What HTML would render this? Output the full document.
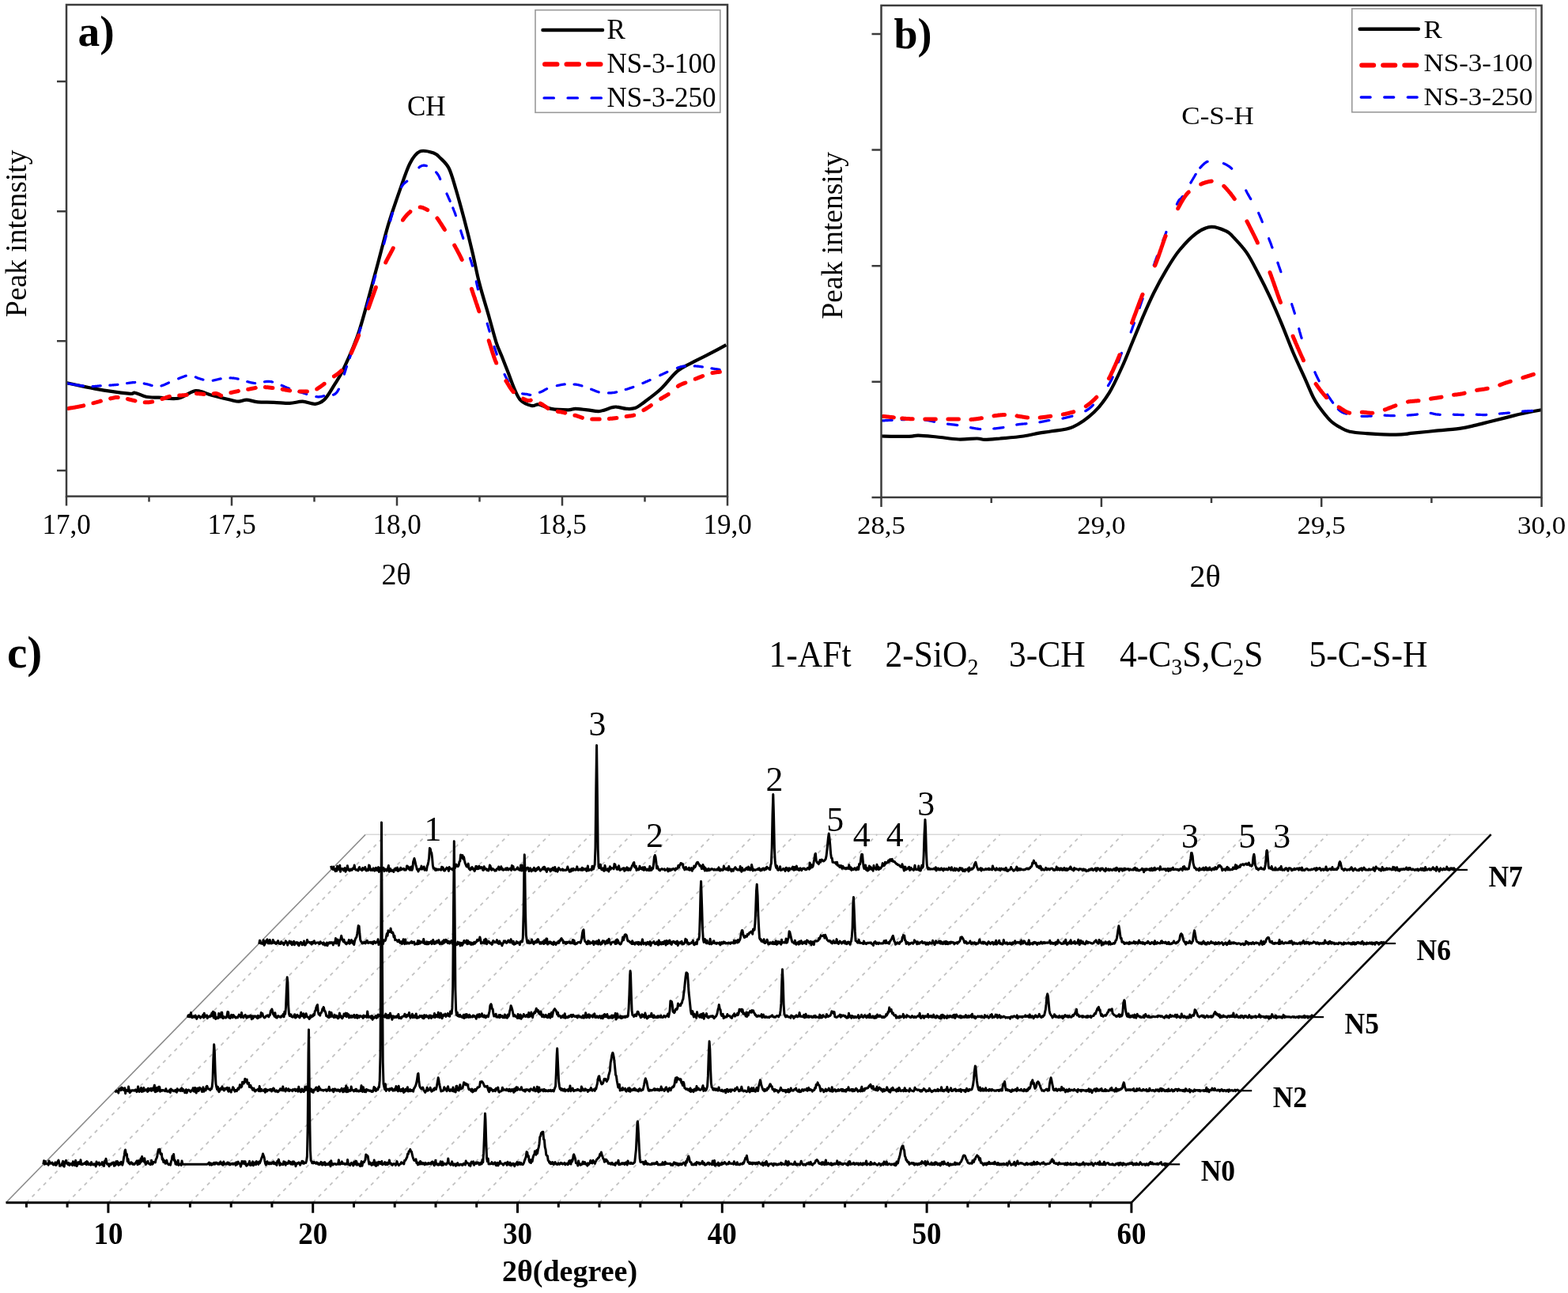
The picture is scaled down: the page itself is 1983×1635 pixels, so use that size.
<!DOCTYPE html>
<html><head><meta charset="utf-8"><title>XRD figure</title>
<style>html,body{margin:0;padding:0;background:#fff;overflow:hidden;width:1983px;height:1635px;}svg{display:block;}</style>
</head><body>
<svg width="1983" height="1635" viewBox="0 0 1983 1635">
<rect width="100%" height="100%" fill="#fff"/>
<defs><clipPath id="ca"><rect x="84" y="6" width="836" height="621"/></clipPath><clipPath id="cb"><rect x="1114.5" y="7" width="835" height="621"/></clipPath></defs>
<g clip-path="url(#ca)" fill="none" stroke-linejoin="round">
<path d="M84 484.1C90.1 485.4 107.2 489.4 120.3 491.6C133.5 493.9 154.3 496.8 162.7 497.7C171.1 498.5 167.1 496 170.8 496.7C174.5 497.3 179.8 500.7 184.9 501.7C189.9 502.7 194.3 502.4 201 502.7C207.8 503 217.5 505.1 225.2 503.7C233 502.3 240.4 494.9 247.4 494.2C254.5 493.6 260.2 497.8 267.6 499.7C275 501.6 286.1 504.4 291.8 505.7C297.5 507.1 298.5 507.7 301.9 507.7C305.2 507.7 307.9 505.6 312 505.7C316 505.8 320.4 507.8 326.1 508.4C331.8 508.9 339.5 508.5 346.3 508.8C353 509 360.4 509.9 366.4 509.8C372.5 509.6 377.2 507.6 382.6 507.7C388 507.9 394 511.3 398.7 510.8C403.4 510.3 406.8 508.8 410.8 504.7C414.8 500.7 418.9 493.1 422.9 486.6C426.9 480 429.8 476.8 435 465.4C440.2 454.1 447.5 439 454.3 418.3C461 397.6 469.6 363.4 475.7 341.3C481.7 319.1 485.7 302.4 490.6 285.6C495.6 268.8 501 253.9 505.6 240.6C510.3 227.4 514.2 214.6 518.5 206.4C522.8 198.2 526.3 193.5 531.3 191.4C536.3 189.3 544.2 192.1 548.5 193.5C552.7 195 553.8 196.8 557 200C560.2 203.2 564.5 206.4 567.7 212.8C570.9 219.2 573.1 227.8 576.3 238.5C579.5 249.2 583.4 263.5 587 277C590.6 290.6 594.5 306.3 597.7 319.9C600.9 333.4 602.7 344.7 606.3 358.4C609.8 372.1 615.4 389.8 618.9 402.2C622.4 414.6 624.9 424.6 627.5 432.8C630.1 441 632.2 444.5 634.8 451.1C637.4 457.7 640.4 465.4 643.1 472.3C645.7 479.1 648.2 486.6 650.8 492.3C653.3 497.9 654.9 502.7 658.4 506.1C662 509.6 668.4 512.1 672.3 513C676.1 513.9 677.4 510.9 681.5 511.5C685.6 512.1 690.7 515.7 696.9 516.9C703.1 518 713.3 518.4 718.4 518.4C723.6 518.4 723.6 516.9 727.7 516.9C731.8 516.9 737.9 517.9 743 518.4C748.2 518.9 753.3 520.5 758.4 520C763.5 519.5 770.2 516.2 773.8 515.3C777.4 514.5 776.9 514.3 780 514.6C783 514.8 788.4 516.6 792.3 516.9C796.1 517.1 799.4 517.4 803 516.1C806.6 514.8 808.4 513.2 813.8 509.2C819.2 505.2 828.1 498.9 835.3 492.3C842.5 485.6 849.7 475.1 856.9 469.2C864 463.3 871.7 460.5 878.4 456.9C885 453.3 890.2 451.1 896.8 447.7C903.5 444.2 914.8 438.1 918.4 436.1" stroke="#000" stroke-width="4.2"/>
<path d="M85.6 484.8 85.6 484.8 86.1 484.9 86.6 485 87.1 485.1 87.7 485.2 88.3 485.3 88.9 485.4 89.5 485.5 90.2 485.6 90.8 485.7 91.5 485.9 92.2 486 92.9 486.1 93.7 486.2 94.4 486.4 95.1 486.5 95.7 486.6M95.3 486.5 95.9 486.6 96.6 486.8 97.4 486.9 98.2 487 98.9 487.1 99.7 487.3 100.5 487.4 101.2 487.5 102 487.6 102.8 487.7 103.5 487.8 104.3 487.9 105 488 105.4 488.1M117 488.6 117.4 488.6 117.9 488.6 118.4 488.6 119 488.5 119.5 488.5 120 488.5 120.5 488.4 121 488.4 121.5 488.4 122 488.3 122.5 488.3 122.9 488.2 123.4 488.2 123.9 488.1 124.4 488.1 124.9 488 125.3 488 125.8 487.9 126.3 487.9 126.7 487.9 127.2 487.8M138.8 487.2 139 487.2 139.4 487.1 139.7 487.1 140.1 487.1 140.5 487.1 140.9 487 141.3 487 141.7 487 142.1 487 142.5 486.9 142.9 486.9 143.3 486.9 143.7 486.8 144.2 486.8 144.6 486.7 145.1 486.7 145.6 486.7 146.1 486.6 146.6 486.6 147.1 486.5 147.6 486.5 148.1 486.4 148.7 486.3 149 486.3M160.5 484.6 160.8 484.6 161.4 484.5 162.1 484.4 162.7 484.3 163.4 484.2 164 484.1 164.6 484.1 165.2 484 165.8 483.9 166.4 483.9 167 483.8 167.6 483.7 168.2 483.7 168.7 483.6 169.3 483.6 169.8 483.6 170.3 483.6 170.7 483.5M182.3 485 182.4 485.1 182.8 485.2 183.1 485.2 183.4 485.3 183.8 485.4 184.2 485.4 184.5 485.5 184.9 485.6 185.3 485.6 185.6 485.7 186 485.8 186.4 485.9 186.8 486 187.2 486.1 187.5 486.2 187.9 486.3 188.3 486.4 188.7 486.5 189.1 486.6 189.5 486.7 189.8 486.9 190.2 487 190.6 487.1 191 487.2 191.4 487.3 191.8 487.5 192.1 487.6M204 487.9 204.3 487.8 204.8 487.6 205.3 487.5 205.8 487.3 206.3 487.1 206.8 486.9 207.4 486.7 207.9 486.5 208.4 486.3 208.9 486.1 209.4 485.8 209.9 485.6 210.5 485.4 211 485.1 211.5 484.9 212 484.6 212.6 484.4 213.1 484.1 213.4 484M225.7 478.8 226 478.6 226.5 478.4 227 478.2 227.5 478 227.9 477.8 228.4 477.7 228.9 477.5 229.4 477.3 229.8 477.1 230.3 476.9 230.8 476.7 231.2 476.6 231.7 476.4 232.2 476.2 232.6 476.1 233.1 475.9 233.5 475.8 234 475.6 234.4 475.5 234.9 475.3 235.2 475.2M247.4 476.8 247.6 476.9 247.9 477 248.1 477.2 248.4 477.3 248.7 477.5 249 477.6 249.3 477.7 249.6 477.9 249.9 478 250.2 478.1 250.5 478.2 250.8 478.3 251.1 478.4 251.5 478.5 251.8 478.6 252.1 478.7 252.4 478.8 252.8 478.9 253.1 479 253.4 479.1 253.8 479.2 254.1 479.3 254.5 479.4 254.8 479.5 255.1 479.6 255.5 479.7 255.8 479.8 256.2 479.9 256.5 480 256.9 480.1 257 480.1M269.3 481.2 269.5 481.1 269.9 481 270.3 481 270.7 480.9 271.1 480.8 271.5 480.7 271.9 480.6 272.3 480.5 272.7 480.4 273.1 480.3 273.5 480.2 273.9 480.1 274.3 480 274.8 479.9 275.2 479.8 275.6 479.7 276 479.6 276.4 479.5 276.8 479.4 277.2 479.3 277.6 479.2 278 479.1 278.5 479 278.9 478.9 279.2 478.9M291 477.9 291.2 477.9 291.6 477.9 292 477.9 292.4 478 292.8 478 293.3 478 293.7 478 294.1 478.1 294.5 478.1 295 478.1 295.4 478.2 295.9 478.2 296.4 478.3 296.9 478.4 297.4 478.4 297.9 478.5 298.4 478.6 298.9 478.7 299.4 478.8 300 478.9 300.5 479 301.1 479.2 301.2 479.2M312.7 482.6 312.9 482.6 313.6 482.8 314.2 483 314.8 483.1 315.5 483.3 316.1 483.5 316.7 483.6 317.3 483.8 318 483.9 318.6 484 319.2 484.1 319.8 484.2 320.4 484.3 320.9 484.4 321.5 484.5 322.1 484.5 322.6 484.6 322.7 484.6M334.5 482.8 334.5 482.8 335 482.7 335.5 482.7 336 482.6 336.5 482.5 337 482.4 337.5 482.4 338 482.4 338.5 482.3 339 482.3 339.5 482.3 340.1 482.3 340.6 482.3 341.1 482.4 341.7 482.5 342.2 482.5 342.8 482.6 343.4 482.7 343.9 482.9 344.5 483 344.6 483M356.2 487.3 356.5 487.5 357.1 487.7 357.8 488 358.4 488.3 359 488.6 359.6 488.8 360.3 489.1 360.9 489.4 361.5 489.6 362 489.9 362.6 490.1 363.2 490.4 363.8 490.6 364.3 490.8 364.9 491 365.4 491.2 365.6 491.3M378 495.3 378.2 495.4 378.6 495.5 379 495.6 379.3 495.7 379.7 495.8 380.1 495.9 380.5 496 380.9 496.2 381.3 496.3 381.7 496.4 382.1 496.5 382.6 496.7 383 496.8 383.4 496.9 383.9 497 384.3 497.2 384.8 497.3 385.2 497.5 385.7 497.6 386.2 497.8 386.6 497.9 387.1 498.1 387.6 498.2 387.7 498.3M399.8 501.6 400 501.6 400.3 501.7 400.7 501.7 401.1 501.7 401.5 501.8 401.8 501.8 402.2 501.8 402.5 501.8 402.9 501.8 403.2 501.8 403.5 501.8 403.8 501.8 404.1 501.8 404.4 501.7 404.7 501.7 405 501.7 405.3 501.6 405.6 501.6 405.9 501.5 406.2 501.5 406.5 501.4 406.8 501.4 407 501.3 407.3 501.3 407.6 501.2 407.9 501.1 408.1 501 408.4 501 408.7 500.9 409 500.8 409.2 500.7 409.5 500.6 409.8 500.6 409.8 500.6M421.5 499.2 421.5 499.2 421.9 499.1 422.3 499 422.6 498.8 423 498.6 423.3 498.4 423.7 498.2 424.1 497.9 424.4 497.6 424.8 497.3 425.2 497 425.5 496.6 425.9 496.1 426.2 495.7 426.6 495.2 426.9 494.6 427.3 494 427.7 493.4 428 492.7 428.4 492.1M435.4 473.1 435.4 473.1 435.7 472 436.1 470.8 436.5 469.7 436.8 468.5 437.2 467.4 437.5 466.3 437.9 465.1 438.3 464 438.5 463.4M442.3 452.5 442.4 452.1 442.7 451.3 443 450.5 443.3 449.7 443.6 448.9 443.9 448.2 444.2 447.4 444.5 446.7 444.8 446 445.1 445.3 445.4 444.6 445.7 443.9 446 443.3 446.1 443M453.1 424.1 453.4 423.1 453.8 421.8 454.3 420.5 454.7 419.1 455.1 417.6 455.6 416.1 456.1 414.5 456.1 414.3M463.9 387.7 464.2 386.4 464.8 384.4 465.4 382.3 466 380.2 466.6 378.2 466.7 377.9M472.1 358.4 472.2 358 472.7 356.1 473.2 354.3 473.7 352.4 474.2 350.7 474.7 348.9 474.8 348.6M485.6 308.3 485.7 308.1 486 306.8 486.4 305.5 486.7 304.2 487.1 302.9 487.4 301.6 487.8 300.3 488.1 299 488.3 298.5M493.7 279 494.1 277.7 494.4 276.3 494.8 274.9 495.2 273.6 495.6 272.2 496 270.8 496.4 269.4 496.4 269.2M507.7 236.5 508 236 508.3 235.5 508.7 235 509 234.5 509.3 234.1 509.6 233.6 510 233.2 510.3 232.9 510.6 232.5 510.9 232.2 511.2 231.9 511.6 231.6 511.9 231.3 512.2 231 512.5 230.8 512.8 230.5 513.1 230.3 513.4 230 513.8 229.8 514.1 229.5 514.4 229.3 514.7 229.1M529.9 211.8 530.1 211.6 530.4 211.3 530.7 211.1 531 210.9 531.3 210.7 531.6 210.5 531.9 210.3 532.2 210.2 532.5 210 532.8 209.9 533 209.8 533.3 209.7 533.6 209.6 533.9 209.5 534.2 209.4 534.4 209.4 534.7 209.3 535 209.3 535.2 209.2 535.5 209.2 535.8 209.2 536 209.2 536.3 209.2 536.5 209.2 536.8 209.2 537.1 209.2 537.3 209.3 537.6 209.3 537.9 209.3 538.1 209.4 538.4 209.4 538.6 209.5 538.9 209.6 539.1 209.6 539.3 209.7M551.6 217.9 551.6 217.9 551.8 218.2 552.1 218.4 552.3 218.7 552.5 219 552.7 219.2 552.9 219.5 553.1 219.8 553.3 220 553.5 220.3 553.7 220.5 553.8 220.7 554 221 554.2 221.2 554.3 221.4 554.4 221.6 554.6 221.9 554.7 222.1 554.8 222.3 555 222.6 555.1 222.8 555.2 223 555.3 223.3 555.4 223.5 555.6 223.8 555.7 224.1 555.8 224.3 555.9 224.6 556 224.9 556.2 225.2 556.3 225.5 556.4 225.8 556.6 226.2 556.7 226.5 556.7 226.5M565 245 565.1 245.3 565.6 246.2 566 247.1 566.4 248 566.8 248.9 567.2 249.9 567.6 250.8 568 251.8 568.5 252.7 568.9 253.7 569.2 254.3M572.8 263 573.1 263.8 573.5 264.6 573.8 265.5 574.1 266.3 574.5 267.2 574.8 268 575.1 268.8 575.4 269.6 575.7 270.4 576 271.2 576.2 272 576.4 272.5M582.7 291.7 582.9 292.5 583.2 293.3 583.4 294.1 583.7 295 584 295.8 584.3 296.7 584.6 297.6 584.8 298.5 585.1 299.3 585.4 300.2 585.8 301.1 585.8 301.4M594.5 326.5 594.7 327.4 595 328.3 595.4 329.3 595.7 330.3 596 331.3 596.3 332.2 596.6 333.2 596.9 334.1 597.1 335.1 597.4 336 597.5 336.2M602.3 355.9 602.3 356.1 602.5 357 602.7 357.9 602.9 358.8 603.1 359.7 603.3 360.6 603.5 361.5 603.7 362.4 603.9 363.3 604.1 364.2 604.3 365.1 604.4 365.8M616.2 409.2 616.4 409.9 616.7 410.9 617 411.9 617.3 412.9 617.6 413.9 617.9 414.9 618.2 416 618.5 417 618.8 418 619.1 419M625 438.3 625.1 438.3 625.4 439.4 625.7 440.4 626 441.4 626.4 442.4 626.7 443.4 627 444.4 627.3 445.4 627.7 446.3 628 447.3 628.2 448M638.1 473.5 638.1 473.5 638.4 474.1 638.7 474.6 638.9 475.2 639.2 475.7 639.4 476.2 639.7 476.7 640 477.3 640.2 477.8 640.5 478.3 640.8 478.8 641 479.3 641.3 479.8 641.6 480.3 641.9 480.7 642.1 481.2 642.4 481.7 642.7 482.1 642.9 482.5M660.7 497.8 660.9 497.9 661 497.9 661.2 497.9 661.4 498 661.5 498 661.7 498 661.9 498.1 662 498.1 662.2 498.1 662.3 498.1 662.5 498.2 662.6 498.2 662.8 498.2 663 498.2 663.1 498.2 663.3 498.2 663.4 498.2 663.6 498.2 663.7 498.3 663.9 498.3 664 498.3 664.2 498.3 664.3 498.3 664.5 498.3 664.6 498.3 664.8 498.3 664.9 498.3 665.1 498.3 665.2 498.3 665.4 498.3 665.5 498.4 665.7 498.4 665.8 498.4 666 498.4 666.1 498.4 666.3 498.5 666.4 498.5 666.6 498.5 666.7 498.5 666.9 498.6 667 498.6 667.2 498.6 667.3 498.7 667.4 498.7 667.5 498.7 667.7 498.8 667.8 498.8 667.9 498.9 668.1 498.9 668.2 498.9 668.3 499 668.4 499 668.6 499 668.7 499.1 668.8 499.1 669 499.1 669.1 499.2 669.3 499.2 669.4 499.2 669.5 499.3 669.7 499.3 669.8 499.3 670 499.3 670.2 499.3 670.3 499.3 670.5 499.3 670.7 499.3 670.8 499.3M682.5 496.2 682.5 496.1 682.9 496 683.2 495.9 683.5 495.8 683.8 495.7 684 495.6 684.3 495.5 684.6 495.4 684.9 495.2 685.1 495.1 685.4 495 685.6 494.9 685.8 494.8 686.1 494.7 686.3 494.6 686.5 494.5 686.7 494.4 686.9 494.3 687.1 494.1 687.3 494 687.5 493.9 687.7 493.8 687.9 493.7 688.1 493.6 688.3 493.4 688.4 493.3 688.6 493.2 688.8 493.1 689 493 689.2 492.9 689.4 492.7 689.6 492.6 689.8 492.5 690 492.4 690.3 492.3 690.5 492.1 690.7 492 690.9 491.9 691.2 491.8 691.4 491.7 691.6 491.6M704.3 487.7 704.7 487.6 705.2 487.5 705.7 487.4 706.2 487.3 706.7 487.2 707.2 487.1 707.7 487 708.2 486.9 708.6 486.8 709.1 486.7 709.6 486.6 710.1 486.5 710.5 486.4 711 486.3 711.4 486.3 711.9 486.2 712.3 486.1 712.7 486.1 713.1 486 713.5 486 714 485.9 714.3 485.9M726 486 726.3 486 726.6 486 727 486.1 727.3 486.1 727.7 486.1 728 486.2 728.3 486.2 728.7 486.2 729 486.3 729.3 486.3 729.6 486.4 729.9 486.4 730.2 486.5 730.5 486.5 730.8 486.6 731.1 486.6 731.4 486.7 731.7 486.8 731.9 486.8 732.2 486.9 732.5 487 732.8 487 733.1 487.1 733.3 487.2 733.6 487.2 733.9 487.3 734.2 487.4 734.5 487.5 734.7 487.5 735 487.6 735.3 487.7 735.6 487.8 735.9 487.9 736 487.9M747.7 492.2 747.7 492.2 748.2 492.4 748.7 492.6 749.2 492.8 749.7 493 750.2 493.2 750.7 493.4 751.2 493.6 751.7 493.8 752.2 494 752.7 494.2 753.1 494.4 753.6 494.6 754.1 494.7 754.6 494.9 755 495.1 755.5 495.2 755.9 495.4 756.4 495.5 756.8 495.7 757.2 495.8 757.2 495.8M769.5 496.9 769.6 496.9 769.9 496.9 770.1 496.9 770.4 496.9 770.7 496.9 771 496.9 771.3 496.9 771.6 496.9 771.8 496.9 772.1 496.8 772.3 496.8 772.6 496.8 772.8 496.8 773.1 496.8 773.3 496.8 773.5 496.8 773.8 496.7 774 496.7 774.2 496.7 774.5 496.7 774.7 496.7 774.9 496.6 775.2 496.6 775.4 496.6 775.6 496.6 775.9 496.5 776.1 496.5 776.3 496.5 776.6 496.4 776.8 496.4 777.1 496.3 777.4 496.3 777.6 496.2 777.9 496.2 778.2 496.1 778.5 496.1 778.8 496 779.1 495.9 779.4 495.9 779.7 495.8M791.2 492.6 791.5 492.5 792.1 492.3 792.6 492.2 793.2 492 793.7 491.8 794.2 491.7 794.8 491.5 795.3 491.3 795.8 491.1 796.4 491 796.9 490.8 797.4 490.6 798 490.4 798.5 490.3 799 490.1 799.5 489.9 800 489.7 800.5 489.6 800.9 489.4M812.9 484.6 813.2 484.5 813.7 484.3 814.1 484.1 814.6 483.9 815 483.7 815.5 483.5 816 483.3 816.5 483.1 816.9 482.8 817.4 482.6 817.9 482.4 818.4 482.2 818.9 482 819.4 481.7 819.9 481.5 820.5 481.3 821 481 821.5 480.8 822.1 480.5 822.2 480.5M834.6 474.6 834.7 474.6 835.3 474.3 835.9 474 836.5 473.7 837.1 473.5 837.7 473.2 838.2 472.9 838.8 472.7 839.4 472.4 839.9 472.1 840.5 471.9 841 471.7 841.5 471.4 842 471.2 842.5 471 843 470.7 843.5 470.5 843.9 470.4M856.5 465.3 856.6 465.2 856.9 465.1 857.2 465 857.5 464.9 857.8 464.8 858.1 464.7 858.4 464.6 858.7 464.5 858.9 464.4 859.2 464.3 859.4 464.2 859.7 464.2 859.9 464.1 860.1 464 860.3 464 860.5 463.9 860.7 463.9 860.8 463.8 861 463.7 861.2 463.7 861.3 463.7 861.5 463.6 861.6 463.6 861.8 463.5 861.9 463.5 862.1 463.5 862.2 463.4 862.4 463.4 862.5 463.4 862.7 463.4 862.8 463.3 863 463.3 863.1 463.3 863.3 463.3 863.4 463.3 863.6 463.2 863.8 463.2 864 463.2 864.2 463.2 864.4 463.2 864.6 463.2 864.8 463.1 865 463.1 865.3 463.1 865.5 463.1 865.8 463.1 866.1 463.1 866.3 463M878.3 462.9 878.7 462.9 879.1 462.9 879.5 462.9 879.9 463 880.3 463 880.7 463 881.1 463 881.5 463.1 881.8 463.1 882.2 463.1 882.6 463.2 883 463.2 883.4 463.2 883.8 463.3 884.1 463.3 884.5 463.4 884.9 463.4 885.3 463.5 885.7 463.5 886.1 463.6 886.5 463.6 886.8 463.7 887.2 463.8 887.6 463.8 888 463.9 888.4 463.9 888.4 463.9M900 465.8 900.2 465.9 900.6 465.9 901 466 901.5 466.1 901.9 466.1 902.4 466.2 902.8 466.3 903.3 466.3 903.7 466.4 904.2 466.5 904.6 466.5 905.1 466.6 905.5 466.7 905.9 466.7 906.3 466.8 906.8 466.9 907.2 466.9 907.6 467 908 467 908.4 467.1 908.7 467.1 909.1 467.2 909.5 467.3 909.8 467.3 910.1 467.4" stroke="#0000ff" stroke-width="3.2" stroke-linecap="round"/>
<path d="M86.5 516.4 86.9 516.4 87.3 516.3 87.7 516.2 88.2 516.1 88.7 516.1 89.2 516 89.7 515.9 90.2 515.8 90.7 515.7 91.3 515.7 91.8 515.6 92.4 515.5 93 515.4 93.6 515.3 94.2 515.2 94.8 515.1 95.4 515 96 514.8M96.2 514.8 96.7 514.7 97.3 514.6 98 514.5 98.6 514.4 99.3 514.2 100 514.1 100.7 514 101.3 513.8 102 513.7 102.7 513.6 103.4 513.4 104.1 513.3 104.8 513.1 105.5 513 105.7 512.9M117.9 509.7 118.2 509.7 119.2 509.4 120.1 509.1 121.1 508.9 122.1 508.6 123 508.3 124 508.1 125 507.8 125.9 507.5 126.9 507.3 127.4 507.1M139.7 503.9 139.9 503.8 140.5 503.7 141.1 503.6 141.6 503.5 142.1 503.4 142.6 503.3 143 503.2 143.5 503.1 143.9 503 144.3 502.9 144.6 502.8 145 502.8 145.3 502.7 145.6 502.7 145.9 502.6 146.2 502.6 146.4 502.5 146.7 502.5 146.9 502.5 147.1 502.4 147.4 502.4 147.6 502.4 147.8 502.4 148 502.4 148.2 502.4 148.4 502.4 148.6 502.4 148.8 502.4 149 502.4 149.2 502.4M161.4 504.5 161.9 504.7 162.4 504.8 162.9 504.9 163.4 505 163.8 505.2 164.3 505.3 164.8 505.4 165.3 505.5 165.8 505.6 166.2 505.8 166.7 505.9 167.2 506 167.6 506.1 168.1 506.2 168.6 506.3 169 506.4 169.5 506.5 169.9 506.6 170.3 506.7 170.8 506.7 170.9 506.8M183.2 508.7 183.5 508.7 183.8 508.7 184.2 508.7 184.6 508.7 185 508.8 185.4 508.8 185.8 508.8 186.1 508.8 186.5 508.8 186.9 508.8 187.3 508.7 187.7 508.7 188 508.7 188.4 508.7 188.8 508.6 189.1 508.6 189.5 508.6 189.8 508.5 190.2 508.5 190.5 508.4 190.9 508.3 191.2 508.3 191.6 508.2 191.9 508.1 192.3 508.1 192.6 508 192.7 508M204.9 504.5 205.3 504.4 205.7 504.2 206.1 504.1 206.5 504 206.9 503.8 207.3 503.7 207.7 503.5 208.2 503.4 208.6 503.2 209 503.1 209.4 502.9 209.8 502.8 210.2 502.7 210.6 502.5 211 502.4 211.4 502.2 211.8 502.1 212.3 502 212.7 501.8 213.1 501.7 213.5 501.6 213.9 501.5 214.3 501.4 214.4 501.3M226.7 500 227 500 227.4 500 227.8 499.9 228.2 499.9 228.6 499.9 229 499.9 229.4 499.9 229.8 499.9 230.2 499.9 230.6 499.9 231 499.8 231.4 499.8 231.8 499.8 232.2 499.8 232.5 499.7 232.9 499.7 233.3 499.7 233.7 499.6 234.1 499.6 234.4 499.6 234.8 499.5 235.2 499.5 235.5 499.4 235.9 499.3 236.2 499.3M248.4 497.6 248.5 497.6 248.8 497.6 249.2 497.7 249.6 497.7 249.9 497.7 250.3 497.7 250.6 497.7 251 497.7 251.4 497.8 251.7 497.8 252.1 497.8 252.4 497.9 252.8 497.9 253.2 497.9 253.5 498 253.9 498 254.2 498.1 254.6 498.1 255 498.1 255.3 498.2 255.7 498.2 256 498.3 256.4 498.3 256.8 498.3 257.1 498.4 257.5 498.4 257.8 498.5 257.9 498.5M270.2 497.7 270.4 497.7 270.7 497.7 271 497.7 271.2 497.7 271.5 497.6 271.8 497.6 272.1 497.6 272.3 497.6 272.6 497.6 272.9 497.6 273.1 497.6 273.4 497.6 273.6 497.7 273.9 497.7 274.1 497.7 274.4 497.8 274.6 497.8 274.8 497.9 275.1 498 275.3 498 275.5 498.1 275.7 498.2 275.9 498.3 276.1 498.4 276.3 498.5 276.5 498.6 276.7 498.7 276.9 498.8 277.1 498.9 277.3 499 277.4 499.1 277.6 499.3 277.8 499.4 278 499.5 278.2 499.6 278.4 499.7 278.5 499.8 278.7 499.9 278.9 500 279.1 500.1 279.3 500.2 279.5 500.3 279.7 500.3 279.7 500.3M291.9 496.6 292.2 496.6 292.6 496.4 293 496.3 293.4 496.2 293.8 496.1 294.3 496 294.7 495.9 295.2 495.8 295.7 495.7 296.1 495.6 296.6 495.5 297.1 495.4 297.6 495.3 298.1 495.2 298.6 495.1 299.1 495 299.7 494.9 300.2 494.8 300.7 494.7 301.3 494.6 301.4 494.5M313.7 492.3 314 492.3 314.5 492.2 315 492.1 315.5 492 316 491.9 316.5 491.8 317 491.7 317.5 491.6 318 491.5 318.5 491.4 319 491.3 319.5 491.2 320 491.1 320.5 491 321 490.9 321.6 490.8 322.1 490.7 322.6 490.6 323.1 490.6 323.2 490.5M335.4 489.6 335.7 489.6 336.2 489.7 336.7 489.7 337.2 489.7 337.7 489.8 338.2 489.8 338.7 489.8 339.2 489.9 339.7 489.9 340.2 490 340.7 490 341.2 490.1 341.7 490.2 342.2 490.2 342.7 490.3 343.2 490.4 343.7 490.4 344.2 490.5 344.8 490.6 344.9 490.6M357.2 492.3 357.4 492.4 357.9 492.5 358.4 492.5 358.9 492.6 359.4 492.7 359.9 492.8 360.4 492.9 360.9 493 361.4 493.1 361.9 493.2 362.4 493.2 362.9 493.3 363.4 493.4 363.9 493.5 364.4 493.6 364.9 493.7 365.4 493.8 365.9 493.8 366.4 493.9 366.7 494M378.9 495 379.4 495 379.9 495 380.5 495 381 495 381.6 495.1 382.1 495.1 382.7 495.1 383.2 495.1 383.7 495.1 384.3 495.1 384.8 495.1 385.3 495.1 385.8 495.1 386.3 495.1 386.8 495 387.3 495 387.8 495 388.3 495 388.4 495M400.7 491.9 400.7 491.8 401 491.7 401.3 491.5 401.5 491.3 401.8 491.2 402.1 491 402.4 490.8 402.7 490.6 403.1 490.4 403.4 490.2 403.8 489.9 404.1 489.7 404.5 489.5 404.9 489.2 405.2 488.9 405.6 488.7 406 488.4 406.4 488.1 406.8 487.8 407.2 487.5 407.6 487.2 408 486.9 408.4 486.6 408.9 486.3 409.3 486 409.7 485.6 410.1 485.3 410.2 485.3M422.4 475.9 422.7 475.8 423 475.5 423.4 475.3 423.8 475 424.1 474.8 424.5 474.5 424.9 474.2 425.2 474 425.6 473.7 426 473.5 426.3 473.2 426.7 473 427 472.7 427.4 472.4 427.8 472.2 428.1 471.9 428.4 471.7 428.8 471.4 429.1 471.1 429.5 470.8 429.8 470.6 430.1 470.3 430.4 470 430.8 469.7 431.1 469.4 431.4 469.1 431.7 468.8 431.9 468.6M444.2 446.5 444.4 446.2 444.7 445.4 445 444.7 445.3 444 445.7 443.2 446 442.5 446.3 441.7 446.7 440.9 447 440.1 447.4 439.3 447.7 438.5 448 437.7 448.4 436.9 448.7 436.1 449.1 435.3 449.4 434.5 449.7 433.7 450.1 432.9 450.4 432.1 450.8 431.3 451.1 430.5 451.4 429.7 451.8 428.9 452.1 428.1 452.4 427.3 452.7 426.5 453 425.7 453.3 424.9 453.7 424.1 453.7 424M465.9 389.9 466 389.6 466.3 388.9 466.6 388.1 466.8 387.4 467.1 386.6 467.4 385.9 467.6 385.1 467.9 384.3 468.2 383.6 468.4 382.8 468.7 382.1 469 381.3 469.2 380.6 469.5 379.8 469.8 379 470 378.3 470.3 377.5 470.6 376.8 470.8 376 471.1 375.3 471.4 374.5 471.6 373.8 471.9 373 472.2 372.3 472.5 371.5 472.7 370.8 473 370 473.3 369.3 473.5 368.5 473.8 367.8 474.1 367.1 474.3 366.3 474.6 365.6 474.9 364.9 475.1 364.1 475.4 363.4 475.4 363.3M487.7 332 487.9 331.5 488.2 330.9 488.5 330.3 488.9 329.6 489.2 329 489.5 328.3 489.9 327.7 490.2 327 490.5 326.4 490.9 325.8 491.2 325.2 491.6 324.5 491.9 323.9 492.2 323.3 492.6 322.6 492.9 322 493.3 321.4 493.6 320.7 493.9 320.1 494.3 319.5 494.6 318.9 494.9 318.2 495.3 317.6 495.6 317 495.9 316.3 496.3 315.7 496.6 315 496.9 314.4 497.2 313.8 497.2 313.8M509.4 278.3 509.5 278.3 509.8 277.8 510.1 277.3 510.4 276.9 510.7 276.4 511.1 276 511.4 275.5 511.7 275.1 512 274.7 512.4 274.3 512.7 273.9 513 273.5 513.4 273.1 513.7 272.7 514.1 272.4 514.4 272 514.7 271.6 515.1 271.3 515.4 270.9 515.8 270.6 516.1 270.3 516.5 270 516.8 269.6 517.1 269.3 517.5 269 517.8 268.7 518.1 268.4 518.4 268.2 518.8 267.9 518.9 267.7M531.2 262.1 531.3 262.1 531.6 262.1 531.9 262.1 532.1 262.1 532.4 262.1 532.7 262.2 533 262.2 533.2 262.3 533.5 262.3 533.8 262.4 534.1 262.5 534.3 262.6 534.6 262.6 534.9 262.7 535.2 262.8 535.4 262.9 535.7 263.1 536 263.2 536.3 263.3 536.5 263.4 536.8 263.5 537.1 263.7 537.4 263.8 537.6 263.9 537.9 264.1 538.2 264.2 538.4 264.3 538.7 264.5 539 264.6 539.2 264.8 539.5 264.9 539.8 265.1 540 265.2 540.3 265.4 540.5 265.5 540.7 265.6M552.9 275.9 553.2 276.3 553.6 276.7 553.9 277.2 554.2 277.7 554.5 278.1 554.9 278.6 555.2 279.1 555.5 279.6 555.9 280.2 556.2 280.7 556.5 281.2 556.9 281.7 557.2 282.3 557.6 282.8 557.9 283.3 558.2 283.9 558.6 284.4 558.9 284.9 559.3 285.5 559.6 286 559.9 286.5 560.3 287.1 560.6 287.6 560.9 288.1 561.3 288.6 561.6 289.1 561.9 289.6 562.2 290.1 562.4 290.5M574.7 310.2 574.7 310.2 575 310.8 575.4 311.4 575.7 311.9 576 312.5 576.3 313.1 576.6 313.7 577 314.3 577.3 314.9 577.6 315.5 578 316.2 578.3 316.8 578.7 317.4 579 318.1 579.3 318.7 579.7 319.4 580 320 580.4 320.7 580.7 321.3 581 322 581.4 322.7 581.7 323.3 582.1 324 582.4 324.7 582.7 325.4 583.1 326 583.4 326.7 583.7 327.4 584 328.1 584.2 328.4M596.4 365.4 596.5 365.7 596.8 366.5 597 367.3 597.3 368 597.6 368.8 597.8 369.6 598.1 370.4 598.3 371.2 598.6 372 598.9 372.8 599.1 373.6 599.4 374.4 599.7 375.2 600 376 600.2 376.8 600.5 377.7 600.8 378.5 601 379.3 601.3 380.1 601.6 380.9 601.9 381.7 602.1 382.6 602.4 383.4 602.7 384.2 603 385 603.3 385.8 603.5 386.7 603.8 387.5 604.1 388.3 604.4 389.1 604.6 389.9 604.9 390.7 605.2 391.6 605.4 392.4 605.7 393.2 605.9 393.8M618.2 430.7 618.3 431 618.5 431.8 618.8 432.6 619.1 433.5 619.3 434.3 619.6 435.1 619.8 436 620.1 436.8 620.4 437.6 620.6 438.5 620.9 439.3 621.1 440.2 621.4 441 621.7 441.8 621.9 442.7 622.2 443.5 622.4 444.3 622.7 445.1 623 446 623.2 446.8 623.5 447.6 623.8 448.4 624 449.2 624.3 450 624.6 450.8 624.8 451.6 625.1 452.4 625.4 453.1 625.7 453.9 625.9 454.7 626.2 455.4 626.5 456.2 626.8 456.9 627.1 457.6 627.4 458.3 627.7 459 627.7 459.1M639.9 481.7 640.2 482.1 640.5 482.6 640.8 483 641.1 483.5 641.4 484 641.6 484.4 641.9 484.9 642.2 485.3 642.5 485.8 642.7 486.2 643 486.6 643.2 487.1 643.5 487.5 643.7 487.9 644 488.3 644.2 488.7 644.5 489.1 644.7 489.5 645 489.9 645.2 490.3 645.5 490.6 645.7 491 646 491.4 646.2 491.7 646.5 492.1 646.7 492.4 647 492.8 647.2 493.1 647.5 493.5 647.8 493.8 648 494.1 648.3 494.5 648.6 494.8 648.8 495.1 649.1 495.4 649.4 495.7 649.4 495.8M661.7 504.2 661.7 504.2 662.1 504.4 662.5 504.6 662.9 504.7 663.2 504.9 663.6 505.1 664 505.2 664.3 505.4 664.6 505.5 665 505.6 665.3 505.8 665.6 505.9 665.9 506 666.2 506.1 666.5 506.2 666.7 506.3 667 506.4 667.2 506.4 667.5 506.5 667.7 506.5 667.9 506.6 668.1 506.6 668.4 506.6 668.6 506.6 668.7 506.6 668.9 506.6 669.1 506.6 669.3 506.6 669.5 506.5 669.6 506.5 669.8 506.5 670 506.4 670.1 506.4 670.3 506.4 670.4 506.3 670.6 506.3 670.7 506.2 670.9 506.2 671.1 506.2 671.2 506.1M683.4 510.1 683.7 510.3 684 510.4 684.3 510.6 684.6 510.7 684.9 510.9 685.2 511.1 685.5 511.2 685.7 511.4 686 511.6 686.3 511.8 686.6 512 686.9 512.2 687.2 512.3 687.5 512.5 687.8 512.8 688.1 513 688.4 513.2 688.7 513.4 689 513.6 689.3 513.8 689.6 514 689.9 514.2 690.2 514.5 690.5 514.7 690.8 514.9 691.1 515.1 691.4 515.3 691.7 515.5 692 515.7 692.3 516 692.6 516.2 692.9 516.4 692.9 516.4M705.2 520.3 705.6 520.4 706 520.4 706.4 520.5 706.8 520.6 707.2 520.6 707.6 520.7 708 520.7 708.4 520.8 708.8 520.8 709.2 520.9 709.5 521 709.9 521 710.3 521.1 710.7 521.2 711.1 521.3 711.5 521.3 711.9 521.4 712.3 521.5 712.7 521.6 713.1 521.7 713.4 521.8 713.8 521.9 714.2 521.9 714.6 522 714.7 522.1M726.9 525.2 727 525.2 727.3 525.2 727.7 525.3 728 525.4 728.3 525.5 728.7 525.6 729 525.7 729.4 525.8 729.7 526 730 526.1 730.3 526.2 730.7 526.3 731 526.4 731.3 526.5 731.6 526.6 731.9 526.7 732.3 526.8 732.6 526.9 732.9 527 733.2 527.1 733.5 527.2 733.8 527.4 734.1 527.5 734.4 527.6 734.7 527.7 735 527.8 735.3 527.9 735.6 528 735.9 528.1 736.2 528.2 736.4 528.3M748.7 530 748.8 530 749.2 530 749.5 530 749.9 530 750.3 530 750.7 530 751.2 530 751.6 530 752.1 530 752.6 530 753.1 529.9 753.6 529.9 754.1 529.9 754.7 529.9 755.2 529.9 755.8 529.9 756.4 529.9 757 529.9 757.6 529.9 758.2 529.9 758.2 529.9M770.4 529.4 770.6 529.4 771.2 529.4 771.7 529.3 772.3 529.3 772.8 529.3 773.3 529.2 773.8 529.2 774.3 529.2 774.7 529.1 775.2 529.1 775.7 529 776.1 529 776.5 528.9 777 528.9 777.4 528.8 777.8 528.8 778.2 528.7 778.6 528.7 779 528.6 779.4 528.6 779.8 528.5 779.9 528.5M792.2 526.5 792.4 526.5 792.7 526.4 793.1 526.4 793.4 526.4 793.8 526.3 794.1 526.3 794.5 526.3 794.8 526.2 795.2 526.2 795.5 526.1 795.9 526.1 796.2 526.1 796.5 526 796.9 526 797.2 525.9 797.6 525.9 797.9 525.8 798.2 525.8 798.6 525.7 798.9 525.7 799.3 525.6 799.6 525.5 799.9 525.5 800.3 525.4 800.6 525.3 801 525.2 801.3 525.1 801.6 525 801.7 525M813.9 518.7 814.2 518.6 814.5 518.3 814.9 518.1 815.3 517.9 815.7 517.6 816.1 517.4 816.5 517.1 816.9 516.9 817.3 516.6 817.7 516.4 818.1 516.1 818.5 515.8 819 515.5 819.4 515.2 819.9 515 820.4 514.6 820.8 514.3 821.3 514 821.8 513.7 822.3 513.4 822.7 513.1 823.2 512.7 823.4 512.6M835.7 504.3 836.1 504.1 836.4 503.9 836.8 503.6 837.2 503.4 837.5 503.2 837.9 503 838.2 502.8 838.5 502.6 838.9 502.4 839.2 502.2 839.5 502 839.8 501.8 840.1 501.6 840.5 501.4 840.8 501.2 841.1 501.1 841.4 500.9 841.7 500.7 842 500.5 842.2 500.4 842.5 500.2 842.8 500 843.1 499.9 843.4 499.7 843.7 499.5 844 499.3 844.2 499.2 844.5 499 844.8 498.8 845.1 498.6 845.2 498.6M857.4 488.3 857.7 488.1 858.1 487.9 858.4 487.7 858.7 487.5 859.1 487.3 859.4 487.1 859.7 486.9 860.1 486.7 860.4 486.6 860.8 486.4 861.2 486.2 861.5 486.1 861.9 485.9 862.3 485.8 862.7 485.6 863 485.4 863.4 485.3 863.8 485.1 864.2 485 864.6 484.8 865 484.7 865.4 484.5 865.8 484.4 866.2 484.3 866.6 484.1 866.9 484M879.2 479.3 879.3 479.3 879.7 479.1 880.1 478.9 880.5 478.8 880.9 478.6 881.3 478.5 881.7 478.3 882 478.1 882.4 478 882.8 477.8 883.2 477.7 883.6 477.5 884 477.3 884.4 477.2 884.8 477 885.1 476.9 885.5 476.7 885.9 476.6 886.3 476.4 886.6 476.3 887 476.2 887.4 476 887.7 475.9 888.1 475.7 888.4 475.6 888.7 475.5M900.9 471.6 901.2 471.6 901.5 471.5 901.7 471.5 902 471.4 902.3 471.3 902.6 471.3 902.9 471.2 903.3 471.1 903.6 471.1 903.9 471 904.2 471 904.5 470.9 904.8 470.9 905.1 470.8 905.4 470.8 905.8 470.7 906.1 470.7 906.4 470.7 906.7 470.6 907 470.6 907.3 470.5 907.6 470.5 907.9 470.5 908.2 470.4 908.5 470.4 908.8 470.4 909 470.3 909.3 470.3 909.6 470.3 909.8 470.3 910.1 470.2 910.3 470.2 910.4 470.2" stroke="#ff0000" stroke-width="5" stroke-linecap="round"/>
</g>
<rect x="84" y="6" width="836" height="621.6" fill="none" stroke="#3c3c3c" stroke-width="2.5"/>
<path d="M84 627.6V639.6M293 627.6V639.6M502 627.6V639.6M711 627.6V639.6M920 627.6V639.6M188.5 627.6V634.6M397.5 627.6V634.6M606.5 627.6V634.6M815.5 627.6V634.6M72 103H84M72 267.3H84M72 431.2H84M72 595H84" stroke="#3c3c3c" stroke-width="2.5" fill="none"/>
<text transform="translate(84 674.8) scale(1 1.0)" font-size="35" text-anchor="middle">17,0</text>
<text transform="translate(293 674.8) scale(1 1.0)" font-size="35" text-anchor="middle">17,5</text>
<text transform="translate(502 674.8) scale(1 1.0)" font-size="35" text-anchor="middle">18,0</text>
<text transform="translate(711 674.8) scale(1 1.0)" font-size="35" text-anchor="middle">18,5</text>
<text transform="translate(920 674.8) scale(1 1.0)" font-size="35" text-anchor="middle">19,0</text>
<g clip-path="url(#cb)" fill="none" stroke-linejoin="round">
<path d="M1114.4 551.5C1120.2 551.6 1141.8 552.1 1149.6 551.9C1157.4 551.8 1155.5 550.5 1161.3 550.6C1167.2 550.7 1176.3 551.7 1184.8 552.5C1193.3 553.3 1203.7 555.1 1212.2 555.5C1220.7 555.8 1230.2 554.4 1235.7 554.5C1241.2 554.5 1240.6 555.9 1245.5 555.9C1250.4 555.9 1256.9 555.2 1265 554.5C1273.2 553.8 1286.2 552.7 1294.4 551.5C1302.6 550.4 1308 548.7 1314 547.6C1319.9 546.6 1322.8 546.6 1330 545.3C1337.2 544 1347.9 544 1356.9 539.9C1365.9 535.9 1376.2 528.3 1383.8 521.1C1391.5 513.9 1396.8 506.3 1402.7 496.9C1408.5 487.4 1413.9 475.3 1418.8 464.5C1423.8 453.8 1427.8 443 1432.3 432.2C1436.8 421.5 1441.3 410.3 1445.7 399.9C1450.2 389.6 1454.3 380.2 1459.2 370.3C1464.1 360.5 1470 349.7 1475.4 340.7C1480.7 331.8 1485.2 324.1 1491.5 316.5C1497.8 308.9 1506.3 299.9 1513 295C1519.8 290 1525.6 287.3 1531.9 286.9C1538.2 286.4 1546.2 290.2 1550.7 292.3C1555.3 294.3 1554.8 294.5 1559.1 299.1C1563.4 303.7 1571.3 311.8 1576.7 319.6C1582.1 327.4 1586.5 336.7 1591.4 346C1596.3 355.3 1601.1 364.9 1606 375.4C1610.9 385.9 1615.8 397.4 1620.7 409.1C1625.6 420.8 1630.5 434.3 1635.4 445.8C1640.3 457.3 1645.7 468.3 1650.1 478.1C1654.5 487.9 1658.2 497.5 1662 504.6C1665.8 511.7 1669.3 515.9 1673 520.7C1676.7 525.5 1680.3 529.9 1684 533.2C1687.7 536.5 1691.2 538.4 1695 540.5C1698.8 542.6 1701.2 544.5 1706.8 545.7C1712.3 547 1718.5 547.4 1728.3 548.1C1738.1 548.7 1755.7 549.7 1765.5 549.6C1775.3 549.6 1778.6 548.5 1787 547.7C1795.5 546.9 1806.6 545.7 1816.4 544.7C1826.2 543.8 1837.6 542.9 1845.8 541.8C1853.9 540.7 1858.8 539.4 1865.3 537.9C1871.9 536.4 1878.4 534.6 1884.9 533C1891.5 531.4 1898 529.7 1904.5 528.1C1911 526.5 1916.6 524.8 1924.1 523.2C1931.6 521.6 1945.3 519.1 1949.5 518.3" stroke="#000" stroke-width="4.2"/>
<path d="M1116 531.9 1116.5 531.9 1117.2 531.8 1117.9 531.8 1118.6 531.8 1119.4 531.7 1120.2 531.7 1121.1 531.6 1121.9 531.6 1122.8 531.6 1123.8 531.5 1124.7 531.5 1125.7 531.4 1126.7 531.4 1127.7 531.3 1128.2 531.3M1140.4 530.7 1141.1 530.7 1142 530.6 1143 530.6 1143.9 530.6 1144.8 530.5 1145.7 530.5 1146.5 530.5 1147.4 530.5 1148.1 530.4 1148.9 530.4 1149.6 530.4 1150.3 530.4 1150.9 530.4 1151.6 530.4 1152.2 530.4 1152.7 530.4M1169.5 531 1169.6 531 1170 531.1 1170.5 531.1 1170.9 531.2 1171.3 531.3 1171.8 531.3 1172.2 531.4 1172.6 531.5 1173 531.5 1173.4 531.6 1173.9 531.7 1174.3 531.7 1174.7 531.8 1175.1 531.9 1175.5 532 1175.9 532.1 1176.3 532.1 1176.7 532.2 1177.1 532.3 1177.5 532.4 1177.9 532.5 1178.3 532.5 1178.6 532.6 1179 532.7 1179.4 532.8 1179.8 532.9 1180.2 533 1180.5 533.1 1180.9 533.1 1181.3 533.2 1181.6 533.3M1198.5 536.2 1198.7 536.2 1199.1 536.2 1199.4 536.3 1199.8 536.3 1200.2 536.4 1200.6 536.4 1201 536.4 1201.4 536.5 1201.7 536.5 1202.1 536.6 1202.5 536.6 1202.9 536.7 1203.3 536.7 1203.7 536.8 1204.1 536.8 1204.5 536.9 1204.9 536.9 1205.4 536.9 1205.8 537 1206.2 537 1206.6 537.1 1207 537.1 1207.4 537.2 1207.8 537.2 1208.2 537.3 1208.6 537.3 1209 537.4 1209.4 537.4 1209.8 537.5 1210.2 537.6 1210.6 537.6 1210.8 537.6M1227.6 540.7 1227.9 540.8 1228.2 540.8 1228.6 540.9 1229 541 1229.3 541 1229.7 541.1 1230 541.2 1230.4 541.2 1230.7 541.3 1231.1 541.3 1231.4 541.4 1231.8 541.5 1232.1 541.5 1232.5 541.6 1232.8 541.6 1233.1 541.7 1233.5 541.8 1233.8 541.8 1234.2 541.9 1234.5 541.9 1234.8 542 1235.2 542 1235.5 542.1 1235.8 542.1 1236.2 542.2 1236.5 542.2 1236.8 542.3 1237.2 542.3 1237.5 542.4 1237.9 542.4 1238.2 542.5 1238.5 542.5 1238.9 542.5 1239.2 542.6 1239.5 542.6 1239.8 542.6M1256.7 542 1256.8 542 1257.1 542 1257.5 541.9 1257.9 541.9 1258.3 541.9 1258.7 541.8 1259 541.8 1259.4 541.8 1259.8 541.7 1260.2 541.7 1260.6 541.6 1261 541.6 1261.4 541.5 1261.8 541.5 1262.2 541.4 1262.6 541.4 1263 541.3 1263.4 541.3 1263.8 541.2 1264.2 541.2 1264.6 541.1 1265 541.1 1265.4 541 1265.8 541 1266.2 540.9 1266.6 540.9 1267 540.8 1267.4 540.8 1267.8 540.7 1268.2 540.6 1268.6 540.6 1268.9 540.5M1285.8 537 1285.8 537 1286.2 536.9 1286.6 536.9 1286.9 536.8 1287.3 536.8 1287.7 536.7 1288 536.7 1288.4 536.6 1288.7 536.6 1289.1 536.5 1289.4 536.5 1289.8 536.4 1290.1 536.4 1290.5 536.4 1290.8 536.3 1291.2 536.3 1291.5 536.3 1291.9 536.2 1292.2 536.2 1292.5 536.2 1292.9 536.1 1293.2 536.1 1293.5 536.1 1293.9 536 1294.2 536 1294.6 536 1294.9 536 1295.2 535.9 1295.6 535.9 1295.9 535.9 1296.2 535.9 1296.6 535.8 1296.9 535.8 1297.2 535.8 1297.6 535.8 1297.9 535.7 1298 535.7M1314.9 533.8 1315.1 533.8 1315.5 533.7 1315.8 533.6 1316.2 533.6 1316.6 533.5 1317 533.4 1317.3 533.4 1317.7 533.3 1318.1 533.2 1318.5 533.1 1318.9 533.1 1319.3 533 1319.7 532.9 1320.1 532.8 1320.4 532.8 1320.8 532.7 1321.2 532.6 1321.6 532.5 1322 532.4 1322.4 532.4 1322.8 532.3 1323.2 532.2 1323.6 532.1 1324 532 1324.4 532 1324.8 531.9 1325.2 531.8 1325.6 531.7 1326 531.6 1326.4 531.6 1326.8 531.5 1326.9 531.5M1343.9 529.1 1344.2 529.1 1344.7 529 1345.1 528.8 1345.6 528.7 1346.2 528.6 1346.7 528.5 1347.2 528.4 1347.7 528.2 1348.3 528.1 1348.9 528 1349.4 527.8 1350 527.7 1350.6 527.5 1351.2 527.4 1351.9 527.2 1352.5 527.1 1353.1 526.9 1353.7 526.8 1354.4 526.6 1355 526.4 1355.7 526.3 1355.9 526.2M1372.8 519.7 1373.2 519.5 1373.7 519.2 1374.1 519 1374.5 518.7 1374.9 518.4 1375.3 518.2 1375.7 517.9 1376.1 517.6 1376.5 517.3 1376.9 517.1 1377.3 516.8 1377.7 516.5 1378 516.2 1378.4 515.9 1378.8 515.6 1379.2 515.2 1379.5 514.9 1379.9 514.6 1380.3 514.3 1380.6 513.9 1381 513.6 1381.4 513.2 1381.7 512.8 1382.1 512.5 1382.4 512.1M1401.4 487.7 1401.4 487.6 1401.9 486.8 1402.4 486.1 1402.8 485.3 1403.3 484.5 1403.7 483.8 1404.1 483 1404.5 482.2 1405 481.5 1405.4 480.7 1405.8 479.9 1406.2 479.1 1406.6 478.3 1406.9 477.5 1407.2 476.9M1414.4 458 1414.5 457.5 1414.8 456.6 1415.2 455.7 1415.5 454.8 1415.8 453.9 1416.1 453 1416.4 452.1 1416.7 451.3 1417 450.4 1417.3 449.6 1417.6 448.8 1417.9 448 1418.2 447.2 1418.5 446.5 1418.5 446.4M1430.2 420 1430.3 419.7 1430.6 418.7 1431 417.8 1431.4 416.8 1431.8 415.7 1432.1 414.7 1432.5 413.6 1432.9 412.5 1433.3 411.4 1433.7 410.3 1434.1 409.2 1434.4 408.4M1441.1 389.4 1441.4 388.5 1441.8 387.3 1442.2 386.1 1442.6 384.9 1443 383.7 1443.4 382.5 1443.8 381.3 1444.2 380.2 1444.6 379 1445 377.9 1445.1 377.7M1459.2 335.3 1459.6 334.3 1460 333.2 1460.3 332.2 1460.7 331.1 1461.1 330 1461.5 329 1461.9 327.9 1462.3 326.8 1462.7 325.7 1463.1 324.6 1463.4 323.8M1470.6 304.9 1470.6 304.7 1471 303.6 1471.4 302.5 1471.9 301.5 1472.3 300.4 1472.7 299.4 1473.1 298.3 1473.4 297.3 1473.8 296.3 1474.2 295.3 1474.6 294.2 1474.9 293.4M1488.4 258.2 1488.5 257.9 1488.8 257.3 1489.1 256.7 1489.3 256.2 1489.6 255.8 1489.8 255.3 1490 254.9 1490.2 254.6 1490.4 254.3 1490.6 254 1490.7 253.7 1490.9 253.5 1491.1 253.2 1491.2 253 1491.4 252.9 1491.5 252.7 1491.6 252.5 1491.8 252.4 1491.9 252.3 1492.1 252.1 1492.2 252 1492.3 251.9 1492.5 251.8 1492.6 251.7 1492.8 251.5 1493 251.4 1493.1 251.3 1493.3 251.1 1493.5 250.9 1493.6 250.8 1493.8 250.6 1494.1 250.3 1494.3 250.1 1494.5 249.8 1494.7 249.5 1495 249.2 1495.3 248.9 1495.6 248.5 1495.6 248.4M1505.9 231 1506 230.9 1506.6 229.9 1507.2 228.8 1507.8 227.8 1508.4 226.8 1509 225.8 1509.6 224.7 1510.2 223.7 1510.8 222.7 1511.3 221.8 1511.9 220.8 1512.2 220.4M1517.8 212.2 1517.9 212.1 1518.4 211.5 1518.9 211 1519.3 210.5 1519.8 210 1520.2 209.5 1520.6 209.1 1521.1 208.7 1521.5 208.3 1521.9 207.9 1522.3 207.5 1522.7 207.2 1523 206.8 1523.4 206.5 1523.8 206.2 1524.2 206 1524.5 205.7 1524.9 205.4 1525.2 205.2 1525.6 205 1526 204.8 1526.3 204.6 1526.7 204.5 1527.1 204.3 1527.1 204.3M1547.4 206.6 1547.6 206.7 1548.3 207 1548.9 207.3 1549.6 207.6 1550.2 207.9 1550.8 208.2 1551.5 208.6 1552.1 209 1552.7 209.4 1553.4 209.8 1554 210.2 1554.6 210.6 1555.2 211.1 1555.8 211.6 1556.5 212.1 1557.1 212.6 1557.6 213.1 1557.7 213.2M1575.8 241 1575.8 241 1576.3 241.9 1576.8 242.9 1577.2 243.7 1577.7 244.6 1578.2 245.4 1578.6 246.3 1579.1 247 1579.5 247.8 1579.9 248.5 1580.3 249.2 1580.7 249.9 1581.1 250.5 1581.5 251.1 1581.8 251.6 1581.8 251.7M1591.7 269.3 1591.8 269.6 1592.1 270.4 1592.5 271.2 1592.9 272.1 1593.3 273 1593.6 273.9 1594 274.8 1594.4 275.7 1594.8 276.7 1595.2 277.7 1595.6 278.7 1596 279.7 1596.4 280.6M1604.7 301.6 1604.9 302.3 1605.3 303.4 1605.7 304.4 1606.1 305.4 1606.5 306.4 1606.9 307.4 1607.3 308.4 1607.6 309.4 1608 310.4 1608.3 311.3 1608.7 312.3 1609 313.1M1615.9 332.1 1615.9 332.2 1616.2 333.2 1616.6 334.1 1616.9 335 1617.2 336 1617.6 337 1617.9 337.9 1618.2 338.9 1618.6 339.9 1618.9 340.9 1619.3 341.9 1619.6 342.9 1619.9 343.7M1633.7 384.5 1633.9 385.4 1634.3 386.6 1634.7 387.8 1635.1 388.9 1635.5 390.1 1635.8 391.2 1636.2 392.4 1636.5 393.5 1636.9 394.6 1637.2 395.6 1637.4 396.3M1642.7 415.7 1643 416.6 1643.2 417.5 1643.4 418.4 1643.7 419.3 1643.9 420.2 1644.2 421.1 1644.4 422 1644.7 422.9 1645 423.8 1645.2 424.7 1645.5 425.6 1645.8 426.6 1646.1 427.5 1646.1 427.6M1662.9 470.7 1663 471 1663.4 471.8 1663.8 472.6 1664.1 473.4 1664.5 474.2 1664.9 475 1665.2 475.7 1665.6 476.4 1665.9 477.2 1666.3 477.9 1666.6 478.5 1666.9 479.2 1667.3 479.9 1667.6 480.5 1667.9 481.2 1668.2 481.7M1678.7 499 1678.8 499.2 1679.1 499.8 1679.5 500.4 1679.9 501 1680.3 501.6 1680.7 502.2 1681.2 502.8 1681.6 503.4 1682 504 1682.4 504.6 1682.8 505.2 1683.2 505.8 1683.6 506.4 1684.1 507 1684.5 507.6 1684.9 508.2 1685.3 508.8 1685.6 509.2M1692.4 517.4 1692.6 517.7 1693 518 1693.4 518.4 1693.8 518.7 1694.1 519 1694.5 519.3 1694.8 519.6 1695.2 519.9 1695.6 520.1 1695.9 520.4 1696.3 520.6 1696.6 520.8 1697 521 1697.3 521.2 1697.7 521.4 1698 521.6 1698.3 521.7 1698.7 521.9 1699 522 1699.4 522.2 1699.7 522.3 1700 522.4 1700.4 522.5 1700.7 522.6 1701 522.7 1701.3 522.8 1701.7 522.9 1702 523 1702.3 523.1 1702.6 523.1 1703 523.2 1703 523.2M1722 526.3 1722.2 526.3 1722.6 526.3 1723 526.3 1723.4 526.3 1723.8 526.3 1724.2 526.3 1724.6 526.3 1725 526.3 1725.4 526.3 1725.8 526.3 1726.2 526.3 1726.6 526.3 1727 526.3 1727.5 526.3 1727.9 526.3 1728.3 526.3 1728.7 526.3 1729.1 526.3 1729.5 526.3 1729.9 526.3 1730.3 526.3 1730.7 526.2 1731.1 526.2 1731.5 526.2 1731.9 526.2 1732.3 526.2 1732.7 526.2 1733.1 526.2 1733.4 526.2 1733.8 526.2 1734.2 526.1 1734.3 526.1M1751.1 525.2 1751.3 525.2 1751.7 525.2 1752.1 525.2 1752.4 525.3 1752.8 525.3 1753.2 525.3 1753.6 525.3 1754 525.3 1754.4 525.4 1754.8 525.4 1755.2 525.4 1755.6 525.4 1756 525.5 1756.4 525.5 1756.8 525.5 1757.2 525.5 1757.6 525.5 1758 525.6 1758.4 525.6 1758.8 525.6 1759.2 525.6 1759.6 525.6 1760 525.7 1760.4 525.7 1760.8 525.7 1761.2 525.7 1761.6 525.7 1762 525.7 1762.4 525.7 1762.8 525.7 1763.2 525.7 1763.4 525.7M1780.2 525.1 1780.2 525.1 1780.5 525.1 1780.8 525.1 1781.1 525 1781.4 525 1781.7 525 1782 525 1782.3 525 1782.6 524.9 1782.9 524.9 1783.2 524.9 1783.5 524.9 1783.7 524.9 1784 524.8 1784.3 524.8 1784.5 524.8 1784.8 524.8 1785.1 524.8 1785.4 524.7 1785.6 524.7 1785.9 524.7 1786.2 524.7 1786.4 524.6 1786.7 524.6 1787 524.6 1787.3 524.6 1787.5 524.5 1787.8 524.5 1788.1 524.5 1788.4 524.4 1788.7 524.4 1789 524.4 1789.3 524.4 1789.6 524.3 1790 524.3 1790.3 524.3 1790.6 524.2 1791 524.2 1791.3 524.1 1791.7 524.1 1792 524.1 1792.4 524 1792.4 524M1809.2 522.4 1809.4 522.4 1809.7 522.5 1810 522.5 1810.2 522.6 1810.5 522.6 1810.8 522.7 1811.1 522.8 1811.3 522.8 1811.6 522.9 1811.8 522.9 1812.1 523 1812.4 523.1 1812.6 523.1 1812.9 523.2 1813.2 523.3 1813.4 523.4 1813.7 523.4 1814 523.5 1814.3 523.6 1814.5 523.6 1814.8 523.7 1815.1 523.7 1815.4 523.8 1815.7 523.9 1816 523.9 1816.3 524 1816.6 524 1817 524 1817.3 524.1 1817.6 524.1 1818 524.2 1818.4 524.2 1818.7 524.2 1819.1 524.2 1819.5 524.2 1819.9 524.3 1820.3 524.3 1820.7 524.3 1821.1 524.3 1821.3 524.3M1838.3 524.2 1838.6 524.2 1838.9 524.2 1839.3 524.3 1839.6 524.3 1840 524.3 1840.3 524.3 1840.7 524.3 1841 524.3 1841.3 524.3 1841.7 524.3 1842 524.4 1842.3 524.4 1842.6 524.4 1843 524.4 1843.3 524.4 1843.6 524.4 1843.9 524.4 1844.3 524.5 1844.6 524.5 1844.9 524.5 1845.2 524.5 1845.6 524.5 1845.9 524.5 1846.2 524.5 1846.5 524.5 1846.9 524.5 1847.2 524.5 1847.6 524.6 1847.9 524.6 1848.3 524.6 1848.6 524.6 1849 524.6 1849.3 524.6 1849.7 524.6 1850.1 524.6 1850.4 524.6 1850.6 524.6M1867.4 524.2 1867.5 524.2 1867.8 524.2 1868.2 524.2 1868.5 524.3 1868.9 524.3 1869.2 524.3 1869.5 524.3 1869.9 524.3 1870.2 524.3 1870.5 524.3 1870.9 524.4 1871.2 524.4 1871.5 524.4 1871.9 524.4 1872.2 524.4 1872.5 524.5 1872.9 524.5 1873.2 524.5 1873.5 524.5 1873.9 524.5 1874.2 524.5 1874.5 524.5 1874.9 524.6 1875.2 524.6 1875.5 524.6 1875.9 524.6 1876.2 524.6 1876.6 524.6 1876.9 524.6 1877.3 524.6 1877.6 524.6 1878 524.6 1878.3 524.6 1878.7 524.6 1879.1 524.6 1879.4 524.6 1879.7 524.5M1896.5 523.1 1896.6 523 1896.9 523 1897.2 523 1897.5 523 1897.8 523 1898.1 522.9 1898.3 522.9 1898.6 522.9 1898.9 522.9 1899.1 522.9 1899.4 522.8 1899.7 522.8 1899.9 522.8 1900.2 522.8 1900.5 522.8 1900.7 522.7 1901 522.7 1901.3 522.7 1901.5 522.7 1901.8 522.6 1902.1 522.6 1902.3 522.6 1902.6 522.6 1902.9 522.6 1903.2 522.5 1903.5 522.5 1903.8 522.5 1904.1 522.4 1904.4 522.4 1904.7 522.4 1905.1 522.4 1905.4 522.3 1905.7 522.3 1906.1 522.3 1906.5 522.2 1906.8 522.2 1907.2 522.1 1907.6 522.1 1908 522.1 1908.4 522 1908.7 522M1925.6 520.1 1925.8 520.1 1926.2 520.1 1926.6 520.1 1927 520 1927.4 520 1927.9 520 1928.3 519.9 1928.7 519.9 1929.1 519.9 1929.5 519.9 1929.9 519.8 1930.4 519.8 1930.8 519.8 1931.2 519.8 1931.6 519.7 1932 519.7 1932.4 519.7 1932.8 519.7 1933.2 519.6 1933.6 519.6 1934 519.6 1934.4 519.6 1934.8 519.6 1935.2 519.5 1935.5 519.5 1935.9 519.5 1936.3 519.5 1936.7 519.5 1937 519.4 1937.4 519.4 1937.7 519.4 1937.8 519.4" stroke="#0000ff" stroke-width="3.2" stroke-linecap="round"/>
<path d="M1116.9 526.4 1117.1 526.4 1117.7 526.5 1118.4 526.6 1119.2 526.6 1119.9 526.7 1120.7 526.8 1121.5 526.9 1122.3 527 1123.2 527.1 1124.1 527.2 1125 527.3 1125.9 527.4 1126.9 527.5 1127.8 527.6 1128.8 527.7 1129.8 527.8 1130.4 527.9M1140.7 529 1141 529 1142 529.1 1143 529.2 1144 529.2 1144.9 529.3 1145.9 529.4 1146.9 529.5 1147.8 529.5 1148.7 529.6 1149.6 529.6 1150.5 529.7 1151.4 529.7 1152.3 529.8 1153.1 529.8 1154 529.8 1154.2 529.8M1169.8 530 1170.4 530 1171.3 530 1172.2 530 1173.1 530 1173.9 530 1174.8 530 1175.7 530 1176.6 530 1177.4 530 1178.3 530 1179.1 530 1180 530 1180.8 530 1181.6 530 1182.4 530 1183.2 530 1183.3 530M1198.9 530 1199 530 1199.7 530 1200.4 530 1201.1 530 1201.8 530 1202.5 530 1203.1 530 1203.8 530 1204.5 530 1205.1 530 1205.7 530 1206.4 530 1207 530 1207.6 530 1208.2 530 1208.8 530 1209.4 530 1210 530 1210.6 530 1211.1 530 1211.7 530 1212.2 530 1212.4 530M1227.9 530.4 1228.3 530.4 1228.7 530.4 1229.1 530.3 1229.5 530.3 1229.9 530.3 1230.3 530.2 1230.7 530.2 1231.1 530.2 1231.5 530.1 1231.9 530.1 1232.3 530.1 1232.7 530 1233.1 530 1233.5 529.9 1233.9 529.9 1234.3 529.8 1234.7 529.8 1235.1 529.7 1235.5 529.7 1235.9 529.6 1236.3 529.5 1236.7 529.5 1237.1 529.4 1237.5 529.4 1237.9 529.3 1238.3 529.3 1238.7 529.2 1239.1 529.1 1239.5 529.1 1239.9 529 1240.3 529 1240.6 528.9 1241 528.8 1241.4 528.8 1241.4 528.8M1257 525.9 1257 525.9 1257.4 525.8 1257.8 525.7 1258.1 525.7 1258.5 525.6 1258.9 525.6 1259.3 525.5 1259.7 525.5 1260.1 525.4 1260.5 525.4 1260.8 525.3 1261.2 525.3 1261.6 525.2 1262 525.2 1262.4 525.1 1262.8 525.1 1263.3 525 1263.7 525 1264.1 524.9 1264.5 524.9 1264.9 524.9 1265.3 524.8 1265.7 524.8 1266.1 524.8 1266.5 524.7 1266.9 524.7 1267.3 524.7 1267.7 524.6 1268.1 524.6 1268.5 524.6 1268.9 524.6 1269.3 524.6 1269.7 524.6 1270.1 524.5 1270.5 524.5M1286.1 526 1286.2 526.1 1286.6 526.1 1286.9 526.2 1287.3 526.2 1287.7 526.2 1288 526.3 1288.4 526.3 1288.7 526.4 1289.1 526.4 1289.4 526.5 1289.8 526.6 1290.1 526.6 1290.5 526.7 1290.8 526.7 1291.2 526.8 1291.5 526.8 1291.9 526.9 1292.2 527 1292.5 527 1292.9 527.1 1293.2 527.1 1293.5 527.2 1293.9 527.2 1294.2 527.3 1294.6 527.3 1294.9 527.4 1295.2 527.5 1295.6 527.5 1295.9 527.6 1296.2 527.6 1296.6 527.7 1296.9 527.7 1297.2 527.7 1297.6 527.8 1297.9 527.8 1298.2 527.9 1298.6 527.9 1298.9 527.9 1299.3 528 1299.6 528 1299.6 528M1315.2 528 1315.4 528 1315.8 527.9 1316.2 527.9 1316.5 527.9 1316.9 527.8 1317.2 527.8 1317.6 527.8 1318 527.7 1318.3 527.7 1318.7 527.6 1319.1 527.6 1319.4 527.5 1319.8 527.5 1320.2 527.5 1320.5 527.4 1320.9 527.4 1321.3 527.3 1321.7 527.3 1322 527.2 1322.4 527.2 1322.8 527.1 1323.2 527.1 1323.6 527 1324 526.9 1324.4 526.9 1324.8 526.8 1325.2 526.8 1325.6 526.7 1326.1 526.6 1326.5 526.6 1326.9 526.5 1327.4 526.4 1327.8 526.4 1328.2 526.3 1328.7 526.2M1344.3 523.9 1344.4 523.9 1345 523.8 1345.6 523.7 1346.1 523.6 1346.7 523.5 1347.2 523.4 1347.8 523.3 1348.4 523.2 1348.9 523 1349.4 522.9 1350 522.8 1350.5 522.7 1351 522.6 1351.5 522.4 1352 522.3 1352.5 522.2 1353 522 1353.5 521.9 1354 521.8 1354.5 521.7 1355 521.5 1355.5 521.4 1356 521.3 1356.5 521.2 1356.9 521.1 1357.4 520.9 1357.8 520.8M1373.3 513.8 1373.7 513.5 1374.2 513.2 1374.7 512.8 1375.2 512.4 1375.7 512.1 1376.2 511.7 1376.7 511.3 1377.2 511 1377.7 510.6 1378.2 510.2 1378.7 509.8 1379.2 509.4 1379.6 509 1380.1 508.5 1380.6 508.1 1381.1 507.7 1381.6 507.3 1382.1 506.8 1382.5 506.4 1383 506 1383.5 505.5 1384 505.1 1384.4 504.6 1384.9 504.2 1385.3 503.7 1385.8 503.3 1386.2 502.8 1386.7 502.3 1386.8 502.2M1402.4 478.5 1402.7 478 1403 477.4 1403.4 476.7 1403.7 476.1 1404 475.4 1404.4 474.7 1404.7 474.1 1405 473.4 1405.4 472.7 1405.7 472 1406 471.3 1406.4 470.6 1406.7 469.9 1407.1 469.2 1407.4 468.5 1407.7 467.7 1408.1 467 1408.4 466.3 1408.7 465.5 1409.1 464.8 1409.4 464 1409.7 463.3 1410.1 462.5 1410.4 461.8 1410.8 461 1411.1 460.3 1411.4 459.5 1411.8 458.7 1412.1 457.9 1412.4 457.2 1412.8 456.4 1413.1 455.6 1413.4 454.8 1413.8 454 1414.1 453.2 1414.5 452.4 1414.8 451.6 1415.1 450.8 1415.5 450 1415.8 449.2 1415.9 448.9M1431.5 408.3 1431.9 407.3 1432.3 406.3 1432.7 405.2 1433 404.2 1433.4 403.1 1433.8 402 1434.2 400.9 1434.6 399.8 1435 398.7 1435.5 397.6 1435.9 396.5 1436.3 395.4 1436.7 394.3 1437.1 393.2 1437.5 392 1437.9 390.9 1438.3 389.8 1438.7 388.7 1439.2 387.6 1439.6 386.4 1440 385.3 1440.4 384.2 1440.8 383.1 1441.2 382 1441.6 380.9 1442.1 379.8 1442.5 378.7 1442.9 377.7 1443.3 376.6 1443.7 375.5 1444.1 374.5 1444.5 373.4 1444.9 372.4 1445 372.3M1460.6 335.9 1460.8 335.5 1461.2 334.5 1461.5 333.6 1461.9 332.7 1462.3 331.7 1462.6 330.8 1463 329.8 1463.4 328.8 1463.7 327.9 1464.1 326.9 1464.4 326 1464.8 325 1465.1 324 1465.5 323 1465.8 322.1 1466.1 321.1 1466.5 320.1 1466.8 319.1 1467.1 318.2 1467.5 317.2 1467.8 316.2 1468.1 315.2 1468.5 314.3 1468.8 313.3 1469.1 312.3 1469.5 311.4 1469.8 310.4 1470.1 309.5 1470.4 308.5 1470.8 307.6 1471.1 306.6 1471.4 305.7 1471.7 304.7 1472.1 303.8 1472.4 302.9 1472.7 302 1473 301.1 1473.4 300.2 1473.7 299.3 1474 298.4 1474.1 298.3M1489.7 263.8 1489.8 263.5 1490.1 262.8 1490.5 262.2 1490.8 261.6 1491.1 261 1491.5 260.4 1491.8 259.8 1492.1 259.2 1492.4 258.6 1492.8 258 1493.1 257.4 1493.4 256.8 1493.7 256.2 1494.1 255.6 1494.4 255.1 1494.7 254.5 1495 254 1495.4 253.4 1495.7 252.9 1496 252.3 1496.4 251.8 1496.7 251.3 1497 250.8 1497.4 250.2 1497.7 249.7 1498 249.2 1498.4 248.7 1498.7 248.3 1499.1 247.8 1499.4 247.3 1499.8 246.8 1500.1 246.4 1500.5 245.9 1500.8 245.5 1501.2 245.1 1501.5 244.6 1501.9 244.2 1502.3 243.8 1502.6 243.4 1503 243 1503.2 242.9M1518.7 232.9 1518.8 232.9 1519.2 232.7 1519.7 232.5 1520.1 232.3 1520.5 232.2 1520.9 232 1521.3 231.8 1521.7 231.7 1522.2 231.5 1522.6 231.4 1523 231.2 1523.4 231.1 1523.9 231 1524.3 230.8 1524.7 230.7 1525.1 230.6 1525.6 230.4 1526 230.3 1526.4 230.2 1526.8 230.1 1527.3 230 1527.7 229.9 1528.1 229.8 1528.5 229.7 1528.9 229.6 1529.3 229.6 1529.7 229.5 1530.1 229.4 1530.5 229.4 1530.9 229.3 1531.3 229.2 1531.7 229.2 1532.1 229.2 1532.2 229.1M1547.8 235.3 1547.9 235.4 1548.3 235.8 1548.7 236.2 1549.1 236.6 1549.5 237 1549.9 237.5 1550.3 237.9 1550.7 238.3 1551.1 238.8 1551.5 239.3 1552 239.7 1552.4 240.2 1552.8 240.7 1553.3 241.2 1553.7 241.7 1554.1 242.2 1554.5 242.7 1555 243.3 1555.4 243.8 1555.8 244.3 1556.3 244.8 1556.7 245.4 1557.1 245.9 1557.5 246.5 1557.9 247 1558.3 247.5 1558.8 248.1 1559.2 248.6 1559.6 249.2 1560 249.7 1560.4 250.3 1560.7 250.8 1561.1 251.4 1561.3 251.6M1576.9 279.8 1577.3 280.5 1577.7 281.3 1578.1 282.1 1578.5 282.8 1578.9 283.6 1579.3 284.4 1579.7 285.2 1580.1 286 1580.5 286.8 1580.9 287.6 1581.3 288.5 1581.8 289.3 1582.2 290.1 1582.6 290.9 1583 291.8 1583.4 292.6 1583.9 293.4 1584.3 294.3 1584.7 295.1 1585.1 296 1585.5 296.8 1586 297.6 1586.4 298.5 1586.8 299.3 1587.2 300.2 1587.6 301 1588 301.8 1588.4 302.7 1588.8 303.5 1589.2 304.3 1589.6 305.2 1590 306 1590.4 306.8 1590.4 306.9M1606 344.5 1606.2 345.2 1606.6 346.1 1606.9 347 1607.3 347.9 1607.6 348.8 1607.9 349.8 1608.3 350.7 1608.6 351.6 1608.9 352.6 1609.3 353.5 1609.6 354.5 1609.9 355.4 1610.3 356.4 1610.6 357.3 1611 358.3 1611.3 359.2 1611.6 360.2 1612 361.2 1612.3 362.1 1612.6 363.1 1613 364 1613.3 365 1613.6 366 1614 366.9 1614.3 367.9 1614.7 368.9 1615 369.8 1615.3 370.8 1615.7 371.7 1616 372.7 1616.3 373.7 1616.7 374.6 1617 375.6 1617.3 376.5 1617.7 377.5 1618 378.4 1618.4 379.4 1618.7 380.3 1619 381.2 1619.4 382.2 1619.5 382.5M1635.1 425 1635.4 425.8 1635.8 426.8 1636.2 427.7 1636.6 428.7 1637 429.7 1637.5 430.7 1637.9 431.7 1638.3 432.7 1638.7 433.7 1639.1 434.6 1639.6 435.6 1640 436.6 1640.4 437.6 1640.8 438.5 1641.2 439.5 1641.7 440.4 1642.1 441.4 1642.5 442.3 1642.9 443.3 1643.3 444.2 1643.7 445.1 1644.1 446 1644.5 446.9 1644.9 447.8 1645.3 448.7 1645.7 449.6 1646.1 450.4 1646.5 451.3 1646.9 452.1 1647.3 453 1647.6 453.8 1648 454.6 1648.4 455.4 1648.5 455.8M1664.1 485.4 1664.2 485.5 1664.6 486.1 1665 486.7 1665.4 487.3 1665.8 487.9 1666.2 488.5 1666.6 489 1667 489.6 1667.5 490.2 1667.9 490.8 1668.3 491.3 1668.7 491.9 1669.1 492.5 1669.6 493 1670 493.5 1670.4 494.1 1670.8 494.6 1671.2 495.2 1671.6 495.7 1672.1 496.2 1672.5 496.7 1672.9 497.2 1673.3 497.7 1673.7 498.2 1674.1 498.7 1674.5 499.2 1674.9 499.6 1675.3 500.1 1675.7 500.5 1676.1 501 1676.5 501.4 1676.9 501.8 1677.2 502.2 1677.6 502.6 1677.6 502.7M1693.2 514.9 1693.4 515 1693.7 515.2 1694.1 515.5 1694.5 515.7 1694.9 516 1695.3 516.3 1695.7 516.5 1696.1 516.8 1696.5 517.1 1696.9 517.3 1697.2 517.6 1697.6 517.8 1698 518.1 1698.4 518.3 1698.8 518.6 1699.2 518.8 1699.6 519.1 1700 519.3 1700.4 519.5 1700.8 519.7 1701.2 520 1701.6 520.2 1702 520.4 1702.4 520.6 1702.8 520.8 1703.2 520.9 1703.6 521.1 1704 521.3 1704.4 521.5 1704.8 521.6 1705.2 521.8 1705.6 521.9 1706 522 1706.4 522.1 1706.7 522.2M1722.3 521.2 1722.4 521.2 1722.8 521.2 1723.2 521.3 1723.5 521.3 1723.9 521.3 1724.3 521.3 1724.6 521.3 1725 521.3 1725.3 521.4 1725.7 521.4 1726 521.4 1726.4 521.5 1726.8 521.5 1727.1 521.6 1727.5 521.6 1727.8 521.6 1728.2 521.7 1728.5 521.7 1728.8 521.8 1729.2 521.8 1729.5 521.9 1729.9 521.9 1730.2 521.9 1730.6 522 1730.9 522 1731.2 522.1 1731.6 522.1 1731.9 522.1 1732.2 522.2 1732.6 522.2 1732.9 522.2 1733.2 522.2 1733.6 522.2 1733.9 522.3 1734.2 522.3 1734.5 522.3 1734.9 522.3 1735.2 522.3 1735.5 522.3 1735.8 522.2M1751.4 518.1 1751.6 518 1752 517.9 1752.4 517.7 1752.8 517.6 1753.2 517.4 1753.6 517.3 1754 517.1 1754.4 516.9 1754.8 516.8 1755.2 516.6 1755.6 516.5 1756 516.3 1756.4 516.2 1756.8 516 1757.2 515.8 1757.6 515.7 1758.1 515.5 1758.5 515.4 1758.9 515.2 1759.3 515 1759.7 514.9 1760.1 514.7 1760.5 514.6 1760.9 514.4 1761.3 514.3 1761.7 514.1 1762 514 1762.4 513.8 1762.8 513.7 1763.2 513.6 1763.5 513.4 1763.9 513.3 1764.3 513.1 1764.6 513 1764.9 512.9M1780.5 508 1780.6 507.9 1781.1 507.9 1781.5 507.8 1782 507.8 1782.4 507.7 1782.9 507.7 1783.4 507.6 1783.8 507.6 1784.3 507.5 1784.8 507.5 1785.2 507.4 1785.7 507.4 1786.2 507.4 1786.7 507.3 1787.1 507.3 1787.6 507.2 1788.1 507.2 1788.5 507.2 1789 507.1 1789.4 507.1 1789.9 507.1 1790.3 507 1790.8 507 1791.2 506.9 1791.7 506.9 1792.1 506.9 1792.5 506.8 1792.9 506.8 1793.3 506.7 1793.7 506.7 1794 506.7M1809.5 504.2 1809.9 504.1 1810.3 504 1810.7 504 1811.1 503.9 1811.5 503.9 1811.9 503.8 1812.3 503.8 1812.7 503.7 1813.1 503.6 1813.5 503.6 1813.9 503.5 1814.3 503.5 1814.7 503.4 1815.1 503.3 1815.6 503.3 1816 503.2 1816.4 503.2 1816.8 503.1 1817.2 503 1817.6 503 1818 502.9 1818.4 502.9 1818.8 502.8 1819.2 502.7 1819.6 502.7 1820 502.6 1820.4 502.6 1820.8 502.5 1821.2 502.4 1821.5 502.4 1821.9 502.3 1822.3 502.3 1822.6 502.2 1823 502.1 1823 502.1M1838.6 499.3 1838.7 499.3 1839 499.3 1839.4 499.2 1839.7 499.2 1840 499.1 1840.4 499.1 1840.7 499.1 1841 499 1841.4 499 1841.7 498.9 1842 498.9 1842.4 498.9 1842.7 498.8 1843 498.8 1843.4 498.7 1843.7 498.7 1844.1 498.6 1844.4 498.6 1844.7 498.6 1845.1 498.5 1845.4 498.5 1845.8 498.4 1846.1 498.4 1846.5 498.3 1846.8 498.3 1847.2 498.2 1847.5 498.1 1847.9 498.1 1848.2 498 1848.6 498 1849 497.9 1849.3 497.8 1849.7 497.8 1850.1 497.7 1850.4 497.6 1850.8 497.5 1851.2 497.4 1851.6 497.3 1851.9 497.3 1852.1 497.2M1867.7 493.4 1867.7 493.4 1868.1 493.3 1868.5 493.3 1868.9 493.2 1869.3 493.1 1869.7 493.1 1870.1 493 1870.5 493 1870.9 492.9 1871.3 492.8 1871.7 492.8 1872.1 492.7 1872.5 492.7 1872.9 492.6 1873.3 492.6 1873.7 492.5 1874.1 492.4 1874.5 492.4 1874.9 492.3 1875.3 492.3 1875.7 492.2 1876.1 492.2 1876.5 492.1 1876.8 492 1877.2 492 1877.6 491.9 1878 491.9 1878.4 491.8 1878.8 491.7 1879.1 491.7 1879.5 491.6 1879.9 491.5 1880.3 491.4 1880.6 491.4 1881 491.3 1881.2 491.3M1896.8 486.9 1897 486.8 1897.2 486.7 1897.4 486.7 1897.6 486.6 1897.8 486.5 1898 486.4 1898.2 486.3 1898.4 486.3 1898.6 486.2 1898.8 486.1 1899 486 1899.2 485.9 1899.4 485.9 1899.6 485.8 1899.9 485.7 1900.1 485.6 1900.3 485.5 1900.5 485.4 1900.7 485.4 1901 485.3 1901.2 485.2 1901.5 485.1 1901.7 485 1902 484.9 1902.3 484.8 1902.5 484.7 1902.8 484.6 1903.1 484.5 1903.5 484.4 1903.8 484.3 1904.1 484.2 1904.5 484 1904.9 483.9 1905.3 483.8 1905.7 483.7 1906.1 483.6 1906.5 483.4 1906.9 483.3 1907.4 483.1 1907.9 483 1908.3 482.9 1908.8 482.7 1909.3 482.6 1909.8 482.4 1910.3 482.3M1925.9 477.6 1926.3 477.5 1926.7 477.4 1927.1 477.2 1927.6 477.1 1928 477 1928.4 476.8 1928.8 476.7 1929.3 476.6 1929.7 476.4 1930.1 476.3 1930.5 476.2 1930.9 476.1 1931.3 475.9 1931.7 475.8 1932.1 475.7 1932.5 475.5 1932.9 475.4 1933.3 475.3 1933.7 475.2 1934.1 475.1 1934.5 474.9 1934.9 474.8 1935.2 474.7 1935.6 474.6 1936 474.5 1936.3 474.3 1936.7 474.2 1937 474.1 1937.4 474 1937.7 473.9 1938.1 473.8 1938.4 473.7 1938.8 473.6 1939.1 473.5 1939.4 473.4" stroke="#ff0000" stroke-width="5" stroke-linecap="round"/>
</g>
<rect x="1114.5" y="6.9" width="835.1" height="622" fill="none" stroke="#3c3c3c" stroke-width="2.5"/>
<path d="M1114.5 628.9V640.9M1392.9 628.9V640.9M1671.2 628.9V640.9M1949.6 628.9V640.9M1253.7 628.9V635.9M1532 628.9V635.9M1810.4 628.9V635.9M1102.5 42.9H1114.5M1102.5 189.6H1114.5M1102.5 336.2H1114.5M1102.5 482.7H1114.5M1102.5 628.9H1114.5" stroke="#3c3c3c" stroke-width="2.5" fill="none"/>
<text transform="translate(1114.5 674.8) scale(1 0.93)" font-size="35" text-anchor="middle">28,5</text>
<text transform="translate(1392.9 674.8) scale(1 0.93)" font-size="35" text-anchor="middle">29,0</text>
<text transform="translate(1671.2 674.8) scale(1 0.93)" font-size="35" text-anchor="middle">29,5</text>
<text transform="translate(1949.6 674.8) scale(1 0.93)" font-size="35" text-anchor="middle">30,0</text>
<g font-family="'Liberation Serif','Times New Roman',serif" fill="#000">
<rect x="677" y="12.7" width="233.8" height="129.6" fill="none" stroke="#9a9a9a" stroke-width="1.6"/>
<path d="M686.5 37.9H762" stroke="#000" stroke-width="4.5" stroke-linecap="round"/>
<path d="M689 81.3H704.5M716.5 81.3H732M744 81.3H759.5" stroke="#ff0000" stroke-width="6" stroke-linecap="round"/>
<path d="M688.1 123.9H700.4M718.1 123.9H730.4M748.1 123.9H760.4" stroke="#0000ff" stroke-width="3.4" stroke-linecap="round"/>
<text transform="translate(767.5 49) scale(1 1.0)" font-size="35">R</text>
<text transform="translate(767.5 91.9) scale(1 1.0)" font-size="35">NS-3-100</text>
<text transform="translate(767.5 134.8) scale(1 1.0)" font-size="35">NS-3-250</text>
<rect x="1709.8" y="11" width="232.7" height="130.8" fill="none" stroke="#9a9a9a" stroke-width="1.6"/>
<path d="M1719.7 36.7H1793.8" stroke="#000" stroke-width="4.5" stroke-linecap="round"/>
<path d="M1722.2 82.5H1737.2M1749.2 82.5H1764.3M1776.3 82.5H1791.3" stroke="#ff0000" stroke-width="6" stroke-linecap="round"/>
<path d="M1721.3 123H1733.1M1750.8 123H1762.7M1780.4 123H1792.2" stroke="#0000ff" stroke-width="3.4" stroke-linecap="round"/>
<text transform="translate(1800.5 47.6) scale(1 0.92)" font-size="35">R</text>
<text transform="translate(1800.5 90.3) scale(1 0.92)" font-size="35">NS-3-100</text>
<text transform="translate(1800.5 133.2) scale(1 0.92)" font-size="35">NS-3-250</text>
<text transform="translate(33 295.2) rotate(-90)" font-size="37.5" text-anchor="middle">Peak intensity</text>
<text transform="translate(1065 297.8) rotate(-90)" font-size="37.5" text-anchor="middle">Peak intensity</text>
<text x="501" y="739.4" font-size="38" text-anchor="middle">2θ</text>
<text x="1524" y="742" font-size="40" text-anchor="middle">2θ</text>
<text x="98.5" y="58.4" font-size="55.5" font-weight="bold">a)</text>
<text x="1130.5" y="60.5" font-size="54" font-weight="bold">b)</text>
<text x="9" y="844" font-size="57" font-weight="bold">c)</text>
<text x="539.2" y="146.3" font-size="35" text-anchor="middle">CH</text>
<text transform="translate(1540 156.6) scale(1 0.92)" font-size="35" text-anchor="middle">C-S-H</text>
</g>
<path d="M7.5 1520.7L462.3 1055.2" stroke="#8a8a8a" stroke-width="1.6" fill="none"/>
<path d="M462.3 1055.2H1885.7" stroke="#d8d8d8" stroke-width="1.6" fill="none"/>
<path d="M33.4 1520.7L488.2 1055.2M85.1 1520.7L539.9 1055.2M136.9 1520.7L591.7 1055.2M188.7 1520.7L643.5 1055.2M240.4 1520.7L695.2 1055.2M292.2 1520.7L747 1055.2M343.9 1520.7L798.7 1055.2M395.7 1520.7L850.5 1055.2M447.5 1520.7L902.3 1055.2M499.2 1520.7L954 1055.2M551 1520.7L1005.8 1055.2M602.7 1520.7L1057.5 1055.2M654.5 1520.7L1109.3 1055.2M706.3 1520.7L1161.1 1055.2M758 1520.7L1212.8 1055.2M809.8 1520.7L1264.6 1055.2M861.5 1520.7L1316.3 1055.2M913.3 1520.7L1368.1 1055.2M965.1 1520.7L1419.9 1055.2M1016.8 1520.7L1471.6 1055.2M1068.6 1520.7L1523.4 1055.2M1120.3 1520.7L1575.1 1055.2M1172.1 1520.7L1626.9 1055.2M1223.9 1520.7L1678.7 1055.2M1275.6 1520.7L1730.4 1055.2M1327.4 1520.7L1782.2 1055.2M1379.1 1520.7L1833.9 1055.2" stroke="#c2c2c2" stroke-width="1.8" stroke-dasharray="4.6 5.7" fill="none"/>
<path d="M54.8 1472.3 55.6 1467.8 56.4 1472.3 57.2 1468.4 58 1471.5 58.8 1471.7 59.6 1471.3 60.4 1471.4 61.2 1473.1 62 1467.9 62.8 1469.4 63.6 1471.3 64.4 1471.3 65.2 1470.5 66 1470 66.8 1472.1 67.6 1473 68.4 1471.5 69.2 1472.7 70 1469.9 70.8 1473.4 71.6 1472.7 72.4 1469.7 73.2 1468.6 74 1467.1 74.8 1470.8 75.6 1474.3 76.4 1473.1 77.2 1473.4 78 1472.9 78.8 1470.6 79.6 1468.4 80.4 1474.4 81.2 1475.1 82 1470.1 82.8 1468.6 83.6 1467.4 84.4 1471.2 85.2 1471.6 86 1472.4 86.8 1470.3 87.6 1473.5 88.4 1473 89.2 1471.4 90 1471.5 90.8 1471.3 91.6 1473.6 92.4 1468.7 93.2 1473.1 94 1470.8 94.8 1473.7 95.6 1467.4 96.4 1471.5 97.2 1474.5 98 1472.4 98.8 1469.7 99.6 1471.8 100.4 1469.6 101.2 1471.6 102 1466.8 102.8 1472.5 103.6 1472.4 104.4 1472.4 105.2 1471.5 106 1471.3 106.8 1471.7 107.6 1470.4 108.4 1469.6 109.2 1472.7 110 1468.6 110.8 1469.5 111.6 1472.3 112.4 1472.5 113.2 1471.4 114 1471.8 114.8 1473.1 115.6 1469.6 116.4 1472.2 117.2 1472 118 1472.9 118.8 1471.7 119.6 1471.9 120.4 1473.1 121.2 1474.9 122 1468.9 122.8 1472.2 123.6 1471.8 124.4 1471.2 125.2 1470 126 1473.4 126.8 1471.8 127.6 1472.5 128.4 1471.5 129.2 1469.6 130 1473.1 130.8 1470 131.6 1474.4 132.4 1468.1 133.2 1470.4 134 1465.3 134.8 1470.2 135.6 1472.2 136.4 1471.8 137.2 1471.8 138 1474.8 138.8 1472.4 139.6 1471.5 140.4 1472.7 141.2 1471.8 142 1470.3 142.8 1470.1 143.6 1469.9 144.4 1474.2 145.2 1473.2 146 1473.4 146.8 1468.7 147.6 1471.8 148.4 1468.5 149.2 1472.1 150 1473.3 150.8 1470.2 151.6 1472.4 152.4 1472 153.2 1469.4 154 1471.1 154.8 1473.2 155.6 1470 156.4 1464.9 157.2 1461 158 1455.3 158.5 1454 159.6 1460.3 160.4 1459.3 161.2 1468.6 162 1465.4 162.8 1470.7 163.6 1470.9 164.4 1472 165.2 1470.1 166 1469.7 166.8 1470.6 167.6 1472.1 168.4 1471.4 169.2 1472.4 170 1472.3 170.8 1471.1 171.6 1470.3 172.4 1468.9 173.2 1467.9 174 1472.8 174.8 1471.2 175.6 1467.6 176.4 1471.7 177.2 1470.6 178 1465.1 178.8 1469.1 179.6 1462.4 180.4 1466.7 181.2 1465.6 182 1468.9 182.8 1464.7 183.6 1470.4 184.4 1472.5 185.2 1470.4 186 1470.7 186.8 1468.5 187.6 1471 188.4 1471.5 189.2 1471.6 190 1472.7 190.8 1471.8 191.6 1467.3 192.4 1472.3 193.2 1471.7 194 1469.4 194.8 1469.4 195.6 1469.5 196.4 1470 197.2 1466 198 1464.7 198.8 1462.3 199.6 1457 200.4 1453.6 201.4 1453.9 202 1453.2 202.8 1458.7 203.6 1459.7 204.4 1458.9 205.2 1466.2 206 1465 206.8 1469.5 207.6 1467.4 208.4 1469.8 209.2 1471.3 210 1468.5 210.8 1467.2 211.6 1471.3 212.4 1471.5 213.2 1472.8 214 1472.2 214.8 1471.8 215.6 1473.1 216.4 1468.6 217.2 1466.9 218 1461.7 219 1461.9 219.6 1459.5 220.4 1467.6 221.2 1467.1 222 1472 222.8 1469.7 223.6 1472.7 224.4 1471.1 225.2 1467.3 226 1473.4 226.8 1472.4 227.6 1471.9 228.4 1471.8 229.2 1473.4 230 1467.9 230.8 1471.9 231.6 1472.2 232.4 1472.2 233.2 1472.2 234 1472.2 234.8 1472.2 235.6 1472.2 236.4 1472.2 237.2 1472.2 238 1472.2 238.8 1472.2 239.6 1472.2 240.4 1472.2 241.2 1472.2 242 1472.2 242.8 1472.2 243.6 1472.2 244.4 1472.3 245.2 1472.3 246 1472.3 246.8 1472.3 247.6 1472.3 248.4 1472.3 249.2 1472.3 250 1472.3 250.8 1472.3 251.6 1472.3 252.4 1472.3 253.2 1472.3 254 1472.3 254.8 1472.3 255.6 1472.3 256.4 1472.3 257.2 1472.3 258 1472.3 258.8 1472.3 259.6 1472.3 260.4 1472.3 261.2 1472.3 262 1472.3 262.8 1471.5 263.6 1471.4 264.4 1470.1 265.2 1473 266 1471.1 266.8 1471.1 267.6 1473.1 268.4 1472 269.2 1471.2 270 1472.2 270.8 1470.2 271.6 1472.3 272.4 1470.6 273.2 1470.1 274 1470.3 274.8 1471.8 275.6 1472.1 276.4 1470.7 277.2 1472.2 278 1471.2 278.8 1469 279.6 1471.4 280.4 1472.2 281.2 1470.6 282 1473.2 282.8 1469 283.6 1471.9 284.4 1472.2 285.2 1471.4 286 1471.9 286.8 1472 287.6 1470 288.4 1470.1 289.2 1472.3 290 1470.9 290.8 1472.9 291.6 1472.6 292.4 1471.5 293.2 1471.8 294 1471.2 294.8 1472.3 295.6 1471.5 296.4 1470.9 297.2 1471.3 298 1473.5 298.8 1469.8 299.6 1472.5 300.4 1471.9 301.2 1469.1 302 1471 302.8 1471 303.6 1472.2 304.4 1475.2 305.2 1472.4 306 1468.4 306.8 1471.3 307.6 1469.5 308.4 1468.7 309.2 1471.9 310 1468.7 310.8 1471.4 311.6 1474.2 312.4 1473 313.2 1473.2 314 1471.2 314.8 1471.1 315.6 1468.4 316.4 1473.5 317.2 1473.6 318 1471.9 318.8 1470.7 319.6 1468.9 320.4 1473.8 321.2 1470.9 322 1469.9 322.8 1469.9 323.6 1472.8 324.4 1468.6 325.2 1471.3 326 1470 326.8 1472.4 327.6 1468.9 328.4 1470.8 329.2 1468.9 330 1466.8 330.8 1464.4 331.6 1462.5 332.5 1459 333.2 1460.9 334 1463 334.8 1467.5 335.6 1471.4 336.4 1473 337.2 1471.5 338 1468.7 338.8 1470.4 339.6 1471.6 340.4 1471.9 341.2 1470.1 342 1470.8 342.8 1471.7 343.6 1471.2 344.4 1469.9 345.2 1471.1 346 1469 346.8 1471.8 347.6 1471.1 348.4 1470.6 349.2 1472.3 350 1473.4 350.8 1468.3 351.6 1469.5 352.4 1466.1 353.2 1470 354 1473.4 354.8 1471 355.6 1472.4 356.4 1471.9 357.2 1472.2 358 1472.7 358.8 1468.8 359.6 1469.1 360.4 1469.6 361.2 1473.3 362 1470.3 362.8 1470.7 363.6 1471.5 364.4 1471.5 365.2 1468.1 366 1469.5 366.8 1469.3 367.6 1472 368.4 1470 369.2 1472.3 370 1469 370.8 1472.1 371.6 1468.9 372.4 1470.5 373.2 1470.4 374 1474.7 374.8 1471.4 375.6 1471.8 376.4 1470.6 377.2 1470.9 378 1469.9 378.8 1471.5 379.6 1473.2 380.4 1470.8 381.2 1470.1 382 1468.2 382.8 1471 383.6 1468.9 384.4 1471.4 385.2 1470.4 386 1470.1 386.8 1470.4 387.6 1467.9 388.4 1462 389.2 1424.5 390 1331.8 390.5 1302 391.6 1404.8 392.4 1454.8 393.2 1467.3 394 1468.7 394.8 1470.8 395.6 1469.7 396.4 1470.8 397.2 1469.2 398 1470.4 398.8 1470.7 399.6 1471.3 400.4 1469.7 401.2 1470.2 402 1472 402.8 1470.9 403.6 1472.7 404.4 1471.3 405.2 1472 406 1469.4 406.8 1470.8 407.6 1473.2 408.4 1470.3 409.2 1472.2 410 1472.5 410.8 1469.6 411.6 1473.3 412.4 1471.4 413.2 1472.4 414 1472.7 414.8 1471.4 415.6 1472.5 416.4 1470.6 417.2 1469.4 418 1474.8 418.8 1467.7 419.6 1472.7 420.4 1471.4 421.2 1473 422 1471.8 422.8 1471.8 423.6 1471.5 424.4 1472.2 425.2 1472.6 426 1472 426.8 1471.5 427.6 1472.2 428.4 1466.8 429.2 1472.1 430 1472.3 430.8 1471.9 431.6 1470.7 432.4 1468.9 433.2 1471.7 434 1470.8 434.8 1471.6 435.6 1471.2 436.4 1472.4 437.2 1471.6 438 1471.7 438.8 1472.1 439.6 1466.5 440.4 1471.4 441.2 1472.6 442 1472.6 442.8 1473.4 443.6 1471.2 444.4 1470.4 445.2 1471.7 446 1471.8 446.8 1473.9 447.6 1469.6 448.4 1469 449.2 1472.2 450 1468.2 450.8 1468.6 451.6 1473.2 452.4 1471.3 453.2 1472.1 454 1472.1 454.8 1473.9 455.6 1474.6 456.4 1471.7 457.2 1468.6 458 1474.2 458.8 1470.3 459.6 1469.3 460.4 1469.7 461.2 1467.9 462 1466.3 462.8 1459.9 463.6 1462 464.4 1461.1 465.2 1462.1 466 1467.2 466.8 1472 467.6 1469.6 468.4 1471.2 469.2 1472.1 470 1473.3 470.8 1470.6 471.6 1472.8 472.4 1472.3 473.2 1467.1 474 1470.2 474.8 1473.9 475.6 1474.3 476.4 1470 477.2 1471.8 478 1473.1 478.8 1469.2 479.6 1469.5 480.4 1469.5 481.2 1471.7 482 1470.5 482.8 1468.5 483.6 1472.8 484.4 1471.6 485.2 1471.5 486 1471.7 486.8 1469.6 487.6 1472.8 488.4 1472.3 489.2 1470.2 490 1472.6 490.8 1470.6 491.6 1471.5 492.4 1467 493.2 1471.2 494 1471.4 494.8 1471.3 495.6 1473.1 496.4 1473.4 497.2 1471.9 498 1471.5 498.8 1471.8 499.6 1471.9 500.4 1473.5 501.2 1471.4 502 1468.6 502.8 1471.2 503.6 1472.4 504.4 1473.6 505.2 1472.7 506 1471.9 506.8 1471.6 507.6 1469.7 508.4 1470.9 509.2 1470.8 510 1470.2 510.8 1472 511.6 1467.6 512.4 1467.6 513.2 1466.4 514 1464.6 514.8 1463.3 515.6 1458.9 516.4 1459.2 517.2 1455.7 518 1456 518.8 1453.4 519.6 1455.6 520.4 1456.2 521.2 1459.7 522 1462.9 522.8 1465.3 523.6 1467.3 524.4 1467.5 525.2 1467.1 526 1465.8 526.8 1470.4 527.6 1469.9 528.4 1472.9 529.2 1470.3 530 1472.2 530.8 1471.3 531.6 1468.5 532.4 1472 533.2 1470 534 1470.5 534.8 1472 535.6 1470.7 536.4 1471.6 537.2 1472.8 538 1470.4 538.8 1471.5 539.6 1472.2 540.4 1471.1 541.2 1471.9 542 1470.6 542.8 1471.8 543.6 1471.4 544.4 1470.7 545.2 1472.1 546 1469.3 546.8 1469 547.6 1469.3 548.4 1472.5 549.2 1473.7 550 1472.8 550.8 1467.2 551.6 1471.2 552.4 1471.8 553.2 1473 554 1471.9 554.8 1473.2 555.6 1471.6 556.4 1472.5 557.2 1468.8 558 1472.9 558.8 1473.4 559.6 1468.9 560.4 1473.3 561.2 1471.9 562 1471.2 562.8 1471.6 563.6 1472.4 564.4 1472.5 565.2 1470.8 566 1470.9 566.8 1465 567.6 1471.1 568.4 1471.3 569.2 1472.1 570 1473.1 570.8 1471.4 571.6 1468.9 572.4 1471.5 573.2 1473.5 574 1472.5 574.8 1471.8 575.6 1472.1 576.4 1474.3 577.2 1471.9 578 1473 578.8 1470.6 579.6 1473.2 580.4 1472.6 581.2 1473.3 582 1472.3 582.8 1472.3 583.6 1472.3 584.4 1473.4 585.2 1473.3 586 1471.5 586.8 1471.3 587.6 1472.2 588.4 1472.9 589.2 1468.1 590 1470.9 590.8 1470.3 591.6 1470.8 592.4 1471.1 593.2 1473.4 594 1472 594.8 1474.1 595.6 1470.5 596.4 1469 597.2 1470.8 598 1471.1 598.8 1468.9 599.6 1473.3 600.4 1471.1 601.2 1471.5 602 1470.1 602.8 1471.4 603.6 1469.9 604.4 1470.5 605.2 1470.3 606 1472.9 606.8 1471.3 607.6 1472.3 608.4 1470 609.2 1471.8 610 1466.4 610.8 1469.7 611.6 1458.4 612.4 1437.5 613.5 1407.9 614 1416.2 614.8 1443.6 615.6 1464.6 616.4 1468.6 617.2 1465 618 1471.9 618.8 1471.2 619.6 1472 620.4 1471.4 621.2 1471.6 622 1469.6 622.8 1471.2 623.6 1472.1 624.4 1471.3 625.2 1470.7 626 1469.9 626.8 1472.9 627.6 1473.7 628.4 1471.3 629.2 1470.3 630 1473.8 630.8 1471 631.6 1471.8 632.4 1468.5 633.2 1471.1 634 1470.9 634.8 1471.8 635.6 1471.9 636.4 1473.3 637.2 1472.4 638 1470.9 638.8 1470.6 639.6 1470.4 640.4 1471.6 641.2 1473.3 642 1469.3 642.8 1471.6 643.6 1472 644.4 1472.9 645.2 1470.1 646 1473.6 646.8 1472.1 647.6 1473 648.4 1471.2 649.2 1471.3 650 1472.7 650.8 1474.6 651.6 1471.9 652.4 1472.2 653.2 1470.9 654 1469.5 654.8 1473.1 655.6 1472 656.4 1469.8 657.2 1470.4 658 1472.3 658.8 1470.4 659.6 1472.3 660.4 1471.9 661.2 1472.6 662 1471.6 662.8 1469.4 663.6 1466.9 664.4 1465.1 665.2 1462.7 666 1456.6 666.4 1457.4 666.8 1457.1 667.6 1462.5 668.4 1461.6 669.2 1467.7 670 1469.6 670.8 1466.7 671.6 1470.5 672.4 1466.4 673.2 1468.5 674 1463.8 674.8 1461.3 675.6 1459.8 676 1459.2 676.4 1455.8 677.2 1458.4 678 1460.1 678.8 1454.6 679.6 1458.5 680.4 1453.7 681.2 1450.8 682 1446.7 682.8 1437.6 683.6 1436.6 684.4 1433 685.3 1431.8 686 1431.6 686.8 1431.2 687.6 1440.6 688.4 1441.4 689.2 1450.7 690 1453.5 690.8 1460.2 691.6 1461.2 692.4 1461.8 693.2 1467.4 694 1468.1 694.8 1470.3 695.6 1469.4 696.4 1471.7 697.2 1470 698 1471.6 698.8 1469.6 699.6 1470.2 700.4 1472.5 701.2 1470.7 702 1469.5 702.8 1470.9 703.6 1472.2 704.4 1471.9 705.2 1472.4 706 1470.7 706.8 1471.4 707.6 1472.3 708.4 1471.5 709.2 1470.3 710 1471.5 710.8 1470.9 711.6 1472.1 712.4 1471.6 713.2 1471.6 714 1470.4 714.8 1472.9 715.6 1471.9 716.4 1471.5 717.2 1471.1 718 1472.7 718.8 1472.1 719.6 1468.4 720.4 1467.6 721.2 1471.4 722 1472 722.8 1466.9 723.6 1468.9 724.4 1466.4 725.2 1460.8 725.7 1459.8 726.8 1462.8 727.6 1465.4 728.4 1470.6 729.2 1471 730 1471.4 730.8 1474 731.6 1468.1 732.4 1472.1 733.2 1471.4 734 1473.1 734.8 1472.3 735.6 1472.6 736.4 1471.1 737.2 1469 738 1471.8 738.8 1470 739.6 1469.5 740.4 1472.1 741.2 1471.4 742 1471.7 742.8 1474.1 743.6 1470.9 744.4 1472.7 745.2 1470.9 746 1470.9 746.8 1467.4 747.6 1470.4 748.4 1469.3 749.2 1470.9 750 1467.3 750.8 1468.7 751.6 1469.9 752.4 1471.4 753.2 1469 754 1467.7 754.8 1466 755.6 1465.6 756.4 1464.2 757.2 1464 758 1462.4 758.8 1459.4 759.7 1460.9 760.4 1457.1 761.2 1459.9 762 1462.3 762.8 1465.2 763.6 1465.7 764.4 1469.2 765.2 1466.1 766 1468.6 766.8 1466.3 767.6 1467.8 768.4 1468.4 769.2 1471.2 770 1471.4 770.8 1471.1 771.6 1470.7 772.4 1472.2 773.2 1471.9 774 1470.3 774.8 1472.4 775.6 1472.6 776.4 1471.8 777.2 1472.3 778 1473.5 778.8 1470.3 779.6 1471.2 780.4 1470.1 781.2 1471.2 782 1467.3 782.8 1472.7 783.6 1471.3 784.4 1472.4 785.2 1472.2 786 1471.4 786.8 1470.6 787.6 1471.8 788.4 1470.7 789.2 1470.8 790 1472.5 790.8 1470.4 791.6 1469.9 792.4 1471 793.2 1473 794 1467.9 794.8 1469.6 795.6 1471.1 796.4 1471.2 797.2 1471.5 798 1470.2 798.8 1471.3 799.6 1471.5 800.4 1471.6 801.2 1470.5 802 1470.3 802.8 1469.1 803.6 1461.2 804.4 1453.6 805.2 1437 806 1419.6 806.4 1418 806.8 1422.2 807.6 1435.6 808.4 1452.4 809.2 1465.2 810 1469.6 810.8 1469.6 811.6 1469.4 812.4 1469.4 813.2 1469.2 814 1472.1 814.8 1472.2 815.6 1469.8 816.4 1468 817.2 1471.7 818 1470.5 818.8 1472.3 819.6 1471.6 820.4 1472 821.2 1472.2 822 1472.5 822.8 1472.4 823.6 1472.4 824.4 1471.1 825.2 1472.1 826 1470.9 826.8 1471 827.6 1472 828.4 1470.8 829.2 1471.5 830 1471.6 830.8 1469.3 831.6 1471.2 832.4 1472.9 833.2 1472.7 834 1472.2 834.8 1473 835.6 1472.7 836.4 1471.8 837.2 1472.9 838 1469.8 838.8 1471.5 839.6 1472.5 840.4 1472.6 841.2 1469.2 842 1471.7 842.8 1471.6 843.6 1471.1 844.4 1471.6 845.2 1471.4 846 1471.5 846.8 1471.5 847.6 1471.2 848.4 1473.3 849.2 1473.2 850 1472.1 850.8 1473.5 851.6 1471.6 852.4 1469.8 853.2 1470.3 854 1471.9 854.8 1470.7 855.6 1472.2 856.4 1471 857.2 1472.9 858 1473.4 858.8 1471.5 859.6 1472.8 860.4 1472.2 861.2 1471.3 862 1472.8 862.8 1472.1 863.6 1471.4 864.4 1470 865.2 1470.7 866 1470.5 866.8 1473.7 867.6 1468.4 868.4 1470.1 869.2 1465.8 870 1464.4 870.7 1462 871.6 1464.6 872.4 1468.9 873.2 1469.5 874 1469.7 874.8 1472.7 875.6 1472.9 876.4 1472.3 877.2 1472.9 878 1471.8 878.8 1472.5 879.6 1470.9 880.4 1473 881.2 1469.5 882 1470.4 882.8 1470.7 883.6 1470 884.4 1472.1 885.2 1472.2 886 1470.9 886.8 1471.4 887.6 1470.7 888.4 1468.3 889.2 1472 890 1470.4 890.8 1470.6 891.6 1473.2 892.4 1472.7 893.2 1472.7 894 1472.2 894.8 1470.7 895.6 1470.3 896.4 1470.2 897.2 1472.4 898 1471.4 898.8 1471.8 899.6 1471.9 900.4 1472.8 901.2 1468 902 1471.3 902.8 1472.6 903.6 1467.6 904.4 1474 905.2 1473.1 906 1472 906.8 1471.7 907.6 1472.8 908.4 1470.1 909.2 1473.9 910 1473.4 910.8 1471.9 911.6 1471 912.4 1472.7 913.2 1470.2 914 1471.9 914.8 1471.4 915.6 1471.2 916.4 1469.5 917.2 1471.1 918 1471.3 918.8 1472.4 919.6 1471.4 920.4 1471.9 921.2 1471.7 922 1469.2 922.8 1470.8 923.6 1471.3 924.4 1471.2 925.2 1471.5 926 1471.2 926.8 1471.3 927.6 1472.1 928.4 1468.8 929.2 1470.9 930 1471 930.8 1472.7 931.6 1472.4 932.4 1469.8 933.2 1472.6 934 1472.1 934.8 1472.6 935.6 1472.9 936.4 1471.4 937.2 1471.6 938 1472.1 938.8 1472.1 939.6 1470.3 940.4 1471.1 941.2 1468.9 942 1466.9 942.8 1464.3 943.8 1464 944.4 1461.2 945.2 1466.2 946 1469.6 946.8 1469.8 947.6 1471.4 948.4 1469.9 949.2 1471.6 950 1471.4 950.8 1470.3 951.6 1472.1 952.4 1470.2 953.2 1471.1 954 1471.2 954.8 1470.3 955.6 1472 956.4 1471 957.2 1470.2 958 1471.9 958.8 1470.2 959.6 1469.6 960.4 1470.7 961.2 1470.9 962 1472 962.8 1472.4 963.6 1472 964.4 1470.1 965.2 1473.8 966 1471 966.8 1471.4 967.6 1470.1 968.4 1473 969.2 1468.4 970 1470.6 970.8 1471.6 971.6 1474.3 972.4 1472.7 973.2 1472 974 1471.7 974.8 1471.7 975.6 1471.2 976.4 1472.3 977.2 1472.6 978 1474 978.8 1471.3 979.6 1471.6 980.4 1472.3 981.2 1471.5 982 1473 982.8 1472.6 983.6 1473 984.4 1471.8 985.2 1472.4 986 1471.9 986.8 1471.7 987.6 1470.2 988.4 1472.9 989.2 1471.1 990 1471.6 990.8 1472 991.6 1472.4 992.4 1472.4 993.2 1472.1 994 1468.1 994.8 1470.9 995.6 1473.4 996.4 1473.5 997.2 1468.8 998 1471.5 998.8 1472.1 999.6 1471.4 1000.4 1471.5 1001.2 1472.2 1002 1472 1002.8 1472.8 1003.6 1472.3 1004.4 1471.2 1005.2 1469 1006 1472.6 1006.8 1471.4 1007.6 1473.2 1008.4 1473 1009.2 1471.9 1010 1472.3 1010.8 1472.1 1011.6 1472.9 1012.4 1471.1 1013.2 1468.2 1014 1470.6 1014.8 1471.7 1015.6 1472.9 1016.4 1472.9 1017.2 1472 1018 1472.8 1018.8 1473.4 1019.6 1472.2 1020.4 1471 1021.2 1471.8 1022 1471.6 1022.8 1470 1023.6 1472.3 1024.4 1470.7 1025.2 1469.3 1026 1472.5 1026.8 1472.3 1027.6 1473.1 1028.4 1471.6 1029.2 1471.3 1030 1471 1030.8 1470 1031.6 1467.7 1032.4 1467.1 1033.2 1466.5 1034 1467.7 1034.8 1468.9 1035.6 1471 1036.4 1471.5 1037.2 1470.8 1038 1471.2 1038.8 1472.5 1039.6 1469.7 1040.4 1472.2 1041.2 1469.8 1042 1471.2 1042.8 1472.8 1043.6 1469.9 1044.4 1467 1045.2 1472.4 1046 1471.6 1046.8 1471.9 1047.6 1470.7 1048.4 1472.1 1049.2 1471.9 1050 1472.4 1050.8 1470.7 1051.6 1473.3 1052.4 1473.2 1053.2 1471.6 1054 1472.4 1054.8 1471.9 1055.6 1471.2 1056.4 1472.1 1057.2 1471.5 1058 1471.1 1058.8 1467.9 1059.6 1472.3 1060.4 1472.6 1061.2 1470.1 1062 1469.8 1062.8 1471.5 1063.6 1470.9 1064.4 1472.3 1065.2 1471.6 1066 1472.6 1066.8 1471.4 1067.6 1471.4 1068.4 1471.1 1069.2 1471.4 1070 1471.8 1070.8 1472.7 1071.6 1471.4 1072.4 1473.4 1073.2 1468.9 1074 1471.6 1074.8 1468.6 1075.6 1472.6 1076.4 1471.2 1077.2 1472 1078 1471.9 1078.8 1471 1079.6 1470.3 1080.4 1472.3 1081.2 1472.6 1082 1472.1 1082.8 1470.8 1083.6 1471.7 1084.4 1472 1085.2 1470.9 1086 1473 1086.8 1472.4 1087.6 1471.4 1088.4 1470.8 1089.2 1472.5 1090 1472 1090.8 1473 1091.6 1470.8 1092.4 1472.2 1093.2 1471 1094 1472 1094.8 1471.9 1095.6 1467.9 1096.4 1472.9 1097.2 1471.7 1098 1471.8 1098.8 1471.7 1099.6 1472.1 1100.4 1473 1101.2 1469.4 1102 1472.5 1102.8 1471.1 1103.6 1472 1104.4 1471.7 1105.2 1472.2 1106 1470.5 1106.8 1471.3 1107.6 1472.1 1108.4 1472.5 1109.2 1473.3 1110 1473 1110.8 1472.2 1111.6 1471.1 1112.4 1471.4 1113.2 1472.5 1114 1473.6 1114.8 1472.3 1115.6 1471.7 1116.4 1471.2 1117.2 1473 1118 1469 1118.8 1470.7 1119.6 1471.6 1120.4 1472.4 1121.2 1468.9 1122 1471.6 1122.8 1472.8 1123.6 1472 1124.4 1471.5 1125.2 1471.8 1126 1472.2 1126.8 1472.9 1127.6 1472 1128.4 1472.3 1129.2 1472.1 1130 1472 1130.8 1473 1131.6 1471.2 1132.4 1473.7 1133.2 1473.3 1134 1469 1134.8 1471.3 1135.6 1470.7 1136.4 1466.5 1137.2 1464 1138 1461.1 1138.8 1457.7 1139.6 1453.1 1140.4 1450.8 1141.3 1449 1142 1448.9 1142.8 1452.8 1143.6 1454.6 1144.4 1461.9 1145.2 1463.4 1146 1467 1146.8 1466.7 1147.6 1469.2 1148.4 1469.9 1149.2 1469.4 1150 1472.4 1150.8 1471.5 1151.6 1470.9 1152.4 1471.2 1153.2 1470.3 1154 1471.1 1154.8 1471.8 1155.6 1470.7 1156.4 1473.1 1157.2 1471.5 1158 1472.4 1158.8 1471.4 1159.6 1472.2 1160.4 1472.9 1161.2 1471.5 1162 1471.3 1162.8 1472.4 1163.6 1471.2 1164.4 1470.4 1165.2 1471.5 1166 1468.6 1166.8 1469.6 1167.6 1470.8 1168.4 1471.3 1169.2 1471.5 1170 1468.5 1170.8 1473.5 1171.6 1472 1172.4 1472.1 1173.2 1468.9 1174 1471.8 1174.8 1471.6 1175.6 1472.2 1176.4 1472.4 1177.2 1471.7 1178 1470.1 1178.8 1472.9 1179.6 1471.3 1180.4 1472.3 1181.2 1470.9 1182 1472.8 1182.8 1469.7 1183.6 1471.6 1184.4 1470 1185.2 1472.2 1186 1472.9 1186.8 1472.2 1187.6 1471 1188.4 1472.9 1189.2 1473.9 1190 1470.9 1190.8 1472.3 1191.6 1469.2 1192.4 1471.4 1193.2 1472.2 1194 1468.9 1194.8 1471.4 1195.6 1471.7 1196.4 1472.1 1197.2 1472.5 1198 1472.7 1198.8 1470.5 1199.6 1471.9 1200.4 1474.1 1201.2 1473.4 1202 1471.9 1202.8 1472.7 1203.6 1473 1204.4 1472 1205.2 1472.6 1206 1472.6 1206.8 1472 1207.6 1470 1208.4 1472.7 1209.2 1471.9 1210 1470.8 1210.8 1472.1 1211.6 1471.3 1212.4 1472 1213.2 1472.2 1214 1470.3 1214.8 1469.6 1215.6 1468.6 1216.4 1466.6 1217.2 1465.1 1218 1462.2 1218.8 1460.9 1219.5 1460.9 1220.4 1461.5 1221.2 1463.5 1222 1466 1222.8 1467.1 1223.6 1469.2 1224.4 1470.5 1225.2 1470.7 1226 1471.2 1226.8 1471.1 1227.6 1470.8 1228.4 1471.1 1229.2 1471.3 1230 1467.6 1230.8 1469.6 1231.6 1469.3 1232.4 1465.8 1233.2 1466 1234 1463.6 1234.8 1462.4 1235.8 1460.9 1236.4 1461.9 1237.2 1462.1 1238 1464.7 1238.8 1467.3 1239.6 1464.6 1240.4 1470.3 1241.2 1469.8 1242 1471.1 1242.8 1471.6 1243.6 1473.1 1244.4 1471.3 1245.2 1471.1 1246 1472.3 1246.8 1471.2 1247.6 1472.9 1248.4 1470.7 1249.2 1471.5 1250 1471.8 1250.8 1469.4 1251.6 1471.6 1252.4 1471.7 1253.2 1470.8 1254 1471.5 1254.8 1470.8 1255.6 1471.5 1256.4 1470.4 1257.2 1471.9 1258 1469.2 1258.8 1471.1 1259.6 1472 1260.4 1471.2 1261.2 1472.8 1262 1470.5 1262.8 1471 1263.6 1473 1264.4 1471.9 1265.2 1471.7 1266 1472.9 1266.8 1471.7 1267.6 1471.8 1268.4 1472.5 1269.2 1471.3 1270 1471.7 1270.8 1472.6 1271.6 1472.2 1272.4 1472.3 1273.2 1470.8 1274 1473.7 1274.8 1471.4 1275.6 1471.2 1276.4 1468.7 1277.2 1471 1278 1471.5 1278.8 1473.3 1279.6 1472.5 1280.4 1472.3 1281.2 1472.6 1282 1470.9 1282.8 1469.3 1283.6 1471.6 1284.4 1473.9 1285.2 1472.1 1286 1470.3 1286.8 1468 1287.6 1471.5 1288.4 1471.9 1289.2 1470.9 1290 1471 1290.8 1470.5 1291.6 1471.2 1292.4 1470.8 1293.2 1471.2 1294 1471.8 1294.8 1472.3 1295.6 1472.1 1296.4 1473 1297.2 1471.5 1298 1470.7 1298.8 1470.7 1299.6 1472.6 1300.4 1472.1 1301.2 1471.7 1302 1471.9 1302.8 1471.4 1303.6 1472.5 1304.4 1470.8 1305.2 1472.9 1306 1470.9 1306.8 1471.8 1307.6 1469.1 1308.4 1472.4 1309.2 1471.9 1310 1470.7 1310.8 1472.1 1311.6 1469.5 1312.4 1471.7 1313.2 1470.8 1314 1471 1314.8 1471.3 1315.6 1472.4 1316.4 1471.4 1317.2 1471.1 1318 1470.3 1318.8 1471.3 1319.6 1469.7 1320.4 1471.3 1321.2 1471.3 1322 1472.4 1322.8 1471.8 1323.6 1472.3 1324.4 1471.5 1325.2 1471.5 1326 1471.4 1326.8 1471.4 1327.6 1471 1328.4 1469.6 1329.2 1469.3 1330 1467.2 1330.8 1465.7 1331.6 1469 1332.4 1467.6 1333.2 1470.8 1334 1470.5 1334.8 1471.2 1335.6 1471.6 1336.4 1470.9 1337.2 1471.6 1338 1472.7 1338.8 1470.8 1339.6 1470.1 1340.4 1471.8 1341.2 1471.5 1342 1471.7 1342.8 1471.5 1343.6 1471.4 1344.4 1471.8 1345.2 1471.3 1346 1471.7 1346.8 1472.8 1347.6 1470.9 1348.4 1472.7 1349.2 1473 1350 1470.5 1350.8 1472.2 1351.6 1471.6 1352.4 1472 1353.2 1472.4 1354 1470.9 1354.8 1472.7 1355.6 1472.7 1356.4 1472.4 1357.2 1471.5 1358 1472.4 1358.8 1471.6 1359.6 1472.1 1360.4 1472 1361.2 1470.5 1362 1472.5 1362.8 1471.8 1363.6 1472.5 1364.4 1473.1 1365.2 1471.7 1366 1473.1 1366.8 1472.3 1367.6 1471.8 1368.4 1472.5 1369.2 1471.1 1370 1469.8 1370.8 1472 1371.6 1472.9 1372.4 1471.5 1373.2 1471.8 1374 1471.3 1374.8 1472.1 1375.6 1471.7 1376.4 1473 1377.2 1471.6 1378 1472.1 1378.8 1472.2 1379.6 1472.2 1380.4 1470.1 1381.2 1471.2 1382 1472.6 1382.8 1473.9 1383.6 1472 1384.4 1471.5 1385.2 1470.7 1386 1471.5 1386.8 1472 1387.6 1471.8 1388.4 1470.4 1389.2 1471.4 1390 1472.7 1390.8 1468.8 1391.6 1472.7 1392.4 1471.3 1393.2 1472.2 1394 1472.6 1394.8 1471.3 1395.6 1472.7 1396.4 1469.3 1397.2 1472.4 1398 1472.9 1398.8 1471.1 1399.6 1471.1 1400.4 1470.8 1401.2 1470.6 1402 1471 1402.8 1472.5 1403.6 1472.4 1404.4 1472.5 1405.2 1472.7 1406 1472.2 1406.8 1471.6 1407.6 1473 1408.4 1472.3 1409.2 1473.1 1410 1473.2 1410.8 1472.6 1411.6 1471.4 1412.4 1471.3 1413.2 1472 1414 1470.8 1414.8 1473.4 1415.6 1470.7 1416.4 1472.6 1417.2 1470.3 1418 1472.3 1418.8 1471.9 1419.6 1473.4 1420.4 1470.7 1421.2 1471.3 1422 1472.4 1422.8 1471.9 1423.6 1472.6 1424.4 1472.9 1425.2 1471.8 1426 1472.1 1426.8 1471.3 1427.6 1472.2 1428.4 1471 1429.2 1470.7 1430 1471.6 1430.8 1471.4 1431.6 1470.1 1432.4 1472 1433.2 1473.1 1434 1471.5 1434.8 1471.6 1435.6 1472.7 1436.4 1472.8 1437.2 1470.9 1438 1472.4 1438.8 1471.8 1439.6 1472.6 1440.4 1472.9 1441.2 1472.2 1442 1469.7 1442.8 1471.5 1443.6 1471.3 1444.4 1472.9 1445.2 1472.5 1446 1472.2 1446.8 1471.8 1447.6 1472.3 1448.4 1473.5 1449.2 1472 1450 1471.5 1450.8 1472.9 1451.6 1472.3 1452.4 1473.1 1453.2 1471.1 1454 1471.6 1454.8 1469.5 1455.6 1471.5 1456.4 1471.8 1457.2 1470 1458 1472 1458.8 1471.9 1459.6 1472 1460.4 1471.7 1461.2 1471.9 1462 1472.2 1462.8 1471.8 1463.6 1471 1464.4 1472.4 1465.2 1472.2 1466 1471.3 1466.8 1470.6 1467.6 1471.1 1468.4 1469.6 1469.2 1472.1 1470 1472.9 1470.8 1472.4 1471.6 1472.3 1472.4 1471.4 1473.2 1473.7 1474 1471.2 1474.8 1471.6 1475.6 1472.4 1476.4 1473 1477.2 1471.7 1478 1471.3" stroke="#000" stroke-width="3" fill="none" stroke-linejoin="round"/>
<path d="M1476.2 1472.3H1492.2" stroke="#000" stroke-width="2.2"/>
<path d="M145.8 1379 146.6 1380.4 147.4 1379.1 148.2 1379.7 149 1379.9 149.8 1382.1 150.6 1377.1 151.4 1377.4 152.2 1376.4 153 1378.7 153.8 1375.1 154.6 1377.7 155.4 1376.1 156.2 1378.5 157 1376.3 157.8 1375.8 158.6 1382.7 159.4 1378.2 160.2 1379.1 161 1378.5 161.8 1379.7 162.6 1374.1 163.4 1379.6 164.2 1381.8 165 1379 165.8 1380.1 166.6 1378.7 167.4 1378.7 168.2 1379 169 1378.8 169.8 1379.2 170.6 1378.8 171.4 1377.9 172.2 1378.4 173 1380.7 173.8 1378.7 174.6 1374.1 175.4 1377.2 176.2 1380.5 177 1378.4 177.8 1379.3 178.6 1375.4 179.4 1380.4 180.2 1377.8 181 1380 181.8 1375.6 182.6 1379.2 183.4 1379.1 184.2 1378.7 185 1377.6 185.8 1378.2 186.6 1380.4 187.4 1376.2 188.2 1379.2 189 1378.5 189.8 1377 190.6 1376.3 191.4 1379.4 192.2 1376.2 193 1376.8 193.8 1378.6 194.6 1375.2 195.4 1372.2 196.2 1380.7 197 1378.2 197.8 1380.2 198.6 1375.2 199.4 1379.4 200.2 1379 201 1374.3 201.8 1374.5 202.6 1380.2 203.4 1379.4 204.2 1378.6 205 1379.2 205.8 1378.4 206.6 1378.5 207.4 1379.3 208.2 1378.8 209 1379.6 209.8 1376.8 210.6 1379 211.4 1380.1 212.2 1379.7 213 1380.2 213.8 1380 214.6 1378.1 215.4 1381.5 216.2 1377 217 1378.5 217.8 1378.3 218.6 1379.4 219.4 1379.1 220.2 1379.8 221 1379.1 221.8 1378.4 222.6 1380.5 223.4 1381.2 224.2 1376.8 225 1378.9 225.8 1379.1 226.6 1378.7 227.4 1377.9 228.2 1379.4 229 1377.2 229.8 1375.8 230.6 1379.5 231.4 1377.3 232.2 1378.2 233 1379 233.8 1381.7 234.6 1379.6 235.4 1377.7 236.2 1381.9 237 1378.7 237.8 1379 238.6 1378.1 239.4 1378.9 240.2 1379.6 241 1380.7 241.8 1378.9 242.6 1378.6 243.4 1379 244.2 1375.7 245 1379.8 245.8 1380.2 246.6 1375.5 247.4 1376.6 248.2 1382.1 249 1378.7 249.8 1376.1 250.6 1379.6 251.4 1379.3 252.2 1375.3 253 1375.6 253.8 1376.9 254.6 1377.4 255.4 1380.5 256.2 1378 257 1374.9 257.8 1380.3 258.6 1377.7 259.4 1377.5 260.2 1378.8 261 1374.1 261.8 1373.3 262.6 1375.6 263.4 1377.1 264.2 1377 265 1377.2 265.8 1378.4 266.6 1376.7 267.4 1377 268.2 1374.1 269 1366 269.8 1339.5 270.7 1320.8 271.4 1330.4 272.2 1355.3 273 1370.8 273.8 1374.5 274.6 1377.5 275.4 1374.3 276.2 1378.9 277 1380.7 277.8 1379.4 278.6 1376.3 279.4 1376.7 280.2 1377.5 281 1374 281.8 1377.5 282.6 1376.2 283.4 1379 284.2 1378 285 1376.2 285.8 1376.3 286.6 1377 287.4 1375.4 288.2 1378.8 289 1380.2 289.8 1375.8 290.6 1379.8 291.4 1378.8 292.2 1381.1 293 1378.3 293.8 1377.9 294.6 1374.8 295.4 1375.9 296.2 1378.6 297 1380.1 297.8 1378.6 298.6 1378.5 299.4 1379.7 300.2 1377.8 301 1376.1 301.8 1377.5 302.6 1375.5 303.4 1371.8 304.2 1374.5 305 1374.9 305.8 1373.7 306.6 1368.3 307.4 1369.6 308.2 1370.1 309 1368.4 309.8 1364.3 310.6 1367.5 311 1367.9 311.4 1367.6 312.2 1365 313 1370.2 313.8 1369.6 314.6 1369.2 315.4 1374.6 316.2 1373.8 317 1372.6 317.8 1375.7 318.6 1375.3 319.4 1378.2 320.2 1376.7 321 1376.2 321.8 1379.2 322.6 1380.1 323.4 1379.5 324.2 1378.3 325 1378.1 325.8 1377.8 326.6 1377 327.4 1379.6 328.2 1373.6 329 1379.7 329.8 1379.7 330.6 1377.4 331.4 1378.7 332.2 1379.2 333 1379.4 333.8 1378.6 334.6 1377.5 335.4 1381.3 336.2 1377.1 337 1378.9 337.8 1379.9 338.6 1378.2 339.4 1378.2 340.2 1378.2 341 1378.7 341.8 1377.4 342.6 1378.1 343.4 1380 344.2 1377.4 345 1379 345.8 1376 346.6 1376.9 347.4 1379.3 348.2 1380.1 349 1380.2 349.8 1378.7 350.6 1379.8 351.4 1380.7 352.2 1380.2 353 1378.8 353.8 1378.6 354.6 1376.7 355.4 1378.4 356.2 1378 357 1378.8 357.8 1374 358.6 1378.9 359.4 1378.2 360.2 1378 361 1380 361.8 1376.3 362.6 1378.6 363.4 1378.4 364.2 1379 365 1376.8 365.8 1379.6 366.6 1378.8 367.4 1378.2 368.2 1378.6 369 1379 369.8 1379.7 370.6 1377.6 371.4 1378 372.2 1378.2 373 1377.1 373.8 1379.5 374.6 1379.1 375.4 1377.6 376.2 1377.8 377 1380.2 377.8 1374.3 378.6 1378.7 379.4 1377.9 380.2 1380.8 381 1380.5 381.8 1377 382.6 1379.6 383.4 1378 384.2 1380.5 385 1379.2 385.8 1374.4 386.6 1378.6 387.4 1374.1 388.2 1377.9 389 1376.6 389.8 1380 390.6 1379 391.4 1375.9 392.2 1379.4 393 1378.9 393.8 1377.1 394.6 1380.7 395.4 1378.6 396.2 1381.4 397 1378 397.8 1377.8 398.6 1378.1 399.4 1375.7 400.2 1375 401 1375.6 401.8 1379.5 402.6 1379.3 403.4 1374 404.2 1378 405 1376.6 405.8 1378.2 406.6 1378.6 407.4 1378.5 408.2 1378.2 409 1379.2 409.8 1378.4 410.6 1378.2 411.4 1378.3 412.2 1377.8 413 1379.6 413.8 1379.2 414.6 1377.6 415.4 1378.3 416.2 1374.2 417 1379.3 417.8 1378.1 418.6 1378.2 419.4 1378.9 420.2 1378 421 1377.2 421.8 1380.7 422.6 1377.8 423.4 1376.9 424.2 1378.7 425 1377.9 425.8 1379.2 426.6 1379 427.4 1377.8 428.2 1379.3 429 1378.5 429.8 1380.2 430.6 1378 431.4 1378.8 432.2 1376.3 433 1379.1 433.8 1380.8 434.6 1379.5 435.4 1376.5 436.2 1380 437 1377 437.8 1373 438.6 1380.8 439.4 1375.3 440.2 1380.3 441 1379.9 441.8 1378.6 442.6 1378.3 443.4 1379.4 444.2 1373.9 445 1378.2 445.8 1378.4 446.6 1378.7 447.4 1380 448.2 1378.6 449 1379.4 449.8 1377.3 450.6 1377.3 451.4 1379.9 452.2 1379.3 453 1379.1 453.8 1380.1 454.6 1379 455.4 1379.2 456.2 1379.5 457 1372.7 457.8 1375.8 458.6 1380.4 459.4 1374.8 460.2 1377.9 461 1380.6 461.8 1378.8 462.6 1380.8 463.4 1377.5 464.2 1378.8 465 1378 465.8 1379 466.6 1378.7 467.4 1379.4 468.2 1378.9 469 1379.1 469.8 1380.4 470.6 1379.3 471.4 1380.3 472.2 1379 473 1374.5 473.8 1378.5 474.6 1375.7 475.4 1379.5 476.2 1378.1 477 1377.4 477.8 1377.9 478.6 1374.8 479.4 1374.9 480.2 1366.4 481 1334.6 481.8 1178.1 482.5 1039.9 483.4 1208.6 484.2 1343 485 1370.4 485.8 1374.1 486.6 1377.5 487.4 1370.8 488.2 1379.4 489 1377.2 489.8 1377.6 490.6 1377.3 491.4 1377.2 492.2 1379.3 493 1376.7 493.8 1377.8 494.6 1377.5 495.4 1376 496.2 1377.9 497 1379.3 497.8 1378.7 498.6 1377.4 499.4 1378.9 500.2 1376.1 501 1373.6 501.8 1377.6 502.6 1379 503.4 1379.8 504.2 1373.2 505 1378.9 505.8 1378.8 506.6 1379.7 507.4 1377.5 508.2 1379.6 509 1378.4 509.8 1376.4 510.6 1381.5 511.4 1378.4 512.2 1380.2 513 1377.4 513.8 1379.3 514.6 1377 515.4 1374.7 516.2 1380.1 517 1378.6 517.8 1379.6 518.6 1377.6 519.4 1379.7 520.2 1378.5 521 1378.5 521.8 1379.5 522.6 1380.2 523.4 1376.6 524.2 1375.7 525 1374 525.8 1372.4 526.6 1369.5 527.4 1365.6 528.5 1357.8 529 1357.4 529.8 1367.3 530.6 1372.7 531.4 1375.1 532.2 1376.1 533 1377.1 533.8 1376.3 534.6 1375 535.4 1376.9 536.2 1379.1 537 1380.1 537.8 1381.3 538.6 1379.7 539.4 1378.3 540.2 1375.2 541 1379.3 541.8 1378.5 542.6 1378.2 543.4 1377.5 544.2 1375.4 545 1378.4 545.8 1380.1 546.6 1379.5 547.4 1379.3 548.2 1377.1 549 1378.4 549.8 1375.8 550.6 1377.1 551.4 1377.4 552.2 1374.6 553 1370.1 553.8 1365.2 554.2 1362.8 554.6 1364.2 555.4 1369.1 556.2 1373.1 557 1376.6 557.8 1380 558.6 1378.8 559.4 1379.5 560.2 1379.1 561 1379.1 561.8 1374.8 562.6 1376.2 563.4 1377.6 564.2 1377.2 565 1379.7 565.8 1375.5 566.6 1373.9 567.4 1378.2 568.2 1378.9 569 1379.6 569.8 1377.7 570.6 1378 571.4 1379.2 572.2 1379.5 573 1375.1 573.8 1380.1 574.6 1378 575.4 1380.4 576.2 1380.9 577 1373.4 577.8 1373.2 578.6 1377.3 579.4 1378.6 580.2 1379 581 1375.3 581.8 1371.8 582.6 1377.1 583.4 1376.7 584.2 1375.9 585 1376 585.8 1372.5 586.6 1368.8 587.4 1371.3 588.3 1369.8 589 1371.9 589.8 1370.6 590.6 1371.8 591.4 1371.3 592.2 1374.8 593 1377.7 593.8 1377.5 594.6 1377.5 595.4 1378.8 596.2 1379.9 597 1377.1 597.8 1380.9 598.6 1379 599.4 1379.7 600.2 1377.6 601 1377.4 601.8 1379.1 602.6 1376.9 603.4 1376.3 604.2 1374.8 605 1375.1 605.8 1374.5 606.6 1373.8 607.4 1368 608.2 1368.7 609 1367.6 609.7 1367.8 610.6 1368.9 611.4 1370.5 612.2 1372.3 613 1374 613.8 1373.5 614.6 1374.3 615.4 1374 616.2 1373.3 617 1376.8 617.8 1379.3 618.6 1380.7 619.4 1375.8 620.2 1378.7 621 1376.5 621.8 1377.4 622.6 1378.3 623.4 1379.8 624.2 1378.5 625 1379.2 625.8 1377.8 626.6 1379.6 627.4 1376.2 628.2 1377.8 629 1377.4 629.8 1375.1 630.6 1380.2 631.4 1381.1 632.2 1379.9 633 1379.9 633.8 1379.8 634.6 1379.1 635.4 1375.2 636.2 1378.3 637 1378.1 637.8 1377.7 638.6 1378.3 639.4 1378.1 640.2 1378.7 641 1377 641.8 1378.8 642.6 1378.4 643.4 1379.8 644.2 1377.3 645 1378.2 645.8 1379.9 646.6 1377.7 647.4 1379.2 648.2 1377.5 649 1378 649.8 1381.3 650.6 1376.7 651.4 1379.9 652.2 1376.7 653 1374.7 653.8 1378.6 654.6 1375.1 655.4 1377.6 656.2 1377.4 657 1377.8 657.8 1378.1 658.6 1377.5 659.4 1374.8 660.2 1377.6 661 1378.7 661.8 1378.4 662.6 1379.3 663.4 1378.1 664.2 1380.2 665 1377.9 665.8 1377.6 666.6 1378.3 667.4 1377.8 668.2 1378.1 669 1379.4 669.8 1379.9 670.6 1377.1 671.4 1376.8 672.2 1377.7 673 1377.7 673.8 1378.5 674.6 1378.9 675.4 1375 676.2 1378.2 677 1379.8 677.8 1377.5 678.6 1379.3 679.4 1374.2 680.2 1379.1 681 1380.9 681.8 1375.1 682.6 1380 683.4 1378.5 684.2 1378.8 685 1377.9 685.8 1378.8 686.6 1377.9 687.4 1379.8 688.2 1377.5 689 1379.2 689.8 1379.7 690.6 1378.7 691.4 1379.4 692.2 1379.1 693 1379.8 693.8 1378.7 694.6 1379.5 695.4 1378.8 696.2 1378.4 697 1379.8 697.8 1379.5 698.6 1378.5 699.4 1378.8 700.2 1380 701 1377.5 701.8 1375.6 702.6 1373.2 703.4 1355.8 704.2 1333.4 704.7 1325.8 705.8 1350 706.6 1367.1 707.4 1373.2 708.2 1377 709 1376.2 709.8 1378.6 710.6 1376.9 711.4 1377.3 712.2 1379.1 713 1378 713.8 1377 714.6 1379.9 715.4 1379.5 716.2 1378.3 717 1378.2 717.8 1378 718.6 1379.7 719.4 1377 720.2 1378.1 721 1373.1 721.8 1379.7 722.6 1378.4 723.4 1377.7 724.2 1376.1 725 1378.7 725.8 1379.7 726.6 1378.7 727.4 1378.5 728.2 1378.9 729 1378.1 729.8 1378.6 730.6 1377.4 731.4 1377.8 732.2 1378.5 733 1379.3 733.8 1378.8 734.6 1379.6 735.4 1374 736.2 1378.6 737 1376.7 737.8 1378.9 738.6 1378.5 739.4 1378.9 740.2 1376.9 741 1377.7 741.8 1378.3 742.6 1378.3 743.4 1380.5 744.2 1378.4 745 1379 745.8 1378.8 746.6 1377.3 747.4 1375.5 748.2 1378.4 749 1379.2 749.8 1378.3 750.6 1377.6 751.4 1378.2 752.2 1379.3 753 1376 753.8 1377 754.6 1373.4 755.4 1370.2 756.2 1364.6 757.2 1361 757.8 1360.7 758.6 1366 759.4 1366.9 760.2 1369.6 761 1370.9 761.8 1370.5 762.6 1369.6 763.4 1366.8 764.2 1364.2 765 1365.5 765.8 1364.3 766.6 1366.4 767.4 1367.5 768.2 1365.7 769 1364.3 769.8 1359.5 770.6 1357 771.4 1353.8 772.2 1343.6 773 1339.9 773.8 1334.4 774.8 1331.2 775.4 1332.6 776.2 1336.5 777 1342.3 777.8 1350.9 778.6 1359.2 779.4 1360.6 780.2 1366.5 781 1370.8 781.8 1375 782.6 1375.2 783.4 1371.3 784.2 1379.1 785 1376.9 785.8 1377.4 786.6 1378.5 787.4 1375.5 788.2 1378 789 1377.8 789.8 1377.8 790.6 1376.4 791.4 1379.4 792.2 1380.1 793 1377.8 793.8 1377.8 794.6 1376.1 795.4 1379.8 796.2 1375.7 797 1380.3 797.8 1378.2 798.6 1377.8 799.4 1378.8 800.2 1378.6 801 1377 801.8 1378.1 802.6 1376.1 803.4 1378.8 804.2 1378.6 805 1377.9 805.8 1379.3 806.6 1378.8 807.4 1380 808.2 1377.3 809 1376.7 809.8 1378.3 810.6 1379.1 811.4 1378.1 812.2 1378.4 813 1378.1 813.8 1375 814.6 1371.5 815.4 1367 816.4 1363.7 817 1365.9 817.8 1367.5 818.6 1371.8 819.4 1375.7 820.2 1379 821 1379.3 821.8 1378.1 822.6 1379 823.4 1378.6 824.2 1379 825 1378.2 825.8 1378.2 826.6 1377.6 827.4 1376.6 828.2 1378.7 829 1377 829.8 1378.3 830.6 1378.3 831.4 1377 832.2 1378.5 833 1377.4 833.8 1379 834.6 1378.6 835.4 1377.9 836.2 1374 837 1378.4 837.8 1376.8 838.6 1377.6 839.4 1378 840.2 1379.5 841 1378.3 841.8 1375.7 842.6 1374.8 843.4 1377.8 844.2 1378.2 845 1380.2 845.8 1376.9 846.6 1375.8 847.4 1376.6 848.2 1378.8 849 1376.1 849.8 1375.6 850.6 1374.2 851.4 1374.7 852.2 1373.8 853 1371.2 853.8 1366 854.6 1363 855.4 1368.4 856.2 1362.5 857 1365.2 858 1363.8 858.6 1364.6 859.4 1364.7 860.2 1365.9 861 1364.7 861.8 1369.2 862.6 1370.1 863.4 1372.6 864.2 1368.2 865 1370.1 865.8 1375.9 866.6 1375.9 867.4 1377.4 868.2 1377.2 869 1376.8 869.8 1378.2 870.6 1377.3 871.4 1378.5 872.2 1379.7 873 1376 873.8 1380.4 874.6 1377.9 875.4 1378.5 876.2 1379.4 877 1380.7 877.8 1377.5 878.6 1377 879.4 1379 880.2 1379 881 1373.6 881.8 1378 882.6 1375.8 883.4 1376.1 884.2 1377.8 885 1378.2 885.8 1378.4 886.6 1377.4 887.4 1377.2 888.2 1375.1 889 1372.7 889.8 1379.5 890.6 1376 891.4 1378.6 892.2 1379.1 893 1378.2 893.8 1376.5 894.6 1373.3 895.4 1360.4 896.2 1334.8 897.1 1316.8 897.8 1326.6 898.6 1351.8 899.4 1370.1 900.2 1375 901 1375.3 901.8 1378.1 902.6 1378.2 903.4 1376.5 904.2 1377 905 1378.5 905.8 1376.8 906.6 1377.7 907.4 1379.1 908.2 1379.1 909 1374.9 909.8 1377.9 910.6 1378.8 911.4 1379 912.2 1379.5 913 1378.1 913.8 1378.8 914.6 1380.2 915.4 1379.4 916.2 1378.8 917 1378.3 917.8 1381.8 918.6 1378.7 919.4 1377.2 920.2 1377.8 921 1380.5 921.8 1379.6 922.6 1378.7 923.4 1377.8 924.2 1380.4 925 1378.1 925.8 1377.8 926.6 1378.4 927.4 1378.5 928.2 1378.3 929 1379.5 929.8 1376.5 930.6 1377.9 931.4 1376.9 932.2 1374.9 933 1377.2 933.8 1378.1 934.6 1379.8 935.4 1379.4 936.2 1377.9 937 1379 937.8 1374.3 938.6 1377.5 939.4 1379.2 940.2 1380 941 1379.6 941.8 1379 942.6 1379.2 943.4 1380 944.2 1380.6 945 1380.1 945.8 1379.8 946.6 1374.7 947.4 1379.4 948.2 1380.9 949 1377.3 949.8 1379.4 950.6 1375.8 951.4 1379.6 952.2 1378.8 953 1375.7 953.8 1379.6 954.6 1378.7 955.4 1380.3 956.2 1378.1 957 1375.5 957.8 1375.9 958.6 1379.6 959.4 1374.1 960.2 1370.9 961 1368 961.4 1365.8 961.8 1366.4 962.6 1371.2 963.4 1373.8 964.2 1376 965 1378.1 965.8 1377.7 966.6 1379.8 967.4 1377.4 968.2 1379.2 969 1378.8 969.8 1378.6 970.6 1375.7 971.4 1376.8 972.2 1375.3 973 1372.8 974 1370.8 974.6 1371.5 975.4 1373.9 976.2 1373.7 977 1377.4 977.8 1377 978.6 1378.4 979.4 1380 980.2 1377.6 981 1379.3 981.8 1378.5 982.6 1378.8 983.4 1379.2 984.2 1381.3 985 1379.6 985.8 1379.7 986.6 1378 987.4 1375.4 988.2 1377.5 989 1378.6 989.8 1379.3 990.6 1378.4 991.4 1379.5 992.2 1379.4 993 1378.4 993.8 1381.1 994.6 1379.5 995.4 1378.3 996.2 1380.4 997 1377.5 997.8 1381 998.6 1378.8 999.4 1379.8 1000.2 1376 1001 1378.6 1001.8 1378.4 1002.6 1379.3 1003.4 1379.1 1004.2 1377.8 1005 1377.5 1005.8 1377.3 1006.6 1376 1007.4 1378.7 1008.2 1379.2 1009 1380 1009.8 1380.2 1010.6 1377.8 1011.4 1380.7 1012.2 1379.6 1013 1380.5 1013.8 1378.9 1014.6 1377.7 1015.4 1378.3 1016.2 1379.3 1017 1377.7 1017.8 1377.7 1018.6 1378.2 1019.4 1378.4 1020.2 1376.5 1021 1379.3 1021.8 1378.6 1022.6 1375.5 1023.4 1378.2 1024.2 1378.4 1025 1377.5 1025.8 1378.2 1026.6 1378.4 1027.4 1380.1 1028.2 1378.7 1029 1378.8 1029.8 1378.3 1030.6 1375.6 1031.4 1375.9 1032.2 1371.4 1033 1372.2 1034.1 1368.9 1034.6 1370.9 1035.4 1371.8 1036.2 1372.7 1037 1375.1 1037.8 1379.8 1038.6 1376.9 1039.4 1377.4 1040.2 1377.4 1041 1378.8 1041.8 1380.8 1042.6 1379.5 1043.4 1378.8 1044.2 1377.1 1045 1379.8 1045.8 1378.3 1046.6 1378.9 1047.4 1378.2 1048.2 1376.1 1049 1378.5 1049.8 1379.6 1050.6 1378.8 1051.4 1379.9 1052.2 1374.7 1053 1380.3 1053.8 1379.5 1054.6 1378.2 1055.4 1377.6 1056.2 1377.9 1057 1380 1057.8 1379 1058.6 1379.6 1059.4 1378.4 1060.2 1377.7 1061 1379.3 1061.8 1378.9 1062.6 1378.1 1063.4 1377.7 1064.2 1377.4 1065 1379.8 1065.8 1377.5 1066.6 1378.7 1067.4 1379.8 1068.2 1378.5 1069 1378.8 1069.8 1380.3 1070.6 1377.5 1071.4 1377.8 1072.2 1378.4 1073 1374.8 1073.8 1378.6 1074.6 1379 1075.4 1377.9 1076.2 1378.1 1077 1377.3 1077.8 1379.8 1078.6 1377.5 1079.4 1379.7 1080.2 1378.1 1081 1379.3 1081.8 1377.7 1082.6 1376.3 1083.4 1377.1 1084.2 1378.5 1085 1380.2 1085.8 1379 1086.6 1379.5 1087.4 1378.7 1088.2 1379.9 1089 1377.2 1089.8 1374.3 1090.6 1379.7 1091.4 1377.4 1092.2 1378 1093 1379.1 1093.8 1376.2 1094.6 1376.9 1095.4 1376 1096.2 1376.1 1097 1376.1 1097.8 1375.5 1098.6 1374 1099.4 1372.9 1100.2 1373.6 1101 1371.3 1101.8 1374.6 1102.6 1376.2 1103.4 1374.6 1104.2 1373.5 1105 1377.6 1105.8 1377.5 1106.6 1378.1 1107.4 1376.7 1108.2 1378.4 1109 1374.3 1109.8 1378.9 1110.6 1378.1 1111.4 1377 1112.2 1375.1 1113 1376.7 1113.8 1376.5 1114.6 1378.8 1115.4 1377.6 1116.2 1380.3 1117 1379.1 1117.8 1377.4 1118.6 1379.6 1119.4 1379.1 1120.2 1378.4 1121 1377.2 1121.8 1374.8 1122.6 1378.8 1123.4 1377.7 1124.2 1380.2 1125 1378.8 1125.8 1381.1 1126.6 1377.7 1127.4 1376.6 1128.2 1378.7 1129 1375.4 1129.8 1377.5 1130.6 1378.4 1131.4 1378.4 1132.2 1378.1 1133 1379.2 1133.8 1380.1 1134.6 1377 1135.4 1377.6 1136.2 1379.5 1137 1375.4 1137.8 1377 1138.6 1379 1139.4 1379.6 1140.2 1378.9 1141 1379.1 1141.8 1378.5 1142.6 1379.8 1143.4 1379.1 1144.2 1375.7 1145 1379.3 1145.8 1379.7 1146.6 1378.5 1147.4 1379 1148.2 1379 1149 1379 1149.8 1380.2 1150.6 1376.4 1151.4 1378.9 1152.2 1378.6 1153 1378.9 1153.8 1379.5 1154.6 1379.5 1155.4 1379.9 1156.2 1378.8 1157 1375.3 1157.8 1377.2 1158.6 1377.6 1159.4 1377.6 1160.2 1378.5 1161 1378.2 1161.8 1378 1162.6 1378.2 1163.4 1379.5 1164.2 1380.1 1165 1378.6 1165.8 1379.9 1166.6 1378.9 1167.4 1378.1 1168.2 1376.6 1169 1377 1169.8 1378.5 1170.6 1379.3 1171.4 1380.2 1172.2 1378.9 1173 1379.5 1173.8 1378.8 1174.6 1379.4 1175.4 1376.4 1176.2 1378.2 1177 1378.9 1177.8 1380.1 1178.6 1380.7 1179.4 1379.6 1180.2 1379.7 1181 1379.4 1181.8 1378.2 1182.6 1378.2 1183.4 1379.6 1184.2 1379.2 1185 1379.2 1185.8 1377.2 1186.6 1379.6 1187.4 1378.3 1188.2 1378.9 1189 1378.7 1189.8 1379.1 1190.6 1374.7 1191.4 1378.5 1192.2 1379.4 1193 1378.6 1193.8 1379.8 1194.6 1378.4 1195.4 1377.9 1196.2 1377.5 1197 1379 1197.8 1374.5 1198.6 1378.3 1199.4 1380.6 1200.2 1378.6 1201 1377.9 1201.8 1378.2 1202.6 1375.9 1203.4 1379.5 1204.2 1379.5 1205 1379.2 1205.8 1378.3 1206.6 1377.6 1207.4 1378.1 1208.2 1377 1209 1379.7 1209.8 1378.2 1210.6 1379.3 1211.4 1379 1212.2 1378 1213 1379.4 1213.8 1379.1 1214.6 1377.3 1215.4 1380.5 1216.2 1378.1 1217 1378.4 1217.8 1378.4 1218.6 1378.7 1219.4 1379.6 1220.2 1378.5 1221 1380.6 1221.8 1378.7 1222.6 1376.3 1223.4 1379.2 1224.2 1378.2 1225 1379.4 1225.8 1377.5 1226.6 1378.3 1227.4 1377.8 1228.2 1378.1 1229 1377.5 1229.8 1375.2 1230.6 1371.7 1231.4 1365.7 1232.2 1356 1233.3 1347.9 1233.8 1348.6 1234.6 1357.6 1235.4 1366.5 1236.2 1372.4 1237 1375.6 1237.8 1378.3 1238.6 1378.6 1239.4 1374.9 1240.2 1379.2 1241 1378.3 1241.8 1378.9 1242.6 1376.5 1243.4 1379.1 1244.2 1377.5 1245 1378.9 1245.8 1378.8 1246.6 1375.8 1247.4 1379.1 1248.2 1378.3 1249 1378.8 1249.8 1378.3 1250.6 1379.3 1251.4 1377.3 1252.2 1378.7 1253 1377.8 1253.8 1379.1 1254.6 1377.5 1255.4 1378.1 1256.2 1378.7 1257 1378.7 1257.8 1379.2 1258.6 1379 1259.4 1379.2 1260.2 1379.2 1261 1378.5 1261.8 1378.5 1262.6 1378.4 1263.4 1379.5 1264.2 1378 1265 1378.6 1265.8 1379 1266.6 1377.1 1267.4 1379 1268.2 1373.5 1269 1370.2 1269.9 1369.9 1270.6 1367.6 1271.4 1374 1272.2 1378.4 1273 1377.3 1273.8 1377.4 1274.6 1378.9 1275.4 1378.3 1276.2 1378.5 1277 1379.5 1277.8 1378.8 1278.6 1380.5 1279.4 1380.2 1280.2 1377.9 1281 1379.2 1281.8 1378.3 1282.6 1378.9 1283.4 1378.5 1284.2 1377.4 1285 1378.4 1285.8 1379.6 1286.6 1375.8 1287.4 1378.4 1288.2 1378.5 1289 1378.4 1289.8 1378.8 1290.6 1378.7 1291.4 1377.4 1292.2 1378.7 1293 1379.2 1293.8 1378.8 1294.6 1379.6 1295.4 1377.3 1296.2 1379 1297 1378.8 1297.8 1379.6 1298.6 1377.7 1299.4 1379.3 1300.2 1377.9 1301 1375.5 1301.8 1376.8 1302.6 1375.7 1303.4 1372.8 1304.2 1368.4 1305.2 1367.7 1305.8 1365.8 1306.6 1370.6 1307.4 1369.2 1308.2 1374.3 1309 1376.4 1309.8 1375.4 1310.6 1373.3 1311.4 1369.1 1312.2 1369.7 1312.7 1367.7 1313.8 1368.9 1314.6 1371.6 1315.4 1373.2 1316.2 1375.7 1317 1377.3 1317.8 1379.2 1318.6 1378.8 1319.4 1379 1320.2 1379.7 1321 1378.6 1321.8 1378.4 1322.6 1377.9 1323.4 1377.1 1324.2 1378.1 1325 1379.2 1325.8 1377 1326.6 1378.8 1327.4 1370.5 1328.2 1366.2 1329.1 1362.8 1329.8 1365.5 1330.6 1369.9 1331.4 1373.5 1332.2 1377.9 1333 1378.7 1333.8 1377.5 1334.6 1378.6 1335.4 1376.7 1336.2 1378.4 1337 1379.4 1337.8 1377.9 1338.6 1378.3 1339.4 1377.2 1340.2 1378.2 1341 1379 1341.8 1378.7 1342.6 1374.5 1343.4 1377.7 1344.2 1378.3 1345 1376.4 1345.8 1377.5 1346.6 1378.3 1347.4 1380.9 1348.2 1379 1349 1377.9 1349.8 1379.6 1350.6 1380.2 1351.4 1378.5 1352.2 1377 1353 1379.3 1353.8 1379.1 1354.6 1378.5 1355.4 1378.1 1356.2 1378.5 1357 1378.9 1357.8 1378.9 1358.6 1377.4 1359.4 1378.8 1360.2 1378.8 1361 1379 1361.8 1378.8 1362.6 1380.8 1363.4 1377.5 1364.2 1378.4 1365 1378.5 1365.8 1379.2 1366.6 1378.3 1367.4 1379.9 1368.2 1378.2 1369 1378.7 1369.8 1378.5 1370.6 1378.5 1371.4 1379.1 1372.2 1379.2 1373 1378.6 1373.8 1379.8 1374.6 1378.7 1375.4 1379.3 1376.2 1378.6 1377 1376.8 1377.8 1380.4 1378.6 1378.7 1379.4 1377.8 1380.2 1380 1381 1381.6 1381.8 1379.9 1382.6 1378.4 1383.4 1378.4 1384.2 1377 1385 1378.9 1385.8 1380 1386.6 1376.6 1387.4 1376.7 1388.2 1379.2 1389 1379.3 1389.8 1378.2 1390.6 1379.1 1391.4 1377.4 1392.2 1377.5 1393 1376.5 1393.8 1379.5 1394.6 1378.7 1395.4 1379.2 1396.2 1379.7 1397 1379 1397.8 1377.3 1398.6 1379.7 1399.4 1378.7 1400.2 1378.7 1401 1379.3 1401.8 1379.4 1402.6 1379 1403.4 1378.9 1404.2 1376.9 1405 1378 1405.8 1375.5 1406.6 1378.8 1407.4 1378.5 1408.2 1378.9 1409 1378.1 1409.8 1380.1 1410.6 1378.6 1411.4 1376 1412.2 1380 1413 1378.1 1413.8 1377.5 1414.6 1378.9 1415.4 1377.6 1416.2 1378.1 1417 1377.9 1417.8 1376.5 1418.6 1376.7 1419.4 1375.6 1420.2 1371.9 1421.2 1368.9 1421.8 1370.4 1422.6 1375 1423.4 1376.6 1424.2 1379 1425 1378.2 1425.8 1378.5 1426.6 1377.6 1427.4 1378.4 1428.2 1378.5 1429 1377.6 1429.8 1378.7 1430.6 1377.9 1431.4 1377.9 1432.2 1377.6 1433 1378.6 1433.8 1376.6 1434.6 1379.7 1435.4 1379.1 1436.2 1379.5 1437 1379.6 1437.8 1376.7 1438.6 1378.9 1439.4 1378.5 1440.2 1378.5 1441 1376.4 1441.8 1378.8 1442.6 1378.9 1443.4 1378.8 1444.2 1379.2 1445 1378.2 1445.8 1377.4 1446.6 1378.7 1447.4 1378.3 1448.2 1378.9 1449 1378.5 1449.8 1377.5 1450.6 1379.9 1451.4 1378.9 1452.2 1379.7 1453 1379.6 1453.8 1376.3 1454.6 1378.7 1455.4 1378.6 1456.2 1379.1 1457 1379.2 1457.8 1378.5 1458.6 1378.5 1459.4 1379.5 1460.2 1379.9 1461 1379.4 1461.8 1377.8 1462.6 1378.1 1463.4 1379.1 1464.2 1377.8 1465 1378.1 1465.8 1379.9 1466.6 1378.6 1467.4 1376.6 1468.2 1376.6 1469 1379.6 1469.8 1376.9 1470.6 1378.9 1471.4 1377.7 1472.2 1378.3 1473 1379.6 1473.8 1379 1474.6 1379.7 1475.4 1378.4 1476.2 1378.8 1477 1379.8 1477.8 1377 1478.6 1379.4 1479.4 1379.6 1480.2 1379.2 1481 1378.7 1481.8 1377.7 1482.6 1379.2 1483.4 1380 1484.2 1378.7 1485 1379.4 1485.8 1378.1 1486.6 1377.2 1487.4 1377.5 1488.2 1377.6 1489 1379.5 1489.8 1378.6 1490.6 1377 1491.4 1378.6 1492.2 1379 1493 1378.2 1493.8 1378.9 1494.6 1378.8 1495.4 1379.4 1496.2 1378.3 1497 1379.8 1497.8 1378.5 1498.6 1380 1499.4 1376.7 1500.2 1377.3 1501 1379.1 1501.8 1379.3 1502.6 1379.4 1503.4 1379.1 1504.2 1377.3 1505 1381 1505.8 1378.7 1506.6 1378.8 1507.4 1379.2 1508.2 1379.2 1509 1380.2 1509.8 1379.7 1510.6 1377.8 1511.4 1379.4 1512.2 1378.8 1513 1378.5 1513.8 1378.7 1514.6 1378.6 1515.4 1379.2 1516.2 1378.4 1517 1378.5 1517.8 1379.9 1518.6 1378.9 1519.4 1379.1 1520.2 1379 1521 1378.9 1521.8 1378.5 1522.6 1379.7 1523.4 1378.7 1524.2 1379.5 1525 1379 1525.8 1375.2 1526.6 1379.9 1527.4 1378.9 1528.2 1377.7 1529 1380.8 1529.8 1379 1530.6 1378.2 1531.4 1378.4 1532.2 1378.7 1533 1376.1 1533.8 1377.9 1534.6 1378.2 1535.4 1378.6 1536.2 1376.3 1537 1378.2 1537.8 1378.6 1538.6 1378.9 1539.4 1379.1 1540.2 1378.1 1541 1378.3 1541.8 1378.3 1542.6 1379.9 1543.4 1378.3 1544.2 1378.7 1545 1377.5 1545.8 1379.2 1546.6 1378.8 1547.4 1379.7 1548.2 1378.5 1549 1378.5 1549.8 1378.9 1550.6 1379.9 1551.4 1378.9 1552.2 1378.3 1553 1378.5 1553.8 1380.4 1554.6 1377.9 1555.4 1378.8 1556.2 1379.2 1557 1378.9 1557.8 1378.6 1558.6 1378.7 1559.4 1379.5 1560.2 1379.1 1561 1378.8 1561.8 1378 1562.6 1379.7 1563.4 1378.5 1564.2 1378.5 1565 1378 1565.8 1378.9 1566.6 1379 1567.4 1380 1568.2 1379.7 1569 1379" stroke="#000" stroke-width="3" fill="none" stroke-linejoin="round"/>
<path d="M1567.2 1379.2H1583.2" stroke="#000" stroke-width="2.2"/>
<path d="M236.7 1284.8 237.5 1285.4 238.3 1283.7 239.1 1285.8 239.9 1283.4 240.7 1285.8 241.5 1280.6 242.3 1286.3 243.1 1286.8 243.9 1285.1 244.7 1284.8 245.5 1286.3 246.3 1286.1 247.1 1284 247.9 1285.4 248.7 1288.4 249.5 1286.7 250.3 1286.1 251.1 1284.4 251.9 1284.6 252.7 1285.8 253.5 1287.2 254.3 1285.9 255.1 1285.5 255.9 1285.6 256.7 1283.4 257.5 1287 258.3 1281.3 259.1 1286 259.9 1284.8 260.7 1284.1 261.5 1283.9 262.3 1287.6 263.1 1286.2 263.9 1285.2 264.7 1285.3 265.5 1285.8 266.3 1284 267.1 1284.7 267.9 1281 268.7 1284.7 269.5 1279.3 270.3 1287 271.1 1280.3 271.9 1281.3 272.7 1288.4 273.5 1286.4 274.3 1286.8 275.1 1287.5 275.9 1287.5 276.7 1281.5 277.5 1286 278.3 1286.2 279.1 1286 279.9 1280.3 280.7 1280.2 281.5 1287.4 282.3 1287.6 283.1 1285.6 283.9 1286 284.7 1286.4 285.5 1287.1 286.3 1286.4 287.1 1284.1 287.9 1279.6 288.7 1279.7 289.5 1286.8 290.3 1285.2 291.1 1287.5 291.9 1286 292.7 1283.4 293.5 1285.3 294.3 1286.6 295.1 1283.5 295.9 1284.6 296.7 1285.3 297.5 1286.5 298.3 1287.2 299.1 1286.1 299.9 1286.3 300.7 1286.8 301.5 1284.8 302.3 1283.1 303.1 1284.5 303.9 1285.1 304.7 1286.4 305.5 1280.5 306.3 1285.5 307.1 1286.1 307.9 1286.8 308.7 1284.9 309.5 1284 310.3 1283.4 311.1 1284.9 311.9 1287.2 312.7 1286.7 313.5 1284.7 314.3 1286.1 315.1 1286.1 315.9 1284.6 316.7 1284 317.5 1285 318.3 1288.7 319.1 1284.8 319.9 1287.8 320.7 1285.3 321.5 1284.8 322.3 1285.6 323.1 1284.9 323.9 1286 324.7 1285.3 325.5 1287.6 326.3 1284.2 327.1 1287 327.9 1285.2 328.7 1285 329.5 1286 330.3 1280.5 331.1 1282.3 331.9 1281.5 332.7 1285.2 333.5 1285.7 334.3 1287 335.1 1286.7 335.9 1285.8 336.7 1284.6 337.5 1284.5 338.3 1283.8 339.1 1285.1 339.9 1285.8 340.7 1283.6 341.5 1283.5 342.3 1278.4 343.1 1277.6 343.5 1276.7 343.9 1276 344.7 1279.1 345.5 1282.5 346.3 1283.2 347.1 1285.3 347.9 1280.7 348.7 1286.4 349.5 1286 350.3 1287.1 351.1 1284.9 351.9 1284.6 352.7 1285 353.5 1285.9 354.3 1286 355.1 1286.3 355.9 1284.6 356.7 1285.2 357.5 1284.7 358.3 1282.2 359.1 1285.8 359.9 1279.3 360.7 1282.3 361.5 1274.2 362.3 1253.6 363.2 1235.8 363.9 1241.9 364.7 1271.7 365.5 1282.1 366.3 1284.5 367.1 1282.6 367.9 1282.9 368.7 1285.6 369.5 1285.1 370.3 1286.2 371.1 1285.2 371.9 1284.5 372.7 1282.7 373.5 1287 374.3 1286.8 375.1 1284.7 375.9 1283.2 376.7 1285 377.5 1285.8 378.3 1284.9 379.1 1286.9 379.9 1284.5 380.7 1280.2 381.5 1283.6 382.3 1284.8 383.1 1284.2 383.9 1281.7 384.7 1286.9 385.5 1285.5 386.3 1285.9 387.1 1281.8 387.9 1284.4 388.7 1285.9 389.5 1286.3 390.3 1286.3 391.1 1288.5 391.9 1287.6 392.7 1284 393.5 1286.2 394.3 1285.9 395.1 1284.1 395.9 1285 396.7 1282.4 397.5 1283.6 398.3 1278.5 399.1 1277.7 399.9 1273.7 400.3 1273.6 400.7 1271.8 401.5 1270.6 402.3 1279.5 403.1 1282.7 403.9 1281.8 404.7 1284.1 405.5 1280.8 406.3 1280.5 407.1 1278.8 407.9 1275.5 408.7 1276.3 409.1 1273.6 409.5 1274 410.3 1278.3 411.1 1278.7 411.9 1280.8 412.7 1284.6 413.5 1284.4 414.3 1285.9 415.1 1285 415.9 1286.6 416.7 1279.4 417.5 1285.9 418.3 1284.1 419.1 1280.5 419.9 1285.3 420.7 1284.7 421.5 1285.4 422.3 1286.6 423.1 1283.3 423.9 1286.2 424.7 1286 425.5 1284.4 426.3 1284.9 427.1 1287.7 427.9 1287.5 428.7 1285 429.5 1281.1 430.3 1286 431.1 1284.4 431.9 1285.8 432.7 1287.8 433.5 1286.7 434.3 1284.8 435.1 1282 435.9 1283.8 436.7 1284.6 437.5 1281.1 438.3 1285.7 439.1 1281.4 439.9 1285.1 440.7 1282.6 441.5 1286.9 442.3 1284.2 443.1 1285.4 443.9 1286.4 444.7 1284.4 445.5 1286.3 446.3 1285.2 447.1 1284.2 447.9 1283.4 448.7 1286.8 449.5 1286.4 450.3 1286.4 451.1 1283.5 451.9 1287.3 452.7 1284.1 453.5 1285.6 454.3 1286.4 455.1 1284.6 455.9 1284.5 456.7 1285.1 457.5 1285.8 458.3 1285 459.1 1287.4 459.9 1283.9 460.7 1285.9 461.5 1285.8 462.3 1284.7 463.1 1284.8 463.9 1286.4 464.7 1279 465.5 1285 466.3 1286.4 467.1 1285.4 467.9 1286.1 468.7 1285.2 469.5 1287.5 470.3 1284.5 471.1 1289.3 471.9 1285.9 472.7 1287.5 473.5 1286.6 474.3 1285.8 475.1 1284.7 475.9 1287.3 476.7 1284.3 477.5 1286.5 478.3 1283 479.1 1284.5 479.9 1283.7 480.7 1285.3 481.5 1285.9 482.3 1283.1 483.1 1284.4 483.9 1284.6 484.7 1285.8 485.5 1285.2 486.3 1284.1 487.1 1286.2 487.9 1282.1 488.7 1284.5 489.5 1287.3 490.3 1284 491.1 1283.5 491.9 1287.3 492.7 1285.4 493.5 1281.3 494.3 1284.4 495.1 1284.4 495.9 1289.3 496.7 1286.7 497.5 1284.9 498.3 1285.9 499.1 1286.7 499.9 1285.3 500.7 1286 501.5 1286.5 502.3 1284.6 503.1 1285.9 503.9 1282.4 504.7 1287.5 505.5 1286.7 506.3 1286.5 507.1 1287.8 507.9 1287.1 508.7 1285.5 509.5 1285.3 510.3 1285 511.1 1285 511.9 1282.2 512.7 1283.9 513.5 1286 514.3 1285.8 515.1 1283.4 515.9 1284.4 516.7 1284.1 517.5 1280.4 518.3 1284.8 519.1 1287.2 519.9 1285.5 520.7 1285.6 521.5 1282.2 522.3 1286.7 523.1 1284.7 523.9 1284.4 524.7 1286.5 525.5 1285.6 526.3 1282 527.1 1287.3 527.9 1287.3 528.7 1285.9 529.5 1286.7 530.3 1285.9 531.1 1284.4 531.9 1285.7 532.7 1285.4 533.5 1284.4 534.3 1287.1 535.1 1285.4 535.9 1287.8 536.7 1283.6 537.5 1286.2 538.3 1284.8 539.1 1283.9 539.9 1285.8 540.7 1285.1 541.5 1286 542.3 1287.4 543.1 1284.1 543.9 1284.5 544.7 1284.1 545.5 1287.5 546.3 1285.3 547.1 1285.6 547.9 1284.2 548.7 1286.1 549.5 1281.5 550.3 1286.4 551.1 1285.2 551.9 1283.5 552.7 1285.4 553.5 1285.9 554.3 1280.2 555.1 1284 555.9 1286.8 556.7 1285 557.5 1281.1 558.3 1285.6 559.1 1287.7 559.9 1285.5 560.7 1283.1 561.5 1284.3 562.3 1283.2 563.1 1282 563.9 1285.5 564.7 1283.7 565.5 1284 566.3 1281.5 567.1 1284.7 567.9 1284.7 568.7 1285.2 569.5 1279.1 570.3 1281.6 571.1 1281.8 571.9 1274.9 572.7 1247.5 573.5 1148.4 574.3 1063.8 575.1 1153.7 575.9 1251.5 576.7 1277.5 577.5 1283.7 578.3 1280.1 579.1 1284.8 579.9 1283.9 580.7 1285.4 581.5 1283.2 582.3 1284.8 583.1 1285.7 583.9 1285.1 584.7 1286.5 585.5 1286.7 586.3 1283.2 587.1 1287.5 587.9 1284.2 588.7 1282.7 589.5 1286.4 590.3 1282.5 591.1 1286 591.9 1286.1 592.7 1286.4 593.5 1283.3 594.3 1284.1 595.1 1286.1 595.9 1285.8 596.7 1285.4 597.5 1286 598.3 1283.9 599.1 1284.1 599.9 1285.5 600.7 1285.1 601.5 1286.4 602.3 1288.2 603.1 1284.3 603.9 1283 604.7 1285.5 605.5 1286.2 606.3 1282.4 607.1 1285.7 607.9 1284.6 608.7 1285 609.5 1281.8 610.3 1285.4 611.1 1285.5 611.9 1286.1 612.7 1283.8 613.5 1285.8 614.3 1286.8 615.1 1284.9 615.9 1284.3 616.7 1284.3 617.5 1285.8 618.3 1281.7 619.1 1278.9 619.9 1271.7 620.9 1269.7 621.5 1271 622.3 1275.5 623.1 1275.8 623.9 1281.6 624.7 1285 625.5 1283.3 626.3 1284.7 627.1 1282.2 627.9 1286.1 628.7 1285.8 629.5 1286.2 630.3 1285.6 631.1 1283.6 631.9 1286.7 632.7 1283.5 633.5 1285.8 634.3 1285 635.1 1284.6 635.9 1286.7 636.7 1285.9 637.5 1286.8 638.3 1283 639.1 1283.7 639.9 1286.8 640.7 1284.9 641.5 1287.2 642.3 1283.1 643.1 1285.3 643.9 1282.9 644.7 1278.2 645.5 1275.8 646.1 1271.7 647.1 1274.1 647.9 1277 648.7 1280.7 649.5 1284.9 650.3 1284.6 651.1 1283.7 651.9 1285.4 652.7 1285.7 653.5 1285.5 654.3 1287.4 655.1 1282.6 655.9 1284.9 656.7 1287.5 657.5 1285.4 658.3 1283.1 659.1 1288.3 659.9 1284.9 660.7 1286.2 661.5 1285.6 662.3 1282.5 663.1 1283.7 663.9 1285 664.7 1285.6 665.5 1284.7 666.3 1283.4 667.1 1285.3 667.9 1286 668.7 1280.6 669.5 1285.8 670.3 1284.8 671.1 1284.7 671.9 1280.1 672.7 1283.9 673.5 1286.7 674.3 1282.6 675.1 1281.9 675.9 1279.8 676.7 1280.9 677.5 1278 678.3 1275.3 678.9 1276.7 679.9 1279.2 680.7 1277.6 681.5 1281.1 682.3 1282 683.1 1282.8 683.9 1278.9 684.7 1282.8 685.5 1285.5 686.3 1285.2 687.1 1283.1 687.9 1286 688.7 1285.3 689.5 1285.7 690.3 1283.3 691.1 1285.1 691.9 1286.6 692.7 1286.7 693.5 1284 694.3 1282.2 695.1 1286.2 695.9 1287.1 696.7 1282 697.5 1280.3 698.3 1285.6 699.1 1281.8 699.9 1278.2 700.7 1277 701.6 1275.7 702.3 1276.9 703.1 1277.9 703.9 1279.8 704.7 1283 705.5 1280.2 706.3 1285.1 707.1 1283.9 707.9 1284.8 708.7 1284.7 709.5 1286.9 710.3 1285.2 711.1 1285.9 711.9 1284 712.7 1286.6 713.5 1286.7 714.3 1281.8 715.1 1287.3 715.9 1286.4 716.7 1285.8 717.5 1286.8 718.3 1286.6 719.1 1284.8 719.9 1285.8 720.7 1284.8 721.5 1284 722.3 1283.3 723.1 1285.9 723.9 1285.6 724.7 1283.2 725.5 1284.1 726.3 1284.9 727.1 1285.6 727.9 1285.2 728.7 1284.6 729.5 1286.2 730.3 1286.9 731.1 1284.4 731.9 1285 732.7 1284.8 733.5 1286.1 734.3 1285.8 735.1 1285.8 735.9 1287 736.7 1285.4 737.5 1284 738.3 1287.2 739.1 1285.9 739.9 1284.9 740.7 1280.7 741.5 1286.7 742.3 1286.6 743.1 1285.5 743.9 1283.2 744.7 1282.9 745.5 1286.9 746.3 1284.4 747.1 1283.9 747.9 1285 748.7 1285.3 749.5 1286.1 750.3 1283.1 751.1 1283.9 751.9 1281.9 752.7 1286.6 753.5 1286.5 754.3 1286.4 755.1 1284.8 755.9 1285.9 756.7 1286.8 757.5 1285.2 758.3 1284.6 759.1 1285.9 759.9 1287.4 760.7 1284.8 761.5 1286.3 762.3 1287.6 763.1 1283.8 763.9 1285.9 764.7 1282.4 765.5 1285.7 766.3 1284.7 767.1 1285.6 767.9 1282.5 768.7 1286.8 769.5 1287.1 770.3 1285.5 771.1 1286.9 771.9 1285.5 772.7 1286.7 773.5 1284.1 774.3 1287.3 775.1 1284.1 775.9 1286.4 776.7 1285 777.5 1284.4 778.3 1281.4 779.1 1289 779.9 1287.3 780.7 1281.8 781.5 1286.8 782.3 1285.8 783.1 1286.4 783.9 1286.4 784.7 1284.7 785.5 1287.6 786.3 1287.6 787.1 1285.4 787.9 1286.6 788.7 1285.5 789.5 1286.3 790.3 1285.1 791.1 1286.5 791.9 1285.1 792.7 1284.8 793.5 1285.6 794.3 1284.5 795.1 1275.2 795.9 1257.2 796.7 1232.9 797.1 1227.7 797.5 1230.4 798.3 1257.1 799.1 1278.1 799.9 1283.5 800.7 1283.7 801.5 1285.5 802.3 1285 803.1 1283 803.9 1282.9 804.7 1284.7 805.5 1282.1 806.3 1279.2 807.1 1279.6 807.9 1282.1 808.7 1283.5 809.5 1284.5 810.3 1286.7 811.1 1286.2 811.9 1282.8 812.7 1285.4 813.5 1283.7 814.3 1283.6 815.1 1286.7 815.9 1281.1 816.7 1284.2 817.5 1284.9 818.3 1288 819.1 1286.1 819.9 1286.6 820.7 1284.5 821.5 1285.4 822.3 1285.4 823.1 1285.4 823.9 1281.3 824.7 1285.8 825.5 1284.5 826.3 1286.9 827.1 1283.9 827.9 1286.5 828.7 1286.6 829.5 1286.6 830.3 1285.5 831.1 1286.8 831.9 1284.7 832.7 1286.5 833.5 1285.1 834.3 1285.3 835.1 1286.1 835.9 1284.2 836.7 1286.3 837.5 1286.3 838.3 1286.6 839.1 1285.6 839.9 1284.4 840.7 1285 841.5 1286.2 842.3 1285 843.1 1284.4 843.9 1284.3 844.7 1282 845.5 1285.8 846.3 1282.2 847.1 1277.5 847.9 1265.8 848.8 1265.9 849.5 1266.7 850.3 1271.1 851.1 1279.2 851.9 1279.8 852.7 1280.7 853.5 1279.3 854.3 1276.5 855.1 1275.7 855.9 1276.5 856.7 1275 857.5 1268.9 858.3 1272.1 859.1 1270.6 860 1270.3 860.7 1271.7 861.5 1268.7 862.3 1268.5 863.1 1265 863.9 1263.4 864.7 1256.5 865.5 1250.7 866.3 1242.5 867.1 1234.9 867.9 1229.9 868.4 1230 869.5 1231.5 870.3 1242.5 871.1 1255 871.9 1262.1 872.7 1269.8 873.5 1278 874.3 1282.1 875.1 1282.3 875.9 1278.6 876.7 1283.7 877.5 1285.9 878.3 1282.3 879.1 1283.9 879.9 1284.2 880.7 1287.3 881.5 1279.8 882.3 1283.5 883.1 1284.3 883.9 1284.6 884.7 1286.1 885.5 1283.1 886.3 1286.1 887.1 1282.2 887.9 1286.8 888.7 1282.3 889.5 1281.3 890.3 1288.3 891.1 1283.8 891.9 1285 892.7 1284.5 893.5 1281.6 894.3 1286.1 895.1 1286.6 895.9 1287 896.7 1285.3 897.5 1286 898.3 1285 899.1 1285.2 899.9 1284.8 900.7 1285.8 901.5 1284.7 902.3 1285.8 903.1 1287.7 903.9 1286.4 904.7 1285.6 905.5 1285.2 906.3 1283.3 907.1 1281.3 907.9 1276.9 908.7 1274.1 909.3 1270.6 910.3 1275.8 911.1 1276.9 911.9 1282.7 912.7 1284.4 913.5 1283.7 914.3 1282.4 915.1 1287.4 915.9 1285.1 916.7 1286.6 917.5 1285.7 918.3 1285.9 919.1 1286 919.9 1282.5 920.7 1284.3 921.5 1284.6 922.3 1284.5 923.1 1284.7 923.9 1286.4 924.7 1286.4 925.5 1287.4 926.3 1285.2 927.1 1283.8 927.9 1283.6 928.7 1281.7 929.5 1285.1 930.3 1283.6 931.1 1283.4 931.9 1283.8 932.7 1281.3 933.5 1283.4 934.3 1280.7 935.1 1276.2 935.9 1278.2 937 1277.6 937.5 1276.2 938.3 1279.5 939.1 1276.6 939.9 1281.9 940.7 1280.8 941.5 1282.6 942.3 1282.8 943.1 1285 943.9 1280.1 944.7 1285.5 945.5 1280.6 946.3 1283.9 947.1 1280.7 947.9 1280.1 948.7 1278.4 949.5 1278.7 950.3 1280.3 951 1277.6 951.9 1278.8 952.7 1277.8 953.5 1280.6 954.3 1281.4 955.1 1283.6 955.9 1283.3 956.7 1285.3 957.5 1285.4 958.3 1285.2 959.1 1284.1 959.9 1285 960.7 1285.1 961.5 1284.5 962.3 1285 963.1 1282.6 963.9 1286.6 964.7 1284.6 965.5 1283.1 966.3 1286.2 967.1 1285.6 967.9 1286.4 968.7 1285.4 969.5 1286 970.3 1286.5 971.1 1286.2 971.9 1285.9 972.7 1286.7 973.5 1285.5 974.3 1285.5 975.1 1285.2 975.9 1284.1 976.7 1283.8 977.5 1285.8 978.3 1285.6 979.1 1286.3 979.9 1285.7 980.7 1286.3 981.5 1285.4 982.3 1284.4 983.1 1284.5 983.9 1284.9 984.7 1285.9 985.5 1283.9 986.3 1283.6 987.1 1278 987.9 1268.9 988.7 1242.6 989.5 1225.7 990.3 1243.1 991.1 1270.1 991.9 1281.8 992.7 1284.4 993.5 1285.9 994.3 1285.8 995.1 1284 995.9 1285.2 996.7 1285.9 997.5 1285.8 998.3 1286.3 999.1 1285.8 999.9 1287.1 1000.7 1284 1001.5 1284.9 1002.3 1284.8 1003.1 1285.6 1003.9 1287.6 1004.7 1285.2 1005.5 1285.6 1006.3 1285.7 1007.1 1283.9 1007.9 1285.1 1008.7 1285.8 1009.5 1284.8 1010.3 1285 1011.1 1280.6 1011.9 1285.2 1012.7 1285.3 1013.5 1285 1014.3 1285.6 1015.1 1285.8 1015.9 1284.8 1016.7 1283.3 1017.5 1286.8 1018.3 1286.6 1019.1 1282.3 1019.9 1285.9 1020.7 1286.2 1021.5 1285.8 1022.3 1284.6 1023.1 1286.4 1023.9 1285.2 1024.7 1284.9 1025.5 1285.8 1026.3 1285.1 1027.1 1286.4 1027.9 1286.5 1028.7 1285.9 1029.5 1284.6 1030.3 1286.1 1031.1 1284.4 1031.9 1286.4 1032.7 1286.1 1033.5 1286.1 1034.3 1286.2 1035.1 1286.4 1035.9 1287 1036.7 1283.1 1037.5 1285 1038.3 1287 1039.1 1284.6 1039.9 1286.5 1040.7 1283.8 1041.5 1285.2 1042.3 1285.1 1043.1 1285.4 1043.9 1286.4 1044.7 1286.3 1045.5 1282.6 1046.3 1285.4 1047.1 1284.5 1047.9 1285.4 1048.7 1284.5 1049.5 1284.6 1050.3 1283.8 1051.1 1281.5 1051.9 1278.9 1052.7 1280.4 1053.5 1279.3 1054.3 1281.6 1055.1 1279.7 1055.9 1285.8 1056.7 1285.9 1057.5 1286.3 1058.3 1286.4 1059.1 1285.8 1059.9 1285.1 1060.7 1284.4 1061.5 1284.7 1062.3 1283.1 1063.1 1286.2 1063.9 1283.7 1064.7 1285.1 1065.5 1284.6 1066.3 1283.8 1067.1 1284.1 1067.9 1285.1 1068.7 1284.4 1069.5 1286.1 1070.3 1286.7 1071.1 1287.2 1071.9 1285.4 1072.7 1286.7 1073.5 1281.2 1074.3 1285.7 1075.1 1284.7 1075.9 1284.5 1076.7 1287.2 1077.5 1284.5 1078.3 1285 1079.1 1285.2 1079.9 1287 1080.7 1285.8 1081.5 1285.4 1082.3 1286.5 1083.1 1286.6 1083.9 1286.1 1084.7 1285.4 1085.5 1283.6 1086.3 1287.4 1087.1 1286.8 1087.9 1285.7 1088.7 1285.8 1089.5 1283.3 1090.3 1285.4 1091.1 1286.4 1091.9 1286.6 1092.7 1285.2 1093.5 1283.8 1094.3 1284.1 1095.1 1285.8 1095.9 1286.9 1096.7 1286.1 1097.5 1284.1 1098.3 1285.7 1099.1 1286.6 1099.9 1282.3 1100.7 1286.6 1101.5 1285.4 1102.3 1286.6 1103.1 1286 1103.9 1284.8 1104.7 1287 1105.5 1286.1 1106.3 1287.3 1107.1 1284.9 1107.9 1287 1108.7 1286.3 1109.5 1283 1110.3 1285.1 1111.1 1285.5 1111.9 1285.5 1112.7 1283.9 1113.5 1285.2 1114.3 1285 1115.1 1286.4 1115.9 1285.5 1116.7 1286.6 1117.5 1285.5 1118.3 1286.4 1119.1 1285.9 1119.9 1285.2 1120.7 1282.6 1121.5 1283.9 1122.3 1282.3 1123.1 1279.5 1123.9 1280.1 1124.7 1274.1 1125.5 1278.6 1126.1 1277.8 1127.1 1276.5 1127.9 1279.9 1128.7 1281.8 1129.5 1280.9 1130.3 1283.4 1131.1 1284.1 1131.9 1284.4 1132.7 1283.6 1133.5 1287.2 1134.3 1286 1135.1 1285.7 1135.9 1286.8 1136.7 1285.5 1137.5 1287 1138.3 1284.8 1139.1 1286.2 1139.9 1286 1140.7 1285.2 1141.5 1285.3 1142.3 1282.4 1143.1 1286.9 1143.9 1284.9 1144.7 1285.7 1145.5 1285.6 1146.3 1286.3 1147.1 1283.7 1147.9 1285.1 1148.7 1285 1149.5 1284.9 1150.3 1286 1151.1 1286.4 1151.9 1286.7 1152.7 1285.5 1153.5 1284.5 1154.3 1285.7 1155.1 1286.3 1155.9 1286.7 1156.7 1285.4 1157.5 1286.1 1158.3 1286.6 1159.1 1285.8 1159.9 1285.2 1160.7 1284.7 1161.5 1284.3 1162.3 1285.1 1163.1 1281.3 1163.9 1286.3 1164.7 1287.4 1165.5 1285.2 1166.3 1285.4 1167.1 1284.4 1167.9 1286.8 1168.7 1287.3 1169.5 1285 1170.3 1284.7 1171.1 1285.6 1171.9 1285.8 1172.7 1284.5 1173.5 1282.5 1174.3 1286.5 1175.1 1284.7 1175.9 1284.9 1176.7 1285.7 1177.5 1284.3 1178.3 1286.3 1179.1 1286.1 1179.9 1286.2 1180.7 1283.1 1181.5 1286.2 1182.3 1285.5 1183.1 1287.1 1183.9 1287.1 1184.7 1284.4 1185.5 1284.6 1186.3 1285.2 1187.1 1286.8 1187.9 1287.2 1188.7 1285.6 1189.5 1287.9 1190.3 1283.8 1191.1 1287.3 1191.9 1283.2 1192.7 1285.1 1193.5 1284.1 1194.3 1287.3 1195.1 1286 1195.9 1285.3 1196.7 1285.6 1197.5 1287.4 1198.3 1284.5 1199.1 1286.3 1199.9 1285.1 1200.7 1286.1 1201.5 1284.4 1202.3 1285.2 1203.1 1286.1 1203.9 1286.2 1204.7 1284.4 1205.5 1286.4 1206.3 1283.5 1207.1 1283.3 1207.9 1287.4 1208.7 1285.4 1209.5 1283 1210.3 1284.6 1211.1 1285.4 1211.9 1285.1 1212.7 1286.2 1213.5 1286 1214.3 1284.3 1215.1 1287 1215.9 1284.8 1216.7 1286.7 1217.5 1285.4 1218.3 1285.3 1219.1 1286.3 1219.9 1285 1220.7 1286.1 1221.5 1283.6 1222.3 1286.4 1223.1 1286.6 1223.9 1285.5 1224.7 1284.4 1225.5 1286.4 1226.3 1285.4 1227.1 1284.7 1227.9 1283.9 1228.7 1286.4 1229.5 1282.3 1230.3 1285.6 1231.1 1286.4 1231.9 1285.9 1232.7 1285 1233.5 1287.7 1234.3 1286.7 1235.1 1286 1235.9 1285.6 1236.7 1284.8 1237.5 1285.8 1238.3 1285.7 1239.1 1284.9 1239.9 1285.2 1240.7 1286.3 1241.5 1284.7 1242.3 1286.5 1243.1 1286.1 1243.9 1286.3 1244.7 1287 1245.5 1283.6 1246.3 1285.3 1247.1 1285.9 1247.9 1285.1 1248.7 1284.7 1249.5 1285.9 1250.3 1287.3 1251.1 1286.2 1251.9 1286.1 1252.7 1283.5 1253.5 1284.9 1254.3 1282.6 1255.1 1286.9 1255.9 1285.4 1256.7 1286 1257.5 1286.2 1258.3 1285.8 1259.1 1283.1 1259.9 1285.3 1260.7 1283.2 1261.5 1287 1262.3 1285.2 1263.1 1285.9 1263.9 1283.6 1264.7 1285.3 1265.5 1287 1266.3 1285.2 1267.1 1286.2 1267.9 1286 1268.7 1286 1269.5 1285.1 1270.3 1285.8 1271.1 1285.9 1271.9 1287.1 1272.7 1286.4 1273.5 1286.5 1274.3 1286.9 1275.1 1286.4 1275.9 1286.4 1276.7 1286.8 1277.5 1288.1 1278.3 1285.7 1279.1 1286 1279.9 1285.3 1280.7 1286.4 1281.5 1285.5 1282.3 1284.8 1283.1 1285 1283.9 1285.8 1284.7 1285.5 1285.5 1286.7 1286.3 1283.9 1287.1 1287.7 1287.9 1285.9 1288.7 1285.8 1289.5 1285.3 1290.3 1286 1291.1 1285.5 1291.9 1285.6 1292.7 1286.6 1293.5 1285.2 1294.3 1285.7 1295.1 1285.2 1295.9 1285.4 1296.7 1283.8 1297.5 1285.4 1298.3 1284.7 1299.1 1285.5 1299.9 1284.6 1300.7 1285.2 1301.5 1286.5 1302.3 1283 1303.1 1286.1 1303.9 1286.4 1304.7 1285 1305.5 1284.8 1306.3 1285.1 1307.1 1287.7 1307.9 1286 1308.7 1285 1309.5 1283.8 1310.3 1285.7 1311.1 1284.9 1311.9 1286.1 1312.7 1285.8 1313.5 1284.8 1314.3 1282.4 1315.1 1285 1315.9 1285.1 1316.7 1286.4 1317.5 1286.4 1318.3 1284.9 1319.1 1285.6 1319.9 1284.2 1320.7 1283.8 1321.5 1279.9 1322.3 1276.6 1323.1 1269.5 1323.9 1260.4 1324.7 1256.8 1325.5 1260.2 1326.3 1269.3 1327.1 1278 1327.9 1281.4 1328.7 1282.8 1329.5 1284.1 1330.3 1285 1331.1 1286.9 1331.9 1285.2 1332.7 1285.5 1333.5 1282.8 1334.3 1284.1 1335.1 1286 1335.9 1284.9 1336.7 1286.1 1337.5 1286.2 1338.3 1285.3 1339.1 1286.7 1339.9 1284.4 1340.7 1285.8 1341.5 1286.3 1342.3 1286 1343.1 1284.8 1343.9 1287.7 1344.7 1286.7 1345.5 1284.9 1346.3 1285.7 1347.1 1283.6 1347.9 1284.2 1348.7 1285.3 1349.5 1285.9 1350.3 1284.3 1351.1 1286.2 1351.9 1286 1352.7 1284.7 1353.5 1285.8 1354.3 1286.2 1355.1 1286.1 1355.9 1284.9 1356.7 1283.7 1357.5 1284.6 1358.3 1282.8 1359.1 1282.6 1359.9 1280.3 1360.7 1278.4 1361.5 1276.3 1362.3 1283.8 1363.1 1282.7 1363.9 1283.3 1364.7 1285.5 1365.5 1285.4 1366.3 1285.1 1367.1 1284.8 1367.9 1285 1368.7 1286.3 1369.5 1284.6 1370.3 1285.9 1371.1 1285.4 1371.9 1285.5 1372.7 1286 1373.5 1286.3 1374.3 1284.8 1375.1 1286.5 1375.9 1284.6 1376.7 1285.9 1377.5 1285.7 1378.3 1285 1379.1 1284.6 1379.9 1286.6 1380.7 1285.2 1381.5 1284.9 1382.3 1284.4 1383.1 1284.5 1383.9 1282.5 1384.7 1281.4 1385.5 1282 1386.3 1279.4 1387.1 1277.6 1387.9 1275.1 1388.5 1276.7 1389.5 1273.4 1390.3 1277.4 1391.1 1276.8 1391.9 1281.4 1392.7 1284.5 1393.5 1282.7 1394.3 1284.3 1395.1 1285.3 1395.9 1284.6 1396.7 1283.9 1397.5 1283.8 1398.3 1284.4 1399.1 1283.2 1399.9 1282.3 1400.7 1280.2 1401.5 1279.7 1402.3 1277 1403.1 1276.8 1403.8 1276.7 1404.7 1277.6 1405.5 1276.3 1406.3 1275.9 1407.1 1281.3 1407.9 1282.2 1408.7 1283.3 1409.5 1283.6 1410.3 1284 1411.1 1284.9 1411.9 1285.4 1412.7 1284.5 1413.5 1285 1414.3 1284.6 1415.1 1282.7 1415.9 1285.7 1416.7 1283.2 1417.5 1285 1418.3 1285.1 1419.1 1283.7 1419.9 1279.3 1420.7 1268.7 1421.8 1264.7 1422.3 1265.6 1423.1 1274.1 1423.9 1279.4 1424.7 1283 1425.5 1285.1 1426.3 1285.5 1427.1 1281.7 1427.9 1286 1428.7 1284.6 1429.5 1286.3 1430.3 1284.3 1431.1 1285.4 1431.9 1285.8 1432.7 1283.9 1433.5 1285.3 1434.3 1286.7 1435.1 1283.1 1435.9 1285.7 1436.7 1287.1 1437.5 1285.1 1438.3 1282.4 1439.1 1284.9 1439.9 1285.1 1440.7 1284.7 1441.5 1286.1 1442.3 1285.3 1443.1 1286.4 1443.9 1286.4 1444.7 1286.2 1445.5 1286 1446.3 1284 1447.1 1286.7 1447.9 1284.8 1448.7 1282.5 1449.5 1284.3 1450.3 1285.3 1451.1 1285.7 1451.9 1286.1 1452.7 1284.4 1453.5 1286.1 1454.3 1286.5 1455.1 1285.9 1455.9 1286.3 1456.7 1286.2 1457.5 1285.3 1458.3 1285.3 1459.1 1285.4 1459.9 1285.7 1460.7 1285.8 1461.5 1285.7 1462.3 1285.4 1463.1 1285 1463.9 1285.9 1464.7 1284.2 1465.5 1285 1466.3 1284.6 1467.1 1284.5 1467.9 1285.4 1468.7 1284.9 1469.5 1284.8 1470.3 1285.9 1471.1 1285.9 1471.9 1286.8 1472.7 1287.2 1473.5 1285.4 1474.3 1285.1 1475.1 1284 1475.9 1286.3 1476.7 1285.5 1477.5 1285 1478.3 1287 1479.1 1285.3 1479.9 1283.3 1480.7 1285.5 1481.5 1285.4 1482.3 1284.3 1483.1 1285.1 1483.9 1285 1484.7 1285.2 1485.5 1285.2 1486.3 1283.2 1487.1 1285.2 1487.9 1286.6 1488.7 1283.2 1489.5 1285.6 1490.3 1285.8 1491.1 1285.4 1491.9 1286.4 1492.7 1287 1493.5 1286.5 1494.3 1282 1495.1 1285.2 1495.9 1285.1 1496.7 1286.5 1497.5 1284.8 1498.3 1284.9 1499.1 1286.2 1499.9 1287 1500.7 1287.2 1501.5 1285.6 1502.3 1286.1 1503.1 1287.1 1503.9 1286.4 1504.7 1283 1505.5 1284.7 1506.3 1286.5 1507.1 1284.9 1507.9 1283.8 1508.7 1284.1 1509.5 1284.4 1510.3 1282.2 1511.1 1276.7 1512 1277.8 1512.7 1279.1 1513.5 1280.6 1514.3 1283.1 1515.1 1285 1515.9 1285.2 1516.7 1286.1 1517.5 1285.3 1518.3 1284.9 1519.1 1284.9 1519.9 1284.1 1520.7 1284.2 1521.5 1285.8 1522.3 1284.4 1523.1 1286.5 1523.9 1286.9 1524.7 1285.8 1525.5 1285 1526.3 1284.2 1527.1 1285.4 1527.9 1286.2 1528.7 1285.1 1529.5 1285.8 1530.3 1285.1 1531.1 1286 1531.9 1284.7 1532.7 1286.2 1533.5 1285.5 1534.3 1284.4 1535.1 1282.5 1535.9 1281 1536.7 1279.6 1537.5 1280.7 1538.3 1283 1539.1 1281.9 1539.9 1282.5 1540.7 1284.1 1541.5 1284.9 1542.3 1282.8 1543.1 1286.8 1543.9 1284.4 1544.7 1286.1 1545.5 1285.4 1546.3 1285.9 1547.1 1284 1547.9 1285.3 1548.7 1285.6 1549.5 1285.1 1550.3 1285.8 1551.1 1286.4 1551.9 1286.6 1552.7 1284.9 1553.5 1284.6 1554.3 1285.1 1555.1 1285.9 1555.9 1284.5 1556.7 1285.5 1557.5 1284.2 1558.3 1285.5 1559.1 1285.3 1559.9 1280.9 1560.7 1285.9 1561.5 1286.2 1562.3 1285.9 1563.1 1285.9 1563.9 1283.1 1564.7 1285.7 1565.5 1285.6 1566.3 1286.6 1567.1 1285.3 1567.9 1285.9 1568.7 1286.7 1569.5 1284.2 1570.3 1285.8 1571.1 1284.6 1571.9 1286 1572.7 1287.2 1573.5 1285.5 1574.3 1284.5 1575.1 1285.6 1575.9 1284.6 1576.7 1286.2 1577.5 1286.1 1578.3 1286.8 1579.1 1285.4 1579.9 1283.6 1580.7 1285.6 1581.5 1286.4 1582.3 1287.1 1583.1 1285.3 1583.9 1286.6 1584.7 1285.8 1585.5 1285.5 1586.3 1286 1587.1 1284.9 1587.9 1284.7 1588.7 1286.6 1589.5 1285.7 1590.3 1285.5 1591.1 1285.6 1591.9 1285.8 1592.7 1282.9 1593.5 1286 1594.3 1286.4 1595.1 1284.8 1595.9 1285.6 1596.7 1285.5 1597.5 1285.3 1598.3 1285.7 1599.1 1286.7 1599.9 1285.7 1600.7 1287 1601.5 1285.1 1602.3 1285.4 1603.1 1286.7 1603.9 1285.3 1604.7 1288.2 1605.5 1287.1 1606.3 1285.4 1607.1 1287.3 1607.9 1285.9 1608.7 1282.6 1609.5 1285.3 1610.3 1285.5 1611.1 1286.6 1611.9 1285.2 1612.7 1286.3 1613.5 1284.1 1614.3 1287.6 1615.1 1285.4 1615.9 1286.5 1616.7 1286 1617.5 1285.3 1618.3 1286.2 1619.1 1286.2 1619.9 1285.6 1620.7 1286.9 1621.5 1287.2 1622.3 1285.8 1623.1 1283.4 1623.9 1284.6 1624.7 1286.7 1625.5 1285.1 1626.3 1285.3 1627.1 1286 1627.9 1285.9 1628.7 1285.5 1629.5 1286 1630.3 1285.8 1631.1 1285.7 1631.9 1286.3 1632.7 1286.4 1633.5 1285.9 1634.3 1285.7 1635.1 1285.4 1635.9 1286.4 1636.7 1285.6 1637.5 1285.9 1638.3 1286.8 1639.1 1286.3 1639.9 1285.8 1640.7 1286.3 1641.5 1285.6 1642.3 1286.9 1643.1 1285.1 1643.9 1285.9 1644.7 1285.3 1645.5 1286.2 1646.3 1286.4 1647.1 1285.3 1647.9 1286.4 1648.7 1285.9 1649.5 1284.3 1650.3 1286.9 1651.1 1285.9 1651.9 1285.1 1652.7 1285.9 1653.5 1285 1654.3 1287.1 1655.1 1285.3 1655.9 1285.9 1656.7 1286 1657.5 1285.1 1658.3 1285.1 1659.1 1283.7 1659.9 1284.9" stroke="#000" stroke-width="3" fill="none" stroke-linejoin="round"/>
<path d="M1658.1 1286.1H1674.1" stroke="#000" stroke-width="2.2"/>
<path d="M327.7 1193.7 328.5 1189.2 329.3 1192.7 330.1 1193 330.9 1192.1 331.7 1193.3 332.5 1192.6 333.3 1188.8 334.1 1195.3 334.9 1193.7 335.7 1192.1 336.5 1189.6 337.3 1189 338.1 1187.9 338.9 1192.7 339.7 1191.1 340.5 1192.9 341.3 1188.5 342.1 1192.4 342.9 1192.9 343.7 1192 344.5 1192.6 345.3 1188.4 346.1 1191.9 346.9 1190.9 347.7 1192.6 348.5 1192 349.3 1193.5 350.1 1192.2 350.9 1190.9 351.7 1189.7 352.5 1192.9 353.3 1193 354.1 1193.5 354.9 1193.4 355.7 1190.7 356.5 1192.3 357.3 1193 358.1 1192.2 358.9 1194.6 359.7 1192.8 360.5 1192.4 361.3 1189.9 362.1 1191.1 362.9 1191.9 363.7 1195.1 364.5 1192.3 365.3 1192.3 366.1 1190.1 366.9 1191.4 367.7 1193.2 368.5 1190.8 369.3 1194.8 370.1 1192.4 370.9 1192.6 371.7 1190.3 372.5 1194.8 373.3 1192.8 374.1 1191.9 374.9 1191.6 375.7 1193.1 376.5 1191.8 377.3 1195.2 378.1 1195.6 378.9 1192.9 379.7 1192.2 380.5 1191.3 381.3 1192.1 382.1 1194.8 382.9 1193.2 383.7 1193.9 384.5 1190 385.3 1195.1 386.1 1195 386.9 1193.4 387.7 1192.8 388.5 1188.4 389.3 1191.6 390.1 1191.4 390.9 1191.2 391.7 1191.9 392.5 1192.8 393.3 1191.5 394.1 1194.1 394.9 1191.3 395.7 1193 396.5 1190.9 397.3 1189.8 398.1 1191.9 398.9 1193.2 399.7 1192.4 400.5 1192 401.3 1191.9 402.1 1192.2 402.9 1191.8 403.7 1193.5 404.5 1193.3 405.3 1190.9 406.1 1192.5 406.9 1192.4 407.7 1192.6 408.5 1194.2 409.3 1191.8 410.1 1193.8 410.9 1195.1 411.7 1193.6 412.5 1195 413.3 1192 414.1 1195.7 414.9 1192.5 415.7 1192 416.5 1192.9 417.3 1191.6 418.1 1192.6 418.9 1192.1 419.7 1191.6 420.5 1192.2 421.3 1194.9 422.1 1191.8 422.9 1192.8 423.7 1192.3 424.5 1186.6 425.3 1193.1 426.1 1192.3 426.9 1187.9 427.7 1189.1 428.5 1195.5 429.3 1190.8 430.1 1189 430.9 1187 431.7 1183.2 432.5 1186.9 433.3 1188.5 434.1 1190.5 434.9 1188.2 435.7 1191.6 436.5 1191.4 437.3 1193.3 438.1 1193.9 438.9 1192 439.7 1192.6 440.5 1192 441.3 1188.5 442.1 1193.3 442.9 1192.5 443.7 1191.2 444.5 1188.6 445.3 1191.1 446.1 1192.8 446.9 1190.3 447.7 1194.6 448.5 1190.4 449.3 1187.7 450.1 1186 450.9 1185 451.7 1181 452.5 1175.5 453.2 1170.6 454.1 1171 454.9 1181 455.7 1188.5 456.5 1190.4 457.3 1190.9 458.1 1193 458.9 1192.8 459.7 1192.6 460.5 1191.1 461.3 1191.6 462.1 1193 462.9 1191.8 463.7 1189.5 464.5 1189.4 465.3 1192.4 466.1 1192.6 466.9 1192.1 467.7 1191.2 468.5 1191.5 469.3 1192.5 470.1 1192.7 470.9 1191 471.7 1193.6 472.5 1192.1 473.3 1190.3 474.1 1192.1 474.9 1192.6 475.7 1191.2 476.5 1191.2 477.3 1191.5 478.1 1187.8 478.9 1194.6 479.7 1192.3 480.5 1192.1 481.3 1190.4 482.1 1192.7 482.9 1189.8 483.7 1192.7 484.5 1193.4 485.3 1188.7 486.1 1189.5 486.9 1189.8 487.7 1188.3 488.5 1184.4 489.3 1180.6 490.1 1183.2 490.9 1176.8 491.7 1178.6 492.5 1178.4 493.6 1177.7 494.1 1173.9 494.9 1179 495.7 1179.6 496.5 1178.8 497.3 1180.7 498.1 1185.1 498.9 1183.2 499.7 1188.7 500.5 1188.4 501.3 1188.4 502.1 1189.3 502.9 1190.7 503.7 1190.1 504.5 1188.5 505.3 1191.1 506.1 1192.3 506.9 1190.8 507.7 1190.8 508.5 1193.5 509.3 1191.6 510.1 1187.8 510.9 1192.1 511.7 1193.6 512.5 1188 513.3 1191.9 514.1 1193.3 514.9 1192.9 515.7 1191.9 516.5 1192.7 517.3 1193.1 518.1 1192 518.9 1192.2 519.7 1191.6 520.5 1190.4 521.3 1192.5 522.1 1191.6 522.9 1191.7 523.7 1191 524.5 1194.3 525.3 1193.8 526.1 1193.5 526.9 1192.8 527.7 1193.8 528.5 1189.5 529.3 1193.6 530.1 1189.8 530.9 1192.9 531.7 1192.8 532.5 1190.8 533.3 1191.4 534.1 1191.5 534.9 1192.2 535.7 1187.5 536.5 1191.1 537.3 1193.4 538.1 1192.5 538.9 1193.7 539.7 1190.9 540.5 1193.8 541.3 1191.4 542.1 1193.7 542.9 1191.5 543.7 1191.7 544.5 1192.2 545.3 1190.2 546.1 1193.6 546.9 1193.1 547.7 1188.6 548.5 1192 549.3 1193.4 550.1 1191 550.9 1193 551.7 1191.1 552.5 1189.8 553.3 1192.1 554.1 1192.1 554.9 1188.8 555.7 1192.3 556.5 1193.8 557.3 1191.8 558.1 1192.6 558.9 1193.4 559.7 1190.2 560.5 1193 561.3 1188.8 562.1 1192 562.9 1190 563.7 1188.3 564.5 1190.9 565.3 1189.3 566.1 1192.5 566.9 1192.4 567.7 1190.3 568.5 1193 569.3 1192.4 570.1 1191 570.9 1189.6 571.7 1191.5 572.5 1193.6 573.3 1192.8 574.1 1192.5 574.9 1192.3 575.7 1192.5 576.5 1193.4 577.3 1194.7 578.1 1194.3 578.9 1191.1 579.7 1193.5 580.5 1192.8 581.3 1191.8 582.1 1195.9 582.9 1194.2 583.7 1192.4 584.5 1195.4 585.3 1193.9 586.1 1191.6 586.9 1189.5 587.7 1192 588.5 1192 589.3 1191.5 590.1 1189.1 590.9 1193.8 591.7 1189.4 592.5 1193.2 593.3 1193.1 594.1 1191.4 594.9 1193.7 595.7 1194.4 596.5 1192.1 597.3 1192.8 598.1 1194.1 598.9 1193.6 599.7 1191.2 600.5 1193.2 601.3 1191.8 602.1 1191.6 602.9 1190 603.7 1188.2 604.5 1189.6 605.3 1188.9 606.1 1188.7 606.9 1184.9 607.7 1188.2 608.5 1192.9 609.3 1191.5 610.1 1192.1 610.9 1192.2 611.7 1192 612.5 1188.5 613.3 1193.1 614.1 1187.3 614.9 1188.1 615.7 1193.7 616.5 1190.7 617.3 1191.3 618.1 1190.4 618.9 1192.2 619.7 1192 620.5 1193.2 621.3 1192 622.1 1194.4 622.9 1193.2 623.7 1189.5 624.5 1190.4 625.3 1190.7 626.1 1191.7 626.9 1191.2 627.7 1191.5 628.5 1188.6 629.3 1192.5 630.1 1192.1 630.9 1193.5 631.7 1190 632.5 1191.9 633.3 1193.4 634.1 1192.8 634.9 1195.8 635.7 1193.4 636.5 1192.5 637.3 1189.9 638.1 1190.6 638.9 1189.8 639.7 1192 640.5 1192.4 641.3 1191.9 642.1 1190.5 642.9 1189 643.7 1190.8 644.5 1191.4 645.3 1191.8 646.1 1187.8 646.9 1190 647.7 1191.8 648.5 1193.3 649.3 1190.2 650.1 1194.2 650.9 1192.7 651.7 1193.7 652.5 1192.8 653.3 1190.6 654.1 1192.5 654.9 1191.6 655.7 1191.9 656.5 1192.5 657.3 1194.6 658.1 1190.7 658.9 1191.1 659.7 1189.9 660.5 1190.8 661.3 1185.7 662.1 1156 662.9 1095.2 663.3 1080.7 663.7 1093.2 664.5 1152.1 665.3 1182.6 666.1 1187.7 666.9 1192.3 667.7 1189.6 668.5 1189.8 669.3 1192.8 670.1 1192.6 670.9 1192.3 671.7 1191.9 672.5 1187.9 673.3 1191.9 674.1 1190.8 674.9 1193.7 675.7 1192.2 676.5 1190.9 677.3 1191.9 678.1 1189.9 678.9 1191.8 679.7 1188 680.5 1187.7 681.3 1190.6 682.1 1191.8 682.9 1193.3 683.7 1191.5 684.5 1193.2 685.3 1192.3 686.1 1190.9 686.9 1192.4 687.7 1193.5 688.5 1188.9 689.3 1192.7 690.1 1192.3 690.9 1186.9 691.7 1187 692.5 1194.1 693.3 1193 694.1 1191.2 694.9 1192.7 695.7 1190.8 696.5 1192.7 697.3 1191.6 698.1 1193.6 698.9 1192.6 699.7 1194.4 700.5 1190.9 701.3 1193.1 702.1 1192.4 702.9 1194.5 703.7 1192 704.5 1192.8 705.3 1192.6 706.1 1190.4 706.9 1192.4 707.7 1189.4 708.5 1189.7 709.3 1187.5 710.1 1186.6 710.9 1188.1 711.7 1188.8 712.5 1192.4 713.3 1191.7 714.1 1191.1 714.9 1192.3 715.7 1193.5 716.5 1191.2 717.3 1192.4 718.1 1191.6 718.9 1191.1 719.7 1192 720.5 1190.8 721.3 1192.7 722.1 1192.8 722.9 1192.6 723.7 1191 724.5 1188.5 725.3 1193 726.1 1189.2 726.9 1193.8 727.7 1193.9 728.5 1192.8 729.3 1193.2 730.1 1192.2 730.9 1191.6 731.7 1191.7 732.5 1191.4 733.3 1191.2 734.1 1192.3 734.9 1189.9 735.7 1186.3 736.5 1180.1 737.3 1176.7 738.1 1175.6 738.9 1186.8 739.7 1190 740.5 1191.2 741.3 1191.5 742.1 1193.6 742.9 1193.8 743.7 1189.8 744.5 1193 745.3 1190.6 746.1 1193.2 746.9 1192.6 747.7 1191.7 748.5 1192.2 749.3 1192.5 750.1 1190.1 750.9 1194.5 751.7 1191.6 752.5 1190.9 753.3 1192.7 754.1 1193.1 754.9 1190.1 755.7 1192 756.5 1194 757.3 1188.8 758.1 1193.1 758.9 1192.7 759.7 1194.2 760.5 1191.9 761.3 1193.3 762.1 1189.8 762.9 1189.8 763.7 1191.3 764.5 1190.2 765.3 1193.5 766.1 1192.4 766.9 1192.6 767.7 1189.3 768.5 1192.6 769.3 1188.5 770.1 1187.3 770.9 1192.1 771.7 1192.1 772.5 1194.2 773.3 1192.1 774.1 1191.4 774.9 1191.5 775.7 1191 776.5 1191.3 777.3 1191 778.1 1193.5 778.9 1189 779.7 1193.2 780.5 1188 781.3 1188.9 782.1 1190.8 782.9 1193.1 783.7 1193.4 784.5 1194.1 785.3 1193.5 786.1 1191.2 786.9 1189.6 787.7 1184.9 788.5 1188.8 789.3 1185.6 790.1 1182.2 790.8 1181.7 791.7 1181.9 792.5 1183.2 793.3 1187.5 794.1 1190 794.9 1190 795.7 1189.9 796.5 1191.4 797.3 1192 798.1 1191.3 798.9 1193.4 799.7 1189.8 800.5 1193.6 801.3 1191.9 802.1 1192.3 802.9 1194.1 803.7 1192.3 804.5 1191.5 805.3 1192.3 806.1 1193.4 806.9 1191.4 807.7 1194.4 808.5 1191.6 809.3 1193.1 810.1 1193.4 810.9 1194.2 811.7 1190.8 812.5 1187.9 813.3 1191.9 814.1 1193.8 814.9 1192.5 815.7 1192.9 816.5 1192.1 817.3 1194.4 818.1 1192.9 818.9 1191.4 819.7 1191.7 820.5 1194 821.3 1192 822.1 1190.7 822.9 1195.7 823.7 1192 824.5 1192.5 825.3 1192 826.1 1191.9 826.9 1190.6 827.7 1192.7 828.5 1193.7 829.3 1193.5 830.1 1192.5 830.9 1191.1 831.7 1194.1 832.5 1194.9 833.3 1189 834.1 1194 834.9 1192.3 835.7 1191.6 836.5 1194 837.3 1193 838.1 1191.3 838.9 1193.6 839.7 1192.8 840.5 1190 841.3 1191.1 842.1 1195 842.9 1189.6 843.7 1191.7 844.5 1193.5 845.3 1190 846.1 1192.5 846.9 1188.9 847.7 1193 848.5 1193.3 849.3 1194.4 850.1 1190.9 850.9 1191.6 851.7 1190.3 852.5 1191.2 853.3 1192.2 854.1 1191 854.9 1193.5 855.7 1192.1 856.5 1190.1 857.3 1195.5 858.1 1191.6 858.9 1193 859.7 1191.9 860.5 1192.7 861.3 1191 862.1 1190.4 862.9 1194.1 863.7 1192.6 864.5 1193.7 865.3 1192.9 866.1 1192 866.9 1187.2 867.7 1191 868.5 1188.4 869.3 1192.9 870.1 1191.9 870.9 1194 871.7 1192.9 872.5 1193.4 873.3 1192.8 874.1 1192.6 874.9 1191.4 875.7 1191.8 876.5 1189.3 877.3 1194.1 878.1 1194.7 878.9 1194.1 879.7 1192.5 880.5 1191.4 881.3 1193.8 882.1 1187.9 882.9 1187.7 883.7 1187.9 884.5 1183.1 885.3 1158.4 886.1 1124.3 886.6 1114.6 887.7 1146.7 888.5 1174.9 889.3 1187.8 890.1 1191.4 890.9 1189.7 891.7 1187.6 892.5 1191.8 893.3 1192.6 894.1 1189.3 894.9 1192.8 895.7 1192.2 896.5 1192.1 897.3 1193.6 898.1 1187.3 898.9 1192.7 899.7 1193.8 900.5 1192.7 901.3 1192.8 902.1 1190.2 902.9 1189.8 903.7 1192.7 904.5 1192.6 905.3 1192.6 906.1 1193.5 906.9 1192.2 907.7 1192.8 908.5 1192.8 909.3 1193.2 910.1 1191.8 910.9 1194.9 911.7 1192.8 912.5 1191.7 913.3 1193.2 914.1 1193 914.9 1191 915.7 1192.7 916.5 1191.3 917.3 1192.5 918.1 1193.1 918.9 1192.6 919.7 1192.5 920.5 1193.1 921.3 1191.9 922.1 1192.1 922.9 1192.4 923.7 1193.4 924.5 1191.9 925.3 1192.3 926.1 1192 926.9 1191.5 927.7 1192.8 928.5 1189.3 929.3 1192.8 930.1 1191.5 930.9 1189.6 931.7 1191.2 932.5 1192 933.3 1188.6 934.1 1191.3 934.9 1189.8 935.7 1188.3 936.5 1185.1 937.3 1180.6 938.3 1176.4 938.9 1176.4 939.7 1180.5 940.5 1183.7 941.3 1185.4 942.1 1185.3 942.9 1183.5 943.7 1184.2 944.5 1184.3 945.3 1181.3 946.1 1181.9 946.9 1181.4 947.7 1179.5 948.5 1179.4 949.3 1178.5 950 1177.9 950.9 1178.2 951.7 1181.2 952.5 1174.9 953.3 1176.4 954.1 1175.8 954.9 1168 955.7 1150.2 956.5 1126.8 957.2 1118.2 958.1 1132.3 958.9 1157.6 959.7 1173.5 960.5 1185.9 961.3 1188 962.1 1187.5 962.9 1190.2 963.7 1189.3 964.5 1190.9 965.3 1190.8 966.1 1187.7 966.9 1192.5 967.7 1192.6 968.5 1191.7 969.3 1190.5 970.1 1188.2 970.9 1190.4 971.7 1193.9 972.5 1193.4 973.3 1193.5 974.1 1191.8 974.9 1192 975.7 1192.7 976.5 1193.4 977.3 1191.1 978.1 1191.6 978.9 1193.6 979.7 1192.1 980.5 1193.4 981.3 1189.8 982.1 1194.3 982.9 1193.9 983.7 1190.7 984.5 1192.8 985.3 1190.8 986.1 1192.1 986.9 1192.8 987.7 1194.2 988.5 1188.3 989.3 1192.2 990.1 1191.8 990.9 1191.6 991.7 1192 992.5 1191.1 993.3 1191.9 994.1 1187 994.9 1192.3 995.7 1191.5 996.5 1187.4 997.3 1185.8 998.1 1177.8 998.8 1178.6 999.7 1182.4 1000.5 1185.8 1001.3 1189.4 1002.1 1191.5 1002.9 1191.5 1003.7 1192 1004.5 1193 1005.3 1189.3 1006.1 1191.5 1006.9 1194.3 1007.7 1192.6 1008.5 1192.9 1009.3 1191.5 1010.1 1194.1 1010.9 1190.5 1011.7 1193.2 1012.5 1190.8 1013.3 1189.7 1014.1 1193 1014.9 1193.4 1015.7 1192.8 1016.5 1191.3 1017.3 1190.8 1018.1 1192.6 1018.9 1190.6 1019.7 1193.6 1020.5 1189 1021.3 1189.5 1022.1 1190.1 1022.9 1191.1 1023.7 1192.7 1024.5 1191.4 1025.3 1190.4 1026.1 1195 1026.9 1191.3 1027.7 1191 1028.5 1192.3 1029.3 1194.6 1030.1 1190.1 1030.9 1189.9 1031.7 1189.8 1032.5 1190 1033.3 1190.2 1034.1 1189.4 1034.9 1189.3 1035.7 1186.4 1036.5 1187.4 1037.3 1185.4 1038.1 1182.9 1038.9 1183.6 1039.7 1183.5 1040.4 1183.6 1041.3 1182.6 1042.1 1182.8 1042.9 1186.1 1043.7 1182.2 1044.5 1184.4 1045.3 1186.2 1046.1 1188.5 1046.9 1189 1047.7 1190.1 1048.5 1190.2 1049.3 1189.4 1050.1 1189.9 1050.9 1192 1051.7 1191.2 1052.5 1192.9 1053.3 1190.9 1054.1 1189.4 1054.9 1192 1055.7 1192.5 1056.5 1191.4 1057.3 1191.9 1058.1 1187.6 1058.9 1192.5 1059.7 1191.3 1060.5 1193.5 1061.3 1191.7 1062.1 1190.1 1062.9 1191 1063.7 1192 1064.5 1193.1 1065.3 1191.5 1066.1 1191.6 1066.9 1190.2 1067.7 1192.6 1068.5 1190 1069.3 1193.2 1070.1 1192.4 1070.9 1193.7 1071.7 1191.2 1072.5 1192.5 1073.3 1191.1 1074.1 1191.9 1074.9 1194.3 1075.7 1191.8 1076.5 1190.2 1077.3 1184.2 1078.1 1173.3 1078.9 1141.5 1079.5 1134.6 1080.5 1157.6 1081.3 1177.9 1082.1 1189.6 1082.9 1190.1 1083.7 1190.7 1084.5 1192.1 1085.3 1191.8 1086.1 1188.3 1086.9 1192.3 1087.7 1191.6 1088.5 1192.6 1089.3 1192.4 1090.1 1192.6 1090.9 1192.5 1091.7 1193.5 1092.5 1190.1 1093.3 1191.8 1094.1 1193.2 1094.9 1192.9 1095.7 1193.6 1096.5 1192.2 1097.3 1192.2 1098.1 1192.6 1098.9 1192.1 1099.7 1191.9 1100.5 1192.5 1101.3 1191.8 1102.1 1193.3 1102.9 1193.4 1103.7 1194.3 1104.5 1195.5 1105.3 1191.8 1106.1 1192.1 1106.9 1190.5 1107.7 1192.6 1108.5 1193.5 1109.3 1192 1110.1 1192.9 1110.9 1193.6 1111.7 1192 1112.5 1192.5 1113.3 1192.9 1114.1 1192.9 1114.9 1192.8 1115.7 1193 1116.5 1193 1117.3 1192.3 1118.1 1189.8 1118.9 1192.1 1119.7 1192.6 1120.5 1189.3 1121.3 1192.3 1122.1 1192.5 1122.9 1192.5 1123.7 1191.6 1124.5 1193.3 1125.3 1190.7 1126.1 1189.5 1126.9 1188.4 1127.7 1187 1128.6 1184.6 1129.3 1183.3 1130.1 1186 1130.9 1190.1 1131.7 1190.8 1132.5 1194.2 1133.3 1193 1134.1 1193.2 1134.9 1191.7 1135.7 1192.4 1136.5 1193.2 1137.3 1193.4 1138.1 1191.3 1138.9 1191.2 1139.7 1190.3 1140.5 1189.9 1141.3 1185.1 1142.1 1184.2 1142.5 1182.6 1142.9 1183.3 1143.7 1183 1144.5 1189 1145.3 1189.4 1146.1 1193.5 1146.9 1192.1 1147.7 1191.6 1148.5 1192 1149.3 1194.3 1150.1 1192.8 1150.9 1193.5 1151.7 1192.7 1152.5 1192.3 1153.3 1192 1154.1 1192.9 1154.9 1193.3 1155.7 1192 1156.5 1188.9 1157.3 1190.6 1158.1 1190.5 1158.9 1192.1 1159.7 1193.8 1160.5 1190.9 1161.3 1193.3 1162.1 1193.3 1162.9 1193.2 1163.7 1191.6 1164.5 1191.8 1165.3 1191.6 1166.1 1190.4 1166.9 1192.6 1167.7 1192.7 1168.5 1191.9 1169.3 1191.6 1170.1 1191.9 1170.9 1194.2 1171.7 1194.1 1172.5 1192.1 1173.3 1192.6 1174.1 1194.1 1174.9 1192.7 1175.7 1191.6 1176.5 1193 1177.3 1192.5 1178.1 1193.2 1178.9 1191.7 1179.7 1189.3 1180.5 1192.2 1181.3 1192.8 1182.1 1194.7 1182.9 1191.9 1183.7 1189.8 1184.5 1192.1 1185.3 1192.3 1186.1 1191.9 1186.9 1191.2 1187.7 1190 1188.5 1192.7 1189.3 1190.1 1190.1 1193.3 1190.9 1191.1 1191.7 1192.9 1192.5 1193.6 1193.3 1192.3 1194.1 1190.8 1194.9 1192.3 1195.7 1193.7 1196.5 1190.4 1197.3 1193.5 1198.1 1191.2 1198.9 1193.8 1199.7 1192.5 1200.5 1191.7 1201.3 1193.1 1202.1 1191.2 1202.9 1191.1 1203.7 1192.1 1204.5 1191.4 1205.3 1192.1 1206.1 1191.8 1206.9 1193.9 1207.7 1192.7 1208.5 1192.7 1209.3 1191.9 1210.1 1191.8 1210.9 1193.2 1211.7 1191.2 1212.5 1191.6 1213.3 1190.6 1214.1 1189.6 1214.9 1185.3 1215.7 1186.7 1216.5 1184.8 1217.3 1186 1218.1 1187.5 1218.9 1189.1 1219.7 1192.2 1220.5 1192.1 1221.3 1190.4 1222.1 1190.9 1222.9 1193.2 1223.7 1192.7 1224.5 1192.7 1225.3 1192.3 1226.1 1192.1 1226.9 1190 1227.7 1191.8 1228.5 1193.8 1229.3 1192.9 1230.1 1191.9 1230.9 1193.1 1231.7 1192.5 1232.5 1191.7 1233.3 1193.5 1234.1 1194.1 1234.9 1192.6 1235.7 1193.4 1236.5 1192.7 1237.3 1192.9 1238.1 1190.4 1238.9 1188 1239.7 1191.7 1240.5 1191.9 1241.3 1192.9 1242.1 1192.6 1242.9 1191 1243.7 1193.2 1244.5 1191.2 1245.3 1192.6 1246.1 1192.1 1246.9 1193.6 1247.7 1193.3 1248.5 1194.4 1249.3 1192.3 1250.1 1190.7 1250.9 1192.5 1251.7 1192 1252.5 1193.6 1253.3 1193 1254.1 1192 1254.9 1191.3 1255.7 1192.5 1256.5 1194.1 1257.3 1191.9 1258.1 1192.8 1258.9 1193.7 1259.7 1189.3 1260.5 1194.1 1261.3 1192.1 1262.1 1192.1 1262.9 1192.3 1263.7 1189.2 1264.5 1193.3 1265.3 1192.3 1266.1 1193.8 1266.9 1193.5 1267.7 1194.2 1268.5 1193.4 1269.3 1188.6 1270.1 1192.6 1270.9 1191.9 1271.7 1193.1 1272.5 1192.3 1273.3 1191.9 1274.1 1194 1274.9 1192.8 1275.7 1193.4 1276.5 1193.3 1277.3 1192.1 1278.1 1193.7 1278.9 1193.3 1279.7 1194.4 1280.5 1191.9 1281.3 1193.4 1282.1 1191.7 1282.9 1191.2 1283.7 1189.8 1284.5 1193.1 1285.3 1192.1 1286.1 1191.7 1286.9 1191.2 1287.7 1192.2 1288.5 1191.8 1289.3 1191.2 1290.1 1192.6 1290.9 1194 1291.7 1189.1 1292.5 1192.4 1293.3 1193.1 1294.1 1192.7 1294.9 1189.9 1295.7 1190.3 1296.5 1192 1297.3 1193.2 1298.1 1193.8 1298.9 1192.8 1299.7 1194 1300.5 1191.8 1301.3 1188.9 1302.1 1194.3 1302.9 1193.6 1303.7 1192.7 1304.5 1193.3 1305.3 1192.6 1306.1 1193.9 1306.9 1191.7 1307.7 1192.6 1308.5 1191.2 1309.3 1192.8 1310.1 1191.8 1310.9 1192.5 1311.7 1194.4 1312.5 1192.9 1313.3 1192 1314.1 1193.2 1314.9 1193.3 1315.7 1192.1 1316.5 1191 1317.3 1192.3 1318.1 1193.2 1318.9 1191.8 1319.7 1192.6 1320.5 1191.4 1321.3 1192.7 1322.1 1191.8 1322.9 1192.2 1323.7 1192.2 1324.5 1191.8 1325.3 1192.4 1326.1 1191.8 1326.9 1191.5 1327.7 1189.2 1328.5 1193.3 1329.3 1193.3 1330.1 1191.9 1330.9 1192.3 1331.7 1193.5 1332.5 1192.9 1333.3 1192.3 1334.1 1192.3 1334.9 1194.4 1335.7 1191.2 1336.5 1191.7 1337.3 1193.3 1338.1 1188.8 1338.9 1191.7 1339.7 1191.4 1340.5 1192 1341.3 1192.3 1342.1 1193.2 1342.9 1193.6 1343.7 1193 1344.5 1193.3 1345.3 1190.9 1346.1 1192.9 1346.9 1191.4 1347.7 1188.2 1348.5 1192.9 1349.3 1194.4 1350.1 1194.1 1350.9 1192.3 1351.7 1192.7 1352.5 1191.1 1353.3 1193 1354.1 1188.7 1354.9 1193.3 1355.7 1192.6 1356.5 1191.9 1357.3 1192.5 1358.1 1191.9 1358.9 1190.2 1359.7 1193.4 1360.5 1192.5 1361.3 1191.8 1362.1 1192.7 1362.9 1192.9 1363.7 1188.2 1364.5 1190.8 1365.3 1194.6 1366.1 1192.3 1366.9 1189.4 1367.7 1192.1 1368.5 1192.8 1369.3 1190.7 1370.1 1192.6 1370.9 1193.4 1371.7 1193.7 1372.5 1193.9 1373.3 1191.6 1374.1 1190.1 1374.9 1192.3 1375.7 1192.8 1376.5 1191.3 1377.3 1191.6 1378.1 1192 1378.9 1191.9 1379.7 1192.5 1380.5 1192.8 1381.3 1193.3 1382.1 1192.8 1382.9 1192.8 1383.7 1191.2 1384.5 1190.4 1385.3 1190 1386.1 1188.9 1386.9 1191.6 1387.7 1191.7 1388.5 1192.7 1389.3 1193.1 1390.1 1188.6 1390.9 1190.2 1391.7 1191.8 1392.5 1190 1393.3 1195.2 1394.1 1192.3 1394.9 1191.9 1395.7 1194.2 1396.5 1192.3 1397.3 1192.7 1398.1 1190.8 1398.9 1193.1 1399.7 1192.3 1400.5 1191.8 1401.3 1191.8 1402.1 1194.2 1402.9 1190.6 1403.7 1191.4 1404.5 1194.2 1405.3 1193.3 1406.1 1193.3 1406.9 1193.6 1407.7 1192.8 1408.5 1192.5 1409.3 1193.2 1410.1 1192 1410.9 1189.4 1411.7 1189 1412.5 1185.8 1413.3 1180.8 1414.1 1175.2 1414.9 1170.7 1415.7 1175 1416.5 1181.2 1417.3 1186.5 1418.1 1186.2 1418.9 1191.2 1419.7 1190.6 1420.5 1191 1421.3 1192.4 1422.1 1193.5 1422.9 1192.2 1423.7 1193 1424.5 1192.3 1425.3 1192 1426.1 1193 1426.9 1192.4 1427.7 1193.8 1428.5 1191.3 1429.3 1193 1430.1 1193 1430.9 1192 1431.7 1192.3 1432.5 1192.7 1433.3 1192.3 1434.1 1190.5 1434.9 1192.6 1435.7 1193.2 1436.5 1191.3 1437.3 1192 1438.1 1192.5 1438.9 1193.1 1439.7 1190.8 1440.5 1189.1 1441.3 1192.2 1442.1 1191.4 1442.9 1192.7 1443.7 1192.6 1444.5 1191.5 1445.3 1193.3 1446.1 1191.9 1446.9 1192.8 1447.7 1194 1448.5 1192.4 1449.3 1192.3 1450.1 1192 1450.9 1192.4 1451.7 1190.3 1452.5 1191.2 1453.3 1192.2 1454.1 1193.4 1454.9 1193.4 1455.7 1193 1456.5 1191.5 1457.3 1192.2 1458.1 1191.8 1458.9 1193.2 1459.7 1193.8 1460.5 1189.8 1461.3 1193.2 1462.1 1193 1462.9 1193.2 1463.7 1191.6 1464.5 1192.6 1465.3 1192.5 1466.1 1192.5 1466.9 1193 1467.7 1192.7 1468.5 1190.1 1469.3 1189.8 1470.1 1192.5 1470.9 1191.4 1471.7 1191.4 1472.5 1192.2 1473.3 1192.5 1474.1 1191.2 1474.9 1192 1475.7 1193.5 1476.5 1192.1 1477.3 1193.3 1478.1 1191.3 1478.9 1193.8 1479.7 1193.3 1480.5 1193.8 1481.3 1192.9 1482.1 1193.3 1482.9 1192.1 1483.7 1192.3 1484.5 1190 1485.3 1192.1 1486.1 1192.1 1486.9 1192.9 1487.7 1192.8 1488.5 1191.3 1489.3 1191.8 1490.1 1190.8 1490.9 1189.4 1491.7 1188.3 1492.5 1183.4 1493.3 1181.3 1493.9 1180.7 1494.9 1181.7 1495.7 1184.7 1496.5 1188.3 1497.3 1190.5 1498.1 1190.9 1498.9 1192.6 1499.7 1194.1 1500.5 1191.3 1501.3 1192 1502.1 1192.4 1502.9 1192.5 1503.7 1191.3 1504.5 1189.9 1505.3 1192.4 1506.1 1192 1506.9 1192.9 1507.7 1190.8 1508.5 1190.1 1509.3 1183.2 1510.1 1178.6 1510.6 1176.6 1511.7 1182.5 1512.5 1187.1 1513.3 1189.9 1514.1 1191.1 1514.9 1191.4 1515.7 1191.7 1516.5 1192.9 1517.3 1192.1 1518.1 1193.1 1518.9 1192 1519.7 1193.8 1520.5 1191.9 1521.3 1192.7 1522.1 1190.1 1522.9 1193 1523.7 1191.9 1524.5 1194 1525.3 1192.9 1526.1 1194.1 1526.9 1192.1 1527.7 1191.6 1528.5 1192 1529.3 1193.4 1530.1 1192.2 1530.9 1192.5 1531.7 1190.6 1532.5 1192.2 1533.3 1192.4 1534.1 1191.8 1534.9 1192.8 1535.7 1193.2 1536.5 1194 1537.3 1191.7 1538.1 1192.4 1538.9 1193.5 1539.7 1192.4 1540.5 1193.1 1541.3 1191.5 1542.1 1193.1 1542.9 1193.3 1543.7 1192.5 1544.5 1192.4 1545.3 1191.6 1546.1 1192.7 1546.9 1194.8 1547.7 1193.6 1548.5 1192.8 1549.3 1193.1 1550.1 1191.9 1550.9 1193.8 1551.7 1194.7 1552.5 1193.1 1553.3 1191.7 1554.1 1193.2 1554.9 1189.7 1555.7 1193.4 1556.5 1192.6 1557.3 1193.2 1558.1 1191.8 1558.9 1192.5 1559.7 1193 1560.5 1191.7 1561.3 1192.7 1562.1 1192.8 1562.9 1192.5 1563.7 1193.4 1564.5 1193.7 1565.3 1192.9 1566.1 1192.8 1566.9 1193.1 1567.7 1193 1568.5 1193.5 1569.3 1194.4 1570.1 1193.6 1570.9 1193.7 1571.7 1193.1 1572.5 1193.2 1573.3 1194.7 1574.1 1193.4 1574.9 1194.1 1575.7 1190.3 1576.5 1192.6 1577.3 1191.3 1578.1 1192.3 1578.9 1194.2 1579.7 1192.4 1580.5 1193.2 1581.3 1193.2 1582.1 1192.3 1582.9 1193.6 1583.7 1192.9 1584.5 1191.5 1585.3 1192.3 1586.1 1193.7 1586.9 1192.4 1587.7 1192.5 1588.5 1191.8 1589.3 1192.8 1590.1 1192.3 1590.9 1192.6 1591.7 1192.8 1592.5 1194.3 1593.3 1192.7 1594.1 1192.6 1594.9 1189.8 1595.7 1193.2 1596.5 1194.4 1597.3 1191.7 1598.1 1190.5 1598.9 1193.6 1599.7 1191.4 1600.5 1191.5 1601.3 1188.4 1602.1 1186.9 1602.9 1185.8 1603.7 1185.5 1604.5 1185.7 1605.3 1188.4 1606.1 1191.2 1606.9 1190.9 1607.7 1191.9 1608.5 1190.4 1609.3 1192.6 1610.1 1193.2 1610.9 1192.7 1611.7 1193.4 1612.5 1192.2 1613.3 1192.5 1614.1 1192.9 1614.9 1192.7 1615.7 1192.3 1616.5 1192.4 1617.3 1193.5 1618.1 1188.6 1618.9 1193.4 1619.7 1192.8 1620.5 1192.8 1621.3 1190.7 1622.1 1192.7 1622.9 1192.6 1623.7 1193.3 1624.5 1192.5 1625.3 1191.7 1626.1 1192.1 1626.9 1192.6 1627.7 1192 1628.5 1192.3 1629.3 1192.6 1630.1 1191.6 1630.9 1190.2 1631.7 1192.4 1632.5 1191.8 1633.3 1189.9 1634.1 1191.8 1634.9 1194.1 1635.7 1193.3 1636.5 1191.8 1637.3 1193 1638.1 1193.2 1638.9 1192.7 1639.7 1192.7 1640.5 1193.6 1641.3 1193.3 1642.1 1193 1642.9 1192.4 1643.7 1191.9 1644.5 1193.5 1645.3 1192.8 1646.1 1191.8 1646.9 1192.6 1647.7 1191.4 1648.5 1189.6 1649.3 1192.2 1650.1 1193.3 1650.9 1192.1 1651.7 1191.2 1652.5 1192.9 1653.3 1191.6 1654.1 1192.3 1654.9 1191.5 1655.7 1193.9 1656.5 1193 1657.3 1192.2 1658.1 1193 1658.9 1192.8 1659.7 1192.2 1660.5 1192.2 1661.3 1190.8 1662.1 1191.7 1662.9 1191.5 1663.7 1192.4 1664.5 1193.4 1665.3 1191.9 1666.1 1191.8 1666.9 1193.2 1667.7 1192.3 1668.5 1193.9 1669.3 1192.9 1670.1 1192.6 1670.9 1193 1671.7 1193.3 1672.5 1192.7 1673.3 1192.1 1674.1 1193.3 1674.9 1192.9 1675.7 1189.1 1676.5 1191.7 1677.3 1192.5 1678.1 1191.9 1678.9 1192.5 1679.7 1193.6 1680.5 1191 1681.3 1192.9 1682.1 1190.4 1682.9 1191.8 1683.7 1193.1 1684.5 1191.6 1685.3 1192.5 1686.1 1192.8 1686.9 1192.1 1687.7 1193.8 1688.5 1193.6 1689.3 1192.8 1690.1 1193.3 1690.9 1192.9 1691.7 1193.6 1692.5 1193.7 1693.3 1192 1694.1 1192.4 1694.9 1192.3 1695.7 1192.2 1696.5 1193.4 1697.3 1193.1 1698.1 1193.8 1698.9 1194.1 1699.7 1191.8 1700.5 1193.4 1701.3 1192.4 1702.1 1192.6 1702.9 1193.2 1703.7 1192.9 1704.5 1192.8 1705.3 1191.9 1706.1 1193.1 1706.9 1192.6 1707.7 1192.7 1708.5 1193.9 1709.3 1192.7 1710.1 1194 1710.9 1191.7 1711.7 1193.4 1712.5 1191.8 1713.3 1194.1 1714.1 1192.4 1714.9 1193.8 1715.7 1193 1716.5 1191.6 1717.3 1191.9 1718.1 1191.6 1718.9 1192.9 1719.7 1192.7 1720.5 1192.1 1721.3 1193.4 1722.1 1191.3 1722.9 1190.4 1723.7 1192.4 1724.5 1194.1 1725.3 1192.4 1726.1 1193 1726.9 1193.6 1727.7 1193.9 1728.5 1192.1 1729.3 1192.2 1730.1 1193.3 1730.9 1192.5 1731.7 1192.9 1732.5 1191.9 1733.3 1193.3 1734.1 1193.1 1734.9 1191.8 1735.7 1194 1736.5 1192.8 1737.3 1192.3 1738.1 1192.5 1738.9 1194.3 1739.7 1191.8 1740.5 1191.8 1741.3 1191.5 1742.1 1192.7 1742.9 1192.3 1743.7 1194.3 1744.5 1193.2 1745.3 1192 1746.1 1192.9 1746.9 1191.5 1747.7 1191.4 1748.5 1193.3 1749.3 1193.5 1750.1 1192 1750.9 1190.3" stroke="#000" stroke-width="3" fill="none" stroke-linejoin="round"/>
<path d="M1749.1 1193H1765.1" stroke="#000" stroke-width="2.2"/>
<path d="M418.6 1094.8 419.4 1098.3 420.2 1098.3 421 1099.3 421.8 1096.1 422.6 1099.7 423.4 1099.6 424.2 1101.7 425 1098.6 425.8 1101.2 426.6 1095.2 427.4 1098.2 428.2 1099.4 429 1098.9 429.8 1094.3 430.6 1102.3 431.4 1098.4 432.2 1098.5 433 1098.4 433.8 1099.5 434.6 1100.8 435.4 1098.5 436.2 1097.6 437 1102.3 437.8 1099.9 438.6 1099.9 439.4 1094.8 440.2 1098 441 1099.5 441.8 1101 442.6 1101.1 443.4 1098.9 444.2 1099 445 1100.3 445.8 1099.1 446.6 1097.6 447.4 1098.5 448.2 1094.1 449 1098.9 449.8 1099.9 450.6 1099.8 451.4 1099.8 452.2 1100.5 453 1101 453.8 1097.9 454.6 1096.6 455.4 1099 456.2 1099.7 457 1099.3 457.8 1100.7 458.6 1097.5 459.4 1099.7 460.2 1099.1 461 1099.1 461.8 1096.5 462.6 1100.1 463.4 1101.1 464.2 1100.9 465 1099 465.8 1100.4 466.6 1094.1 467.4 1094.7 468.2 1099.5 469 1100.5 469.8 1099.2 470.6 1100.3 471.4 1100.5 472.2 1097.9 473 1098.4 473.8 1101.1 474.6 1098.4 475.4 1097.3 476.2 1100.4 477 1099.9 477.8 1100.7 478.6 1096.6 479.4 1102.5 480.2 1097.5 481 1100.6 481.8 1099.7 482.6 1097 483.4 1099.1 484.2 1098.4 485 1097.4 485.8 1101.5 486.6 1100.4 487.4 1099.1 488.2 1100.5 489 1101.1 489.8 1099.5 490.6 1097.7 491.4 1094.5 492.2 1102.3 493 1098.5 493.8 1098.5 494.6 1101.2 495.4 1101.3 496.2 1100.5 497 1101.3 497.8 1102.5 498.6 1099.5 499.4 1099.1 500.2 1097.9 501 1100.4 501.8 1099.5 502.6 1097.1 503.4 1101.5 504.2 1099.4 505 1100.5 505.8 1100.3 506.6 1097.3 507.4 1099.8 508.2 1099.6 509 1098.7 509.8 1098.7 510.6 1098.4 511.4 1100.1 512.2 1099.5 513 1100.2 513.8 1099.3 514.6 1094.9 515.4 1095.3 516.2 1097.2 517 1098.9 517.8 1096.7 518.6 1100.1 519.4 1098.9 520.2 1096 521 1100.3 521.8 1098.1 522.6 1089.7 523.4 1087.3 524 1085.5 525 1089.6 525.8 1093.4 526.6 1096 527.4 1099.3 528.2 1099.1 529 1102 529.8 1099.8 530.6 1098.7 531.4 1098.9 532.2 1098.9 533 1095.1 533.8 1099.1 534.6 1098.4 535.4 1097.9 536.2 1096 537 1100.2 537.8 1098.9 538.6 1098.7 539.4 1100.5 540.2 1095.4 541 1093.6 541.8 1090 542.6 1085.1 543.4 1072.5 544.3 1073.5 545 1077.3 545.8 1078.6 546.6 1085 547.4 1094.6 548.2 1098.1 549 1097.5 549.8 1098.8 550.6 1100.4 551.4 1098.6 552.2 1100.3 553 1099.8 553.8 1099.1 554.6 1100 555.4 1099.2 556.2 1099.4 557 1099.6 557.8 1100.2 558.6 1096.3 559.4 1099.1 560.2 1096.9 561 1099.9 561.8 1101 562.6 1100.9 563.4 1099.2 564.2 1098.5 565 1097.2 565.8 1097.8 566.6 1098.8 567.4 1101.4 568.2 1096.6 569 1098.9 569.8 1098.3 570.6 1098.5 571.4 1099.2 572.2 1099.9 573 1098.1 573.8 1097.8 574.6 1096.3 575.4 1097.8 576.2 1094.4 577 1093.1 577.8 1094.3 578.6 1095.6 579.4 1095.5 580.2 1093.9 581 1089.4 581.8 1088.9 582.6 1080.9 583.4 1084.3 584.2 1084.4 584.6 1084.6 585 1081.5 585.8 1086.2 586.6 1083.7 587.4 1087.8 588.2 1091.4 589 1093.2 589.8 1095.3 590.6 1096 591.4 1094.8 592.2 1092.1 593 1098 593.8 1099.1 594.6 1100 595.4 1099.3 596.2 1097 597 1096.6 597.8 1098.9 598.6 1098.2 599.4 1099.9 600.2 1101.5 601 1099.5 601.8 1095.6 602.6 1095.5 603.4 1098.5 604.2 1098.7 605 1098.6 605.8 1095.2 606.6 1096.2 607.4 1098 608.2 1097.3 609 1096.5 609.8 1097.1 610.6 1100.2 611.4 1100.4 612.2 1095.7 613 1098 613.8 1098.9 614.6 1098.4 615.4 1099.4 616.2 1100.6 617 1099.3 617.8 1100.9 618.6 1098.9 619.4 1094.1 620.2 1095.2 621 1098.9 621.8 1100.2 622.6 1098.3 623.4 1098.6 624.2 1099.3 625 1100 625.8 1101.1 626.6 1100.1 627.4 1101 628.2 1099.4 629 1098.2 629.8 1098.2 630.6 1096 631.4 1099.9 632.2 1098.1 633 1098.9 633.8 1095.8 634.6 1099.3 635.4 1098.2 636.2 1100.3 637 1100 637.8 1099.7 638.6 1099.4 639.4 1098 640.2 1099.9 641 1097.7 641.8 1097.8 642.6 1100 643.4 1099.3 644.2 1099.1 645 1098.2 645.8 1099.1 646.6 1100.5 647.4 1094.5 648.2 1096.7 649 1095.5 649.8 1099.7 650.6 1099.8 651.4 1100 652.2 1099.2 653 1099 653.8 1098.6 654.6 1096.8 655.4 1099.3 656.2 1099.2 657 1100.3 657.8 1100.2 658.6 1094.3 659.4 1100.9 660.2 1094 661 1100.8 661.8 1099.9 662.6 1097.6 663.4 1099.2 664.2 1099.9 665 1100.6 665.8 1097.7 666.6 1097.9 667.4 1097.1 668.2 1097.8 669 1101.5 669.8 1099.2 670.6 1097.8 671.4 1100.2 672.2 1101.7 673 1100 673.8 1099.2 674.6 1100.3 675.4 1097.3 676.2 1100.7 677 1101.4 677.8 1101.1 678.6 1098.3 679.4 1099.8 680.2 1097.3 681 1096.6 681.8 1098 682.6 1099.5 683.4 1101.1 684.2 1100.2 685 1099.6 685.8 1098.7 686.6 1097.1 687.4 1099.1 688.2 1096.2 689 1096.9 689.8 1100.2 690.6 1100.5 691.4 1102.4 692.2 1098.7 693 1098.1 693.8 1098.3 694.6 1099.8 695.4 1100 696.2 1101.8 697 1098.8 697.8 1100.3 698.6 1099.1 699.4 1097.4 700.2 1100.5 701 1099.4 701.8 1096.5 702.6 1101.4 703.4 1099.3 704.2 1099.3 705 1102.2 705.8 1100.1 706.6 1097.4 707.4 1098.7 708.2 1099.4 709 1100.2 709.8 1099.6 710.6 1099.9 711.4 1098.9 712.2 1100.7 713 1100.4 713.8 1100 714.6 1100.5 715.4 1099.9 716.2 1100.2 717 1099.6 717.8 1096 718.6 1098.8 719.4 1099.6 720.2 1102.3 721 1100.8 721.8 1102 722.6 1098.8 723.4 1098.9 724.2 1100.9 725 1098.3 725.8 1100.1 726.6 1099.6 727.4 1099.2 728.2 1100.2 729 1099.3 729.8 1095.9 730.6 1099.9 731.4 1100.3 732.2 1100.1 733 1099 733.8 1098.9 734.6 1100.2 735.4 1100.3 736.2 1097.3 737 1100.4 737.8 1098.2 738.6 1098.8 739.4 1099.6 740.2 1099.2 741 1098.4 741.8 1101.4 742.6 1099.2 743.4 1095 744.2 1100.8 745 1100.1 745.8 1100.2 746.6 1099.4 747.4 1099.2 748.2 1100.3 749 1095.2 749.8 1098.8 750.6 1098.9 751.4 1095.6 752.2 1093.3 753 1071.2 753.8 998 754.6 942.6 755.4 1005 756.2 1073.9 757 1095.9 757.8 1097.5 758.6 1097.3 759.4 1093.2 760.2 1098.3 761 1099.8 761.8 1098.9 762.6 1097.9 763.4 1101 764.2 1101.3 765 1094.6 765.8 1097.8 766.6 1099.9 767.4 1099.7 768.2 1100.5 769 1098.6 769.8 1102 770.6 1099 771.4 1095.8 772.2 1099.3 773 1098 773.8 1097.6 774.6 1097.9 775.4 1098.1 776.2 1098.8 777 1092.4 777.8 1092.9 778.6 1096.6 779.4 1096.6 780.2 1099.3 781 1096.8 781.8 1099.1 782.6 1094.7 783.4 1098.4 784.2 1100.4 785 1099.5 785.8 1099.1 786.6 1099.3 787.4 1098.1 788.2 1098.6 789 1097.7 789.8 1101.3 790.6 1099.5 791.4 1098.2 792.2 1099.9 793 1096.9 793.8 1099.5 794.6 1100.4 795.4 1098.1 796.2 1098.9 797 1100.3 797.8 1098.5 798.6 1096.9 799.4 1094.7 800.2 1093.7 801 1091.5 801.8 1090.5 802.6 1096.6 803.4 1097.1 804.2 1095.2 805 1100.4 805.8 1099.7 806.6 1098.6 807.4 1099.9 808.2 1099.6 809 1095.2 809.8 1098.5 810.6 1098.4 811.4 1097.5 812.2 1099.3 813 1096.7 813.8 1100.2 814.6 1100.3 815.4 1096.6 816.2 1098.7 817 1099.6 817.8 1100.5 818.6 1099 819.4 1100.3 820.2 1098.9 821 1100.6 821.8 1095.4 822.6 1100.6 823.4 1098.3 824.2 1100.2 825 1097.3 825.8 1098.3 826.6 1092.3 827.4 1083.9 828.3 1081.5 829 1083.4 829.8 1089.6 830.6 1098 831.4 1095.4 832.2 1097.9 833 1099.4 833.8 1100.3 834.6 1100.7 835.4 1099.2 836.2 1099.3 837 1098.5 837.8 1099.2 838.6 1099.4 839.4 1099.2 840.2 1098.9 841 1100.5 841.8 1099.9 842.6 1099.9 843.4 1099.5 844.2 1098.2 845 1101.8 845.8 1099.1 846.6 1098.8 847.4 1100.9 848.2 1100.4 849 1099 849.8 1099.9 850.6 1098.9 851.4 1098.4 852.2 1099.1 853 1099.2 853.8 1100.5 854.6 1098 855.4 1099.1 856.2 1098.3 857 1098 857.8 1094.5 858.6 1096.8 859.4 1093.8 860.2 1094 861 1091.5 861.8 1091.8 862.6 1092.1 863.4 1092.4 864.2 1097.2 865 1096.8 865.8 1099.9 866.6 1098.9 867.4 1096.5 868.2 1099.2 869 1098.6 869.8 1098.6 870.6 1099.7 871.4 1097.2 872.2 1100.3 873 1099.6 873.8 1099.8 874.6 1097.6 875.4 1101.2 876.2 1097.7 877 1098.5 877.8 1095.1 878.6 1096.8 879.4 1095.8 880.2 1093.5 881 1091.4 881.8 1090.3 882.7 1090.5 883.4 1092.2 884.2 1093.1 885 1095 885.8 1094.5 886.6 1095.6 887.4 1098.5 888.2 1096.7 889 1093.5 889.8 1098.7 890.6 1096 891.4 1100.9 892.2 1097.8 893 1100.4 893.8 1100.9 894.6 1099.3 895.4 1100.7 896.2 1098.3 897 1100.5 897.8 1099.8 898.6 1099.9 899.4 1098.8 900.2 1098.6 901 1098.9 901.8 1099.4 902.6 1100.1 903.4 1099 904.2 1100 905 1100 905.8 1099.9 906.6 1099 907.4 1100 908.2 1099.1 909 1096.9 909.8 1100.6 910.6 1101 911.4 1099.3 912.2 1099.5 913 1100.2 913.8 1100.4 914.6 1099.9 915.4 1095.1 916.2 1098.8 917 1098.3 917.8 1099.2 918.6 1098 919.4 1099.8 920.2 1097.9 921 1100.4 921.8 1095.4 922.6 1099.7 923.4 1098.9 924.2 1099 925 1101.7 925.8 1099.2 926.6 1100.7 927.4 1101.2 928.2 1098.8 929 1098.3 929.8 1096.7 930.6 1097.9 931.4 1099.4 932.2 1099 933 1100.1 933.8 1099.8 934.6 1099.8 935.4 1100.2 936.2 1095.4 937 1099.1 937.8 1102.3 938.6 1097.6 939.4 1100.3 940.2 1100.8 941 1099.9 941.8 1100.5 942.6 1098.7 943.4 1099.1 944.2 1097.2 945 1098.3 945.8 1099.6 946.6 1096.1 947.4 1097.6 948.2 1100.1 949 1100 949.8 1099.7 950.6 1093.5 951.4 1097.1 952.2 1101 953 1099.1 953.8 1099.7 954.6 1100.3 955.4 1100.3 956.2 1099.7 957 1099.5 957.8 1099.6 958.6 1098.5 959.4 1099.7 960.2 1097.8 961 1099.6 961.8 1100.9 962.6 1099.6 963.4 1100.4 964.2 1098.4 965 1098 965.8 1098.1 966.6 1100.2 967.4 1099.5 968.2 1097.9 969 1099.1 969.8 1096.2 970.6 1097.6 971.4 1097.9 972.2 1097.8 973 1099.3 973.8 1099.6 974.6 1094.7 975.4 1091.4 976.2 1071.7 977 1030.1 977.8 1004.5 978.6 1033.8 979.4 1072.5 980.2 1089.2 981 1095.1 981.8 1097.4 982.6 1094.9 983.4 1099.8 984.2 1100.4 985 1098.9 985.8 1099.4 986.6 1095.8 987.4 1100.4 988.2 1099.9 989 1100 989.8 1099.4 990.6 1098.4 991.4 1099.1 992.2 1099.9 993 1101.4 993.8 1097.6 994.6 1097.2 995.4 1099.8 996.2 1099 997 1101.3 997.8 1097.7 998.6 1100.2 999.4 1098.5 1000.2 1098.6 1001 1097.9 1001.8 1099.2 1002.6 1096.1 1003.4 1096.9 1004.2 1100.3 1005 1096.4 1005.8 1099.8 1006.6 1098.9 1007.4 1095.1 1008.2 1099.4 1009 1099.7 1009.8 1098.4 1010.6 1100.5 1011.4 1100 1012.2 1097.9 1013 1099.6 1013.8 1100.6 1014.6 1098.8 1015.4 1098.1 1016.2 1098.4 1017 1098 1017.8 1098.7 1018.6 1099.8 1019.4 1099.4 1020.2 1099.4 1021 1097.7 1021.8 1097.6 1022.6 1097.6 1023.4 1099.1 1024.2 1091 1025 1098 1025.8 1093.6 1026.6 1095.9 1027.4 1096.6 1028.2 1095.1 1029 1090.9 1029.8 1086.6 1030.8 1080.3 1031.4 1079.3 1032.2 1087.9 1033 1089.9 1033.8 1091.1 1034.6 1090.7 1035.4 1092.6 1036.2 1089.9 1037 1087.5 1037.8 1090.2 1038.6 1087.2 1039.4 1087.1 1040.2 1087.8 1041 1088.8 1041.8 1088.9 1042.6 1088.2 1043.4 1087.2 1044.2 1086.2 1045 1082.7 1045.8 1076.1 1046.6 1067.8 1047.4 1059.7 1048.2 1054.1 1049 1059.8 1049.8 1068.5 1050.6 1079.1 1051.4 1084.8 1052.2 1084.9 1053 1090.2 1053.8 1090.1 1054.6 1090.5 1055.4 1090.9 1056.2 1091.2 1057 1090.4 1057.8 1093 1058.6 1090.2 1059.4 1094.3 1060.2 1094.7 1061 1094.4 1061.8 1096.4 1062.6 1096.4 1063.4 1094.5 1064.2 1096.4 1065 1098.3 1065.8 1095.3 1066.6 1096.7 1067.4 1098.1 1068.2 1097.3 1069 1098.1 1069.8 1098.8 1070.6 1097.4 1071.4 1098.2 1072.2 1097.2 1073 1098.4 1073.8 1093.8 1074.6 1098 1075.4 1099.2 1076.2 1096.9 1077 1100.4 1077.8 1099.3 1078.6 1098.5 1079.4 1099.6 1080.2 1098.5 1081 1097.7 1081.8 1099 1082.6 1100 1083.4 1098.4 1084.2 1096.7 1085 1099.4 1085.8 1099.3 1086.6 1092.6 1087.4 1093.2 1088.2 1090.5 1089 1083.7 1089.8 1080.2 1090.6 1080.4 1091.4 1089.8 1092.2 1096.2 1093 1098.4 1093.8 1098 1094.6 1094 1095.4 1099.9 1096.2 1097.5 1097 1101 1097.8 1100.8 1098.6 1099.9 1099.4 1095 1100.2 1099.1 1101 1096.3 1101.8 1097.4 1102.6 1099.4 1103.4 1099.2 1104.2 1101.1 1105 1094.6 1105.8 1097.9 1106.6 1098.2 1107.4 1098.6 1108.2 1099.5 1109 1093.3 1109.8 1098.9 1110.6 1095.9 1111.4 1099.5 1112.2 1097.2 1113 1098.5 1113.8 1098.1 1114.6 1096.6 1115.4 1095.7 1116.2 1091.6 1117 1094.2 1117.8 1094.7 1118.6 1094.2 1119.4 1090.2 1120.2 1092.1 1121 1090.7 1121.8 1091 1122.6 1090.7 1123.4 1088.4 1124.2 1090.2 1125 1087.2 1125.8 1086.6 1126.6 1088.1 1127 1088.5 1127.4 1087.2 1128.2 1086.3 1129 1089.1 1129.8 1088.8 1130.6 1089.7 1131.4 1089.5 1132.2 1090.8 1133 1091.5 1133.8 1092.5 1134.6 1092.5 1135.4 1093.7 1136.2 1093.5 1137 1093.9 1137.8 1094.8 1138.6 1095.7 1139.4 1096.3 1140.2 1096.4 1141 1092.8 1141.8 1096.1 1142.6 1098 1143.4 1101 1144.2 1096.1 1145 1096.3 1145.8 1099.7 1146.6 1099 1147.4 1099 1148.2 1098.2 1149 1096.8 1149.8 1096.3 1150.6 1100.4 1151.4 1099.6 1152.2 1097.4 1153 1099 1153.8 1099 1154.6 1099.6 1155.4 1100.4 1156.2 1098.5 1157 1094.2 1157.8 1098.3 1158.6 1099.7 1159.4 1099.4 1160.2 1099.4 1161 1099.5 1161.8 1095.1 1162.6 1100.5 1163.4 1100.8 1164.2 1101 1165 1098.7 1165.8 1094.3 1166.6 1097.4 1167.4 1095.8 1168.2 1081.2 1169 1055 1170 1036.4 1170.6 1047.1 1171.4 1076.4 1172.2 1093.3 1173 1097.4 1173.8 1099.2 1174.6 1097.6 1175.4 1098.2 1176.2 1099.2 1177 1098.8 1177.8 1098.9 1178.6 1099.1 1179.4 1099 1180.2 1099 1181 1098.2 1181.8 1099 1182.6 1099.3 1183.4 1096.7 1184.2 1100.9 1185 1098.2 1185.8 1098.3 1186.6 1098 1187.4 1099.9 1188.2 1098.8 1189 1100 1189.8 1098.8 1190.6 1097.8 1191.4 1099.7 1192.2 1099.7 1193 1100.9 1193.8 1098.3 1194.6 1099.5 1195.4 1098.9 1196.2 1099.6 1197 1098.5 1197.8 1099.6 1198.6 1100 1199.4 1099.5 1200.2 1097.1 1201 1098.6 1201.8 1098.4 1202.6 1100.1 1203.4 1096.8 1204.2 1099.5 1205 1099.8 1205.8 1100.7 1206.6 1099.8 1207.4 1097.9 1208.2 1100.8 1209 1099.7 1209.8 1098.4 1210.6 1099 1211.4 1100 1212.2 1101 1213 1100.7 1213.8 1097.5 1214.6 1098.9 1215.4 1097.9 1216.2 1100 1217 1098.1 1217.8 1101.5 1218.6 1099.9 1219.4 1100 1220.2 1101.6 1221 1099.4 1221.8 1100 1222.6 1099.9 1223.4 1099.5 1224.2 1098.4 1225 1101.9 1225.8 1097 1226.6 1100.3 1227.4 1099.8 1228.2 1099.5 1229 1098.2 1229.8 1099.1 1230.6 1097.7 1231.4 1097.2 1232.2 1093.5 1233.3 1091.5 1233.8 1090.2 1234.6 1092.8 1235.4 1096 1236.2 1097.8 1237 1100 1237.8 1099.7 1238.6 1098.9 1239.4 1099.5 1240.2 1097.7 1241 1101 1241.8 1098.3 1242.6 1099.3 1243.4 1099.4 1244.2 1099.9 1245 1099.8 1245.8 1099.2 1246.6 1098.5 1247.4 1099.5 1248.2 1098.9 1249 1098.7 1249.8 1099.5 1250.6 1098 1251.4 1099.6 1252.2 1099.2 1253 1099.1 1253.8 1099.6 1254.6 1099.9 1255.4 1094.9 1256.2 1097.4 1257 1098.5 1257.8 1099.1 1258.6 1100.2 1259.4 1100.3 1260.2 1097.8 1261 1099.2 1261.8 1099 1262.6 1099.9 1263.4 1099.7 1264.2 1098 1265 1100.8 1265.8 1099.5 1266.6 1098.2 1267.4 1098.9 1268.2 1099.3 1269 1099.9 1269.8 1098.7 1270.6 1100.1 1271.4 1098.9 1272.2 1097.4 1273 1100.9 1273.8 1100 1274.6 1101.5 1275.4 1100.1 1276.2 1100 1277 1099.9 1277.8 1099 1278.6 1096.5 1279.4 1098.5 1280.2 1099.1 1281 1100.1 1281.8 1101.2 1282.6 1100.7 1283.4 1100.2 1284.2 1098.9 1285 1098.7 1285.8 1096.1 1286.6 1100.7 1287.4 1098 1288.2 1099 1289 1100.1 1289.8 1098.3 1290.6 1099.9 1291.4 1098.8 1292.2 1099.6 1293 1099.8 1293.8 1099.7 1294.6 1100 1295.4 1099.5 1296.2 1099.7 1297 1099.1 1297.8 1098.6 1298.6 1098.1 1299.4 1099 1300.2 1098 1301 1099 1301.8 1098 1302.6 1097.7 1303.4 1096.2 1304.2 1096.1 1305 1094.5 1305.8 1090.9 1306.6 1091.1 1307.4 1088.1 1308.1 1091.6 1309 1091.4 1309.8 1091 1310.6 1093.7 1311.4 1096 1312.2 1095 1313 1095.7 1313.8 1097.3 1314.6 1097.9 1315.4 1095.1 1316.2 1095.5 1317 1100.1 1317.8 1100 1318.6 1098.7 1319.4 1099.4 1320.2 1100.2 1321 1100.1 1321.8 1099.6 1322.6 1097.4 1323.4 1099 1324.2 1099.9 1325 1098.5 1325.8 1098.7 1326.6 1098.8 1327.4 1099.9 1328.2 1098.8 1329 1098.2 1329.8 1098.3 1330.6 1098 1331.4 1099 1332.2 1100.3 1333 1099.3 1333.8 1100.5 1334.6 1099.4 1335.4 1099.5 1336.2 1096 1337 1099.9 1337.8 1099.8 1338.6 1097.8 1339.4 1098.1 1340.2 1100.1 1341 1098.8 1341.8 1097.8 1342.6 1099.9 1343.4 1098.7 1344.2 1100.2 1345 1099.4 1345.8 1097.5 1346.6 1100.1 1347.4 1098.5 1348.2 1100.4 1349 1098.2 1349.8 1100.4 1350.6 1099.9 1351.4 1098.9 1352.2 1097.8 1353 1098.8 1353.8 1096 1354.6 1097.3 1355.4 1099.4 1356.2 1099 1357 1100 1357.8 1100.9 1358.6 1097.5 1359.4 1099.2 1360.2 1098.5 1361 1099.1 1361.8 1098.8 1362.6 1099.1 1363.4 1099.8 1364.2 1100.3 1365 1098.7 1365.8 1099.1 1366.6 1098.8 1367.4 1099.3 1368.2 1099.1 1369 1100.7 1369.8 1099.8 1370.6 1098.8 1371.4 1100.5 1372.2 1099.6 1373 1099.8 1373.8 1101.6 1374.6 1101.2 1375.4 1100.7 1376.2 1101.1 1377 1099.6 1377.8 1100.4 1378.6 1100.1 1379.4 1098.8 1380.2 1099.8 1381 1098.3 1381.8 1099.4 1382.6 1100.5 1383.4 1100 1384.2 1099.3 1385 1098.1 1385.8 1097.9 1386.6 1101.3 1387.4 1099.4 1388.2 1097.7 1389 1099.3 1389.8 1098.8 1390.6 1099.2 1391.4 1100.9 1392.2 1098.3 1393 1099.4 1393.8 1098 1394.6 1098.2 1395.4 1099.5 1396.2 1100.7 1397 1099.9 1397.8 1101.6 1398.6 1097.9 1399.4 1100.4 1400.2 1100 1401 1099.4 1401.8 1098.8 1402.6 1100.7 1403.4 1100.2 1404.2 1099 1405 1100 1405.8 1099.8 1406.6 1100.5 1407.4 1100 1408.2 1098.8 1409 1099.6 1409.8 1100.2 1410.6 1098 1411.4 1100.7 1412.2 1097.2 1413 1099.5 1413.8 1098.6 1414.6 1099.9 1415.4 1101.6 1416.2 1098.6 1417 1098.5 1417.8 1099.5 1418.6 1098.5 1419.4 1101.1 1420.2 1099.8 1421 1100.3 1421.8 1098.1 1422.6 1100.2 1423.4 1098.4 1424.2 1099.1 1425 1099.2 1425.8 1099.1 1426.6 1098.6 1427.4 1098.9 1428.2 1100.5 1429 1099.1 1429.8 1099.6 1430.6 1099.8 1431.4 1099.9 1432.2 1099.6 1433 1100.1 1433.8 1098.2 1434.6 1099.4 1435.4 1097.2 1436.2 1099.6 1437 1100.4 1437.8 1098.4 1438.6 1100.1 1439.4 1100.8 1440.2 1100.1 1441 1101 1441.8 1100.1 1442.6 1099.9 1443.4 1099.6 1444.2 1098.3 1445 1099.8 1445.8 1098.8 1446.6 1102.8 1447.4 1100 1448.2 1098.9 1449 1100.4 1449.8 1098.7 1450.6 1098.7 1451.4 1099.7 1452.2 1099.8 1453 1099.4 1453.8 1098.7 1454.6 1100.8 1455.4 1098.6 1456.2 1097.9 1457 1100.7 1457.8 1100.5 1458.6 1098.2 1459.4 1100.1 1460.2 1097.2 1461 1100.1 1461.8 1098.8 1462.6 1099.1 1463.4 1098.4 1464.2 1098.1 1465 1098.5 1465.8 1098.3 1466.6 1100.1 1467.4 1095.8 1468.2 1099.3 1469 1099.3 1469.8 1099.4 1470.6 1099 1471.4 1098.8 1472.2 1099.4 1473 1098.7 1473.8 1098.8 1474.6 1100.9 1475.4 1099.1 1476.2 1100.4 1477 1098.3 1477.8 1101.4 1478.6 1098.6 1479.4 1099.1 1480.2 1100.7 1481 1098.5 1481.8 1099.5 1482.6 1098 1483.4 1097.2 1484.2 1099.7 1485 1099.4 1485.8 1099.5 1486.6 1099 1487.4 1099.2 1488.2 1099.8 1489 1099.2 1489.8 1099.4 1490.6 1100.8 1491.4 1099.6 1492.2 1099.5 1493 1098.4 1493.8 1098.6 1494.6 1099.2 1495.4 1100.6 1496.2 1096.2 1497 1098.6 1497.8 1095.6 1498.6 1099.2 1499.4 1099.3 1500.2 1098 1501 1099.3 1501.8 1098.9 1502.6 1099 1503.4 1098.6 1504.2 1094.3 1505 1089.9 1505.8 1085.4 1506.6 1078.5 1507.2 1078.6 1508.2 1082.6 1509 1091.3 1509.8 1094.4 1510.6 1097.5 1511.4 1097 1512.2 1098.2 1513 1100 1513.8 1098.9 1514.6 1098.9 1515.4 1100 1516.2 1100.8 1517 1097.7 1517.8 1100 1518.6 1099.8 1519.4 1099.5 1520.2 1098.5 1521 1099.5 1521.8 1097.2 1522.6 1100.2 1523.4 1099.2 1524.2 1099.6 1525 1096.7 1525.8 1098.9 1526.6 1100.3 1527.4 1098.1 1528.2 1099.1 1529 1100 1529.8 1097 1530.6 1099.4 1531.4 1099.2 1532.2 1100.4 1533 1098.8 1533.8 1098.3 1534.6 1098 1535.4 1099.6 1536.2 1098.6 1537 1096.6 1537.8 1098.9 1538.6 1099 1539.4 1097.5 1540.2 1096.9 1541 1094.6 1541.8 1094.6 1542.6 1094.2 1543.4 1095.9 1544.2 1095.7 1545 1097.4 1545.8 1100.7 1546.6 1098.8 1547.4 1099.6 1548.2 1099 1549 1099 1549.8 1100.6 1550.6 1098.7 1551.4 1097.3 1552.2 1096.3 1553 1099.9 1553.8 1097.7 1554.6 1099.3 1555.4 1100 1556.2 1099.7 1557 1099.5 1557.8 1099.4 1558.6 1099.7 1559.4 1097 1560.2 1098.5 1561 1098.6 1561.8 1096.4 1562.6 1093.6 1563.4 1098.8 1564.2 1094.6 1565 1097.5 1565.8 1096.4 1566.6 1096.8 1567.4 1095.4 1568.2 1096.3 1569 1093.5 1569.8 1094 1570.6 1093.5 1571.4 1092.7 1572.2 1092.8 1573 1094 1573.8 1093.1 1574.6 1092.9 1575.4 1092.2 1576.2 1092.1 1577 1093.4 1577.8 1092.3 1578.6 1093.1 1579.4 1091 1580.2 1093.8 1581 1094.5 1581.8 1094 1582.6 1095.3 1583.4 1094.8 1584.2 1092.4 1585 1083.7 1585.9 1080.2 1586.6 1084.3 1587.4 1094.1 1588.2 1095.7 1589 1098.5 1589.8 1097.8 1590.6 1099.2 1591.4 1100 1592.2 1098.6 1593 1098.3 1593.8 1098.5 1594.6 1097 1595.4 1098.3 1596.2 1098.9 1597 1098.5 1597.8 1098.6 1598.6 1099.5 1599.4 1098.5 1600.2 1093.5 1601 1086.6 1601.8 1076.1 1602.2 1075.4 1602.6 1075.9 1603.4 1085.4 1604.2 1095 1605 1098 1605.8 1097.6 1606.6 1097.5 1607.4 1098.6 1608.2 1095.5 1609 1099.2 1609.8 1100 1610.6 1099.2 1611.4 1100 1612.2 1100.1 1613 1097.1 1613.8 1100 1614.6 1099.4 1615.4 1099.3 1616.2 1100 1617 1098.7 1617.8 1099.2 1618.6 1097.6 1619.4 1099.6 1620.2 1095.5 1621 1098.6 1621.8 1100.3 1622.6 1099.7 1623.4 1099.8 1624.2 1100.3 1625 1099.2 1625.8 1097.9 1626.6 1097.7 1627.4 1099.1 1628.2 1100.2 1629 1101.1 1629.8 1098 1630.6 1097.7 1631.4 1097.9 1632.2 1097.9 1633 1100.1 1633.8 1100.7 1634.6 1099.3 1635.4 1099.9 1636.2 1099.1 1637 1098.2 1637.8 1099.7 1638.6 1099 1639.4 1099 1640.2 1098.1 1641 1098.8 1641.8 1098 1642.6 1100.1 1643.4 1097.7 1644.2 1098 1645 1098.8 1645.8 1100.2 1646.6 1097.1 1647.4 1100.5 1648.2 1099.8 1649 1100.1 1649.8 1100.6 1650.6 1099.5 1651.4 1099.2 1652.2 1098.4 1653 1098.5 1653.8 1099.4 1654.6 1100.2 1655.4 1099.8 1656.2 1100 1657 1100.1 1657.8 1100 1658.6 1099.1 1659.4 1099.6 1660.2 1099.3 1661 1099.1 1661.8 1098.6 1662.6 1098 1663.4 1099.3 1664.2 1100.6 1665 1097.6 1665.8 1099.8 1666.6 1098.2 1667.4 1098.8 1668.2 1098.8 1669 1097.5 1669.8 1098.3 1670.6 1100.6 1671.4 1099.4 1672.2 1099.2 1673 1098.8 1673.8 1100.4 1674.6 1099.2 1675.4 1099.8 1676.2 1099.8 1677 1095.9 1677.8 1098.6 1678.6 1100.7 1679.4 1100.2 1680.2 1099.3 1681 1098.7 1681.8 1098.9 1682.6 1098.5 1683.4 1099.9 1684.2 1099.3 1685 1096.5 1685.8 1099.6 1686.6 1099.1 1687.4 1099.7 1688.2 1099 1689 1099.5 1689.8 1099.2 1690.6 1099.7 1691.4 1097.6 1692.2 1097.9 1693 1094.8 1693.8 1091 1694.5 1089.6 1695.4 1091.5 1696.2 1095.2 1697 1098.7 1697.8 1099.1 1698.6 1099 1699.4 1100.7 1700.2 1099.7 1701 1098.6 1701.8 1099.5 1702.6 1099.4 1703.4 1100.4 1704.2 1100.1 1705 1099.6 1705.8 1099.5 1706.6 1100.1 1707.4 1098.6 1708.2 1099.1 1709 1096.7 1709.8 1097.9 1710.6 1099.9 1711.4 1101 1712.2 1099.6 1713 1098.8 1713.8 1098.2 1714.6 1099.5 1715.4 1100.2 1716.2 1100.3 1717 1100.5 1717.8 1099.8 1718.6 1100.6 1719.4 1098.7 1720.2 1099.5 1721 1098.2 1721.8 1097.9 1722.6 1100.7 1723.4 1098.9 1724.2 1099.2 1725 1097.1 1725.8 1098.5 1726.6 1099.9 1727.4 1099.4 1728.2 1100.2 1729 1099.9 1729.8 1100 1730.6 1100.2 1731.4 1098.7 1732.2 1099.4 1733 1100.1 1733.8 1099.5 1734.6 1099.5 1735.4 1099.1 1736.2 1099.6 1737 1097.1 1737.8 1100.3 1738.6 1101.4 1739.4 1098.9 1740.2 1096 1741 1098.1 1741.8 1097.8 1742.6 1098.1 1743.4 1098.6 1744.2 1100 1745 1098.8 1745.8 1099.9 1746.6 1101.1 1747.4 1100 1748.2 1096.5 1749 1099.7 1749.8 1100.4 1750.6 1099 1751.4 1098.7 1752.2 1099.9 1753 1099.1 1753.8 1097.8 1754.6 1099.4 1755.4 1098.6 1756.2 1098.9 1757 1098 1757.8 1099.1 1758.6 1098.8 1759.4 1099.4 1760.2 1099.9 1761 1099.6 1761.8 1096.4 1762.6 1099.4 1763.4 1096.8 1764.2 1099.5 1765 1100.5 1765.8 1100 1766.6 1096.8 1767.4 1099.3 1768.2 1100.7 1769 1099.2 1769.8 1101.3 1770.6 1099 1771.4 1100.1 1772.2 1099.3 1773 1098.7 1773.8 1099.6 1774.6 1098.9 1775.4 1098.5 1776.2 1099.6 1777 1099.1 1777.8 1099 1778.6 1097 1779.4 1099.3 1780.2 1099.7 1781 1099.9 1781.8 1097.5 1782.6 1099.1 1783.4 1097.6 1784.2 1099.2 1785 1099.7 1785.8 1099.9 1786.6 1098.8 1787.4 1099.5 1788.2 1099.7 1789 1100.4 1789.8 1100 1790.6 1099.3 1791.4 1100.1 1792.2 1099.5 1793 1098.8 1793.8 1100.9 1794.6 1099.8 1795.4 1099.7 1796.2 1099.5 1797 1098 1797.8 1100.2 1798.6 1099.2 1799.4 1098 1800.2 1100.6 1801 1100.3 1801.8 1100.7 1802.6 1096.4 1803.4 1100 1804.2 1098.9 1805 1100 1805.8 1099.2 1806.6 1099.1 1807.4 1098.3 1808.2 1099.9 1809 1098.9 1809.8 1100 1810.6 1099.1 1811.4 1098.3 1812.2 1096.7 1813 1098.4 1813.8 1099.5 1814.6 1098.3 1815.4 1099.5 1816.2 1101.2 1817 1096.3 1817.8 1098.1 1818.6 1099.3 1819.4 1099.4 1820.2 1101.9 1821 1099.9 1821.8 1097.9 1822.6 1099.5 1823.4 1099.9 1824.2 1100.1 1825 1098.9 1825.8 1098 1826.6 1099.5 1827.4 1099.7 1828.2 1098.7 1829 1099.1 1829.8 1096.1 1830.6 1098.9 1831.4 1099.9 1832.2 1098.3 1833 1100.2 1833.8 1099.5 1834.6 1097.9 1835.4 1099.1 1836.2 1097.8 1837 1099.2 1837.8 1099.8 1838.6 1097.7 1839.4 1098.9 1840.2 1101.3 1841 1099.3 1841.8 1099.7" stroke="#000" stroke-width="3" fill="none" stroke-linejoin="round"/>
<path d="M1840 1099.9H1856" stroke="#000" stroke-width="2.2"/>
<path d="M1430.9 1520.7L1885.7 1055.2" stroke="#000" stroke-width="2.6" fill="none"/>
<path d="M7.5 1520.7H1430.9" stroke="#000" stroke-width="3" fill="none"/>
<path d="M33.4 1520.7V1526.7M85.1 1520.7V1526.7M136.9 1520.7V1533.7M188.7 1520.7V1526.7M240.4 1520.7V1526.7M292.2 1520.7V1526.7M343.9 1520.7V1526.7M395.7 1520.7V1533.7M447.5 1520.7V1526.7M499.2 1520.7V1526.7M551 1520.7V1526.7M602.7 1520.7V1526.7M654.5 1520.7V1533.7M706.3 1520.7V1526.7M758 1520.7V1526.7M809.8 1520.7V1526.7M861.5 1520.7V1526.7M913.3 1520.7V1533.7M965.1 1520.7V1526.7M1016.8 1520.7V1526.7M1068.6 1520.7V1526.7M1120.3 1520.7V1526.7M1172.1 1520.7V1533.7M1223.9 1520.7V1526.7M1275.6 1520.7V1526.7M1327.4 1520.7V1526.7M1379.1 1520.7V1526.7M1430.9 1520.7V1533.7" stroke="#000" stroke-width="3" fill="none"/>
<g font-family="'Liberation Serif','Times New Roman',serif" fill="#000">
<text transform="translate(136.9 1573.3) scale(1 1.07)" font-size="37" font-weight="bold" text-anchor="middle">10</text>
<text transform="translate(395.7 1573.3) scale(1 1.07)" font-size="37" font-weight="bold" text-anchor="middle">20</text>
<text transform="translate(654.5 1573.3) scale(1 1.07)" font-size="37" font-weight="bold" text-anchor="middle">30</text>
<text transform="translate(913.3 1573.3) scale(1 1.07)" font-size="37" font-weight="bold" text-anchor="middle">40</text>
<text transform="translate(1172.1 1573.3) scale(1 1.07)" font-size="37" font-weight="bold" text-anchor="middle">50</text>
<text transform="translate(1430.9 1573.3) scale(1 1.07)" font-size="37" font-weight="bold" text-anchor="middle">60</text>
<text x="635" y="1619.5" font-size="38" font-weight="bold">2θ(degree)</text>
<text transform="translate(1518.7 1492.9) scale(1 1.05)" font-size="35.5" font-weight="bold">N0</text>
<text transform="translate(1609.7 1399.8) scale(1 1.05)" font-size="35.5" font-weight="bold">N2</text>
<text transform="translate(1700.6 1306.7) scale(1 1.05)" font-size="35.5" font-weight="bold">N5</text>
<text transform="translate(1791.6 1213.6) scale(1 1.05)" font-size="35.5" font-weight="bold">N6</text>
<text transform="translate(1882.5 1120.5) scale(1 1.05)" font-size="35.5" font-weight="bold">N7</text>
<text transform="translate(755.5 930.3) scale(1.02 1.03)" font-size="43" text-anchor="middle">3</text>
<text transform="translate(547.4 1063.4) scale(1.02 1.03)" font-size="43" text-anchor="middle">1</text>
<text transform="translate(828 1071) scale(1.02 1.03)" font-size="43" text-anchor="middle">2</text>
<text transform="translate(979.4 999.8) scale(1.02 1.03)" font-size="43" text-anchor="middle">2</text>
<text transform="translate(1056.1 1050.8) scale(1.02 1.03)" font-size="43" text-anchor="middle">5</text>
<text transform="translate(1089.8 1070.4) scale(1.02 1.03)" font-size="43" text-anchor="middle">4</text>
<text transform="translate(1131.7 1070.4) scale(1.02 1.03)" font-size="43" text-anchor="middle">4</text>
<text transform="translate(1171.1 1031.1) scale(1.02 1.03)" font-size="43" text-anchor="middle">3</text>
<text transform="translate(1505 1072) scale(1.02 1.03)" font-size="43" text-anchor="middle">3</text>
<text transform="translate(1577.2 1072) scale(1.02 1.03)" font-size="43" text-anchor="middle">5</text>
<text transform="translate(1621.1 1072) scale(1.02 1.03)" font-size="43" text-anchor="middle">3</text>
<g transform="translate(0 843) scale(1 1.05)">
<text x="972.6" y="0" font-size="43.5">1-AFt</text>
<text x="1119.5" y="0" font-size="43.5">2-SiO<tspan font-size="28" dy="9.5">2</tspan></text>
<text x="1276" y="0" font-size="43.5">3-CH</text>
<text x="1416" y="0" font-size="43.5">4-C<tspan font-size="28" dy="9.5">3</tspan><tspan dy="-9.5">S,C</tspan><tspan font-size="28" dy="9.5">2</tspan><tspan dy="-9.5">S</tspan></text>
<text x="1655.5" y="0" font-size="43.5">5-C-S-H</text>
</g>
</g>
</svg>
</body></html>
